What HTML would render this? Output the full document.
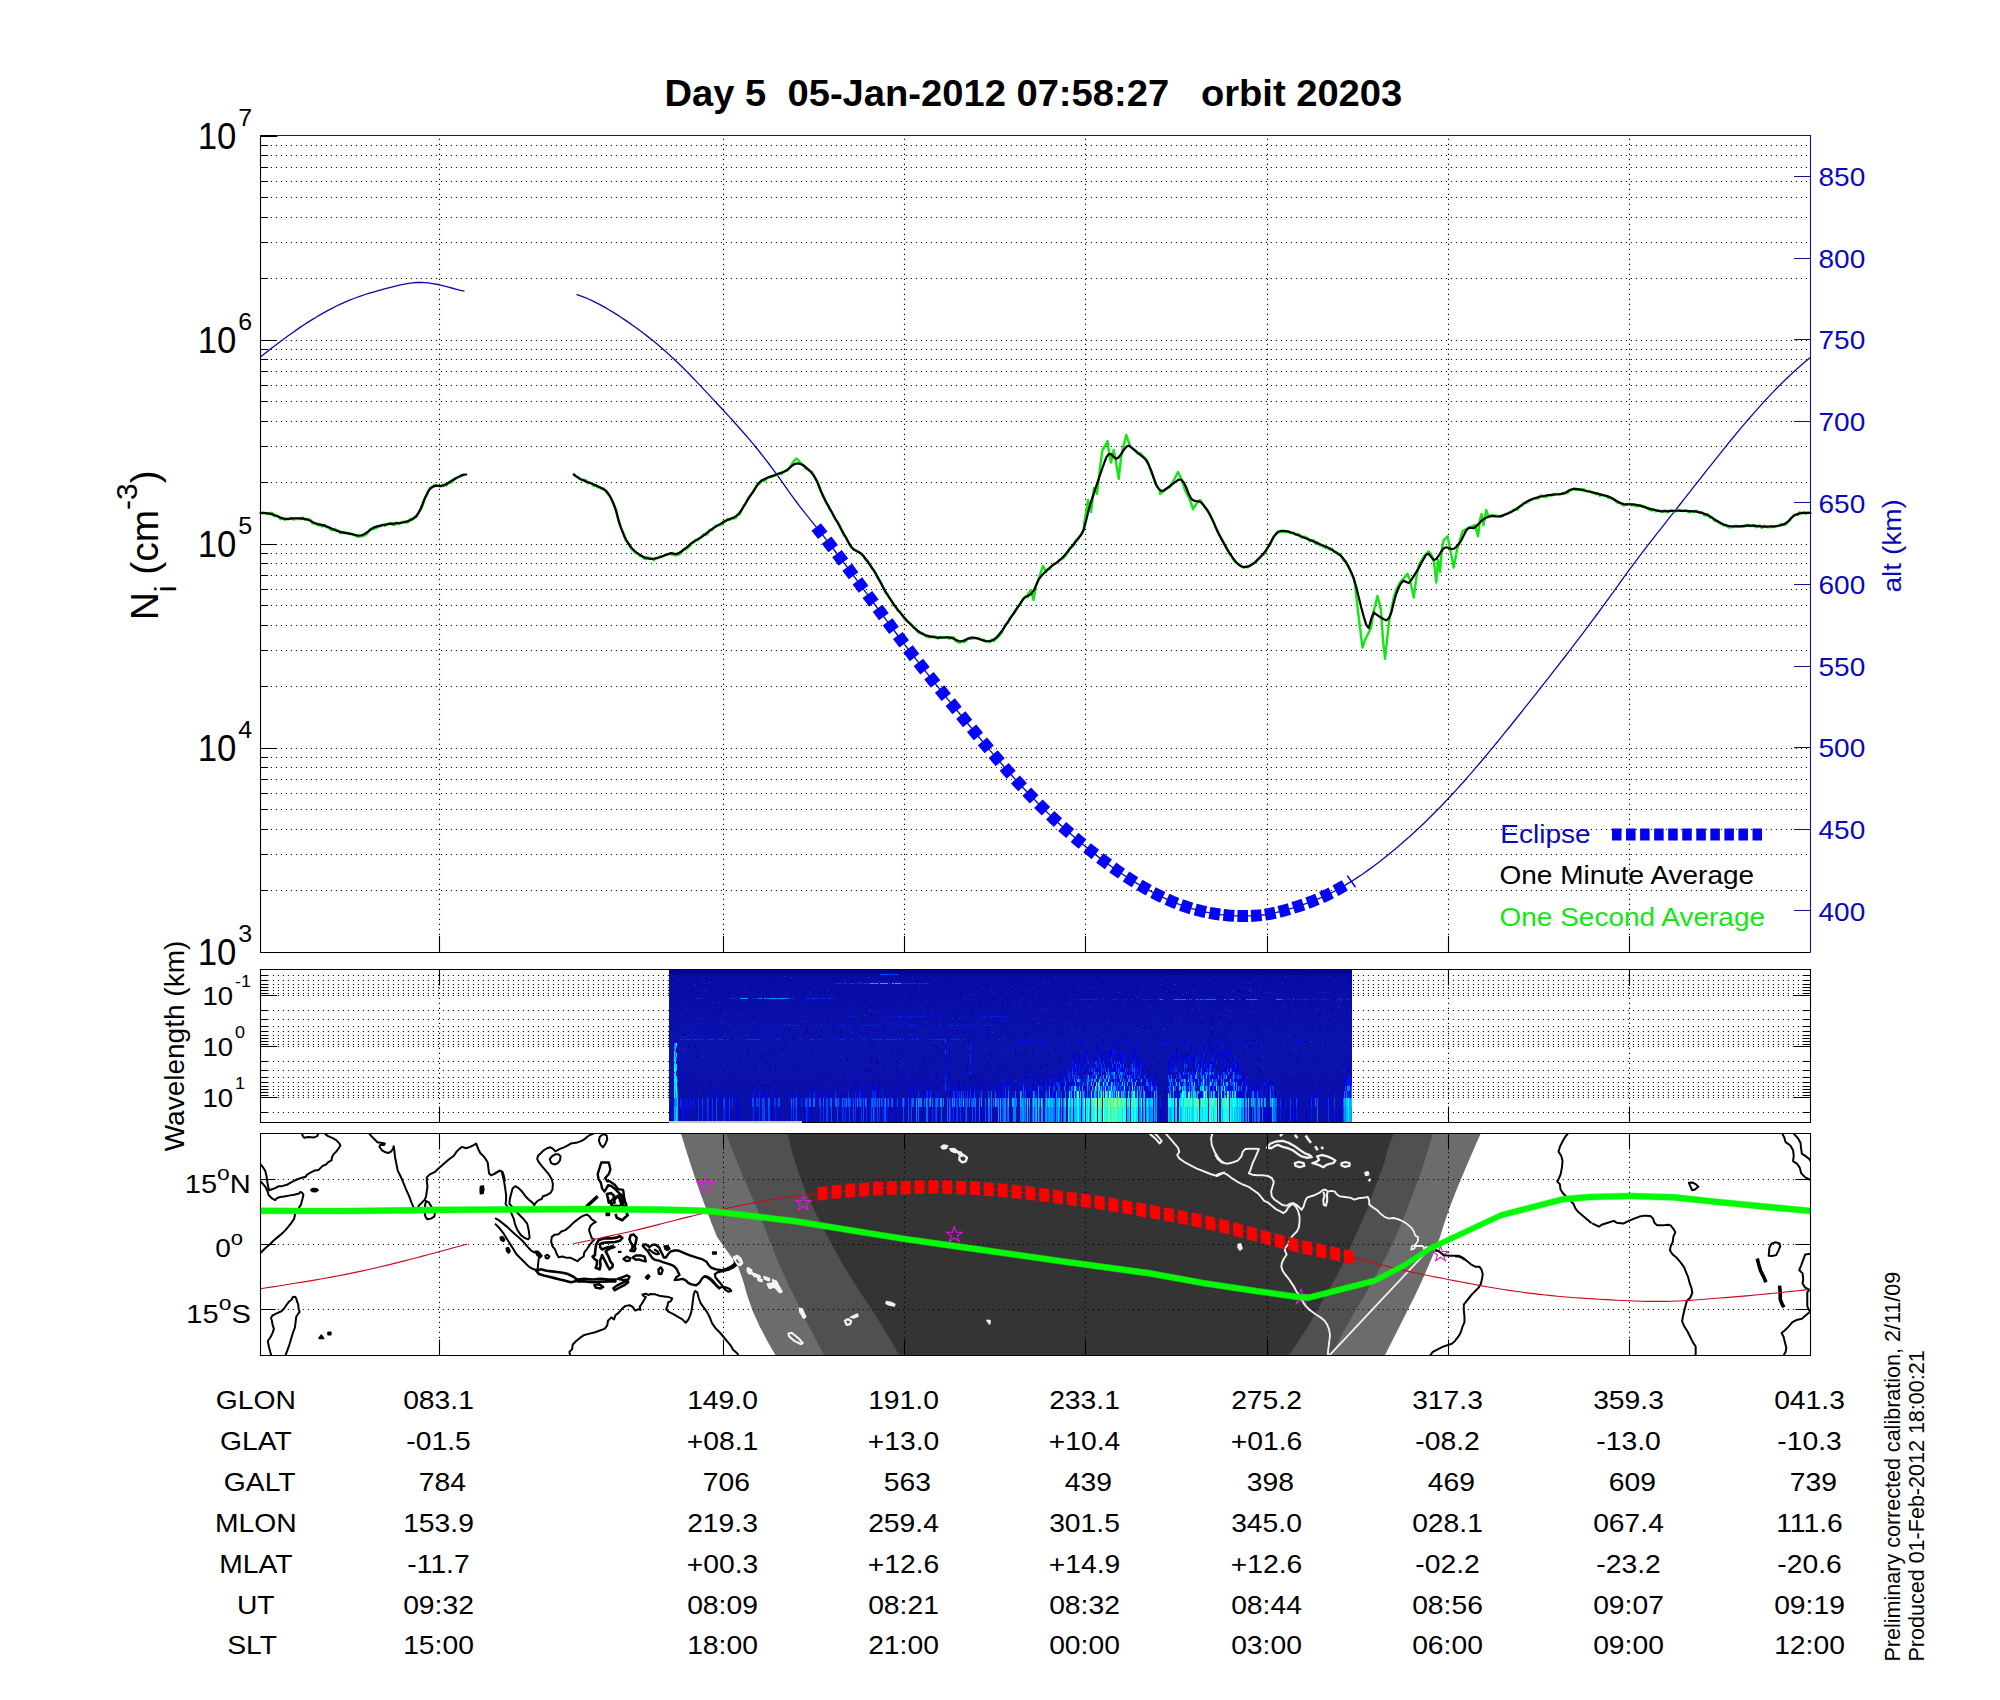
<!DOCTYPE html>
<html lang="en"><head><meta charset="utf-8"><title>Day 5 05-Jan-2012 orbit 20203</title>
<style>html,body{margin:0;padding:0;background:#fff;}svg{display:block;}text{font-family:"Liberation Sans",sans-serif;}</style>
</head><body>
<svg width="2000" height="1700" viewBox="0 0 2000 1700">
<rect width="2000" height="1700" fill="#fff"/>
<text transform="translate(1033.4,106.4) scale(1.04,1)" font-size="36.67" text-anchor="middle" fill="#000" font-weight="bold" id="title" xml:space="preserve">Day 5  05-Jan-2012 07:58:27   orbit 20203</text>
<g id="grid1" stroke="#000" stroke-width="1.1" stroke-dasharray="1.1 3.9">
<path d="M270.85 278.5H1810.5M270.85 242.5H1810.5M270.85 217.5H1810.5M270.85 197.5H1810.5M270.85 181.5H1810.5M270.85 167.5H1810.5M270.85 155.5H1810.5M270.85 145.5H1810.5M270.85 482.5H1810.5M270.85 446.5H1810.5M270.85 421.5H1810.5M270.85 401.5H1810.5M270.85 385.5H1810.5M270.85 371.5H1810.5M270.85 359.5H1810.5M270.85 349.5H1810.5M270.85 686.5H1810.5M270.85 650.5H1810.5M270.85 625.5H1810.5M270.85 605.5H1810.5M270.85 589.5H1810.5M270.85 575.5H1810.5M270.85 563.5H1810.5M270.85 553.5H1810.5M270.85 890.5H1810.5M270.85 854.5H1810.5M270.85 829.5H1810.5M270.85 809.5H1810.5M270.85 793.5H1810.5M270.85 779.5H1810.5M270.85 767.5H1810.5M270.85 757.5H1810.5M270.85 340.5H1810.5M270.85 544.5H1810.5M270.85 748.5H1810.5" fill="none"/>
<path d="M439.5 138.85V952.5M723.5 138.85V952.5M904.5 138.85V952.5M1085.5 138.85V952.5M1267.5 138.85V952.5M1448.5 138.85V952.5M1629.5 138.85V952.5" fill="none"/>
</g>
<g id="alt" fill="none" stroke="#0a0aaa" stroke-width="1.3">
<path d="M260.5 357 264.5 353.8 268.5 350.63 272.5 347.52 276.5 344.44 280.5 341.42 284.5 338.45 288.5 335.54 292.5 332.68 296.5 329.89 300.5 327.16 304.5 324.5 308.5 321.91 312.5 319.4 316.5 316.96 320.5 314.61 324.5 312.33 328.5 310.15 332.5 308.05 336.5 306.04 340.5 304.13 344.5 302.32 348.5 300.61 352.5 299.01 356.5 297.5 360.5 296.09 364.5 294.75 368.5 293.49 372.5 292.29 376.5 291.13 380.5 290.02 384.5 288.95 388.5 287.89 392.5 286.85 396.5 285.84 400.5 284.9 404.5 284.06 408.5 283.36 412.5 282.84 416.5 282.52 420.5 282.45 424.5 282.6 428.5 282.97 432.5 283.52 436.5 284.25 440.5 285.12 444.5 286.1 448.5 287.17 452.5 288.25 456.5 289.3 460.5 290.28 464.5 291.14"/>
<path d="M576.5 294.42 580.5 295.79 584.5 297.33 588.5 299.02 592.5 300.86 596.5 302.83 600.5 304.92 604.5 307.14 608.5 309.46 612.5 311.88 616.5 314.4 620.5 316.99 624.5 319.66 628.5 322.4 632.5 325.2 636.5 328.07 640.5 331.01 644.5 334.03 648.5 337.13 652.5 340.32 656.5 343.59 660.5 346.96 664.5 350.43 668.5 353.99 672.5 357.65 676.5 361.43 680.5 365.3 684.5 369.27 688.5 373.33 692.5 377.45 696.5 381.62 700.5 385.84 704.5 390.1 708.5 394.38 712.5 398.66 716.5 402.94 720.5 407.23 724.5 411.54 728.5 415.88 732.5 420.27 736.5 424.7 740.5 429.2 744.5 433.78 748.5 438.43 752.5 443.17 756.5 448.02 760.5 452.97 764.5 458.05 768.5 463.25 772.5 468.59 776.5 474.07 780.5 479.69 784.5 485.35 788.5 491.01 792.5 496.59 796.5 502.01 800.5 507.27 804.5 512.39 808.5 517.42 812.5 522.4 816.5 527.37 820.5 532.39 824.5 537.46 828.5 542.59 832.5 547.77 836.5 553 840.5 558.28 844.5 563.59 848.5 568.93 852.5 574.3 856.5 579.69 860.5 585.1 864.5 590.52 868.5 595.95 872.5 601.39 876.5 606.82 880.5 612.24 884.5 617.65 888.5 623.04 892.5 628.42 896.5 633.76 900.5 639.07 904.5 644.34 908.5 649.58 912.5 654.77 916.5 659.92 920.5 665.04 924.5 670.12 928.5 675.17 932.5 680.2 936.5 685.2 940.5 690.17 944.5 695.12 948.5 700.06 952.5 704.97 956.5 709.88 960.5 714.77 964.5 719.65 968.5 724.52 972.5 729.38 976.5 734.22 980.5 739.03 984.5 743.82 988.5 748.57 992.5 753.3 996.5 757.98 1000.5 762.61 1004.5 767.2 1008.5 771.74 1012.5 776.22 1016.5 780.64 1020.5 785 1024.5 789.29 1028.5 793.51 1032.5 797.66 1036.5 801.75 1040.5 805.77 1044.5 809.73 1048.5 813.62 1052.5 817.44 1056.5 821.2 1060.5 824.9 1064.5 828.53 1068.5 832.1 1072.5 835.61 1076.5 839.06 1080.5 842.44 1084.5 845.77 1088.5 849.03 1092.5 852.24 1096.5 855.38 1100.5 858.46 1104.5 861.48 1108.5 864.43 1112.5 867.31 1116.5 870.12 1120.5 872.87 1124.5 875.55 1128.5 878.15 1132.5 880.69 1136.5 883.15 1140.5 885.53 1144.5 887.84 1148.5 890.07 1152.5 892.21 1156.5 894.28 1160.5 896.25 1164.5 898.14 1168.5 899.94 1172.5 901.65 1176.5 903.27 1180.5 904.79 1184.5 906.21 1188.5 907.53 1192.5 908.75 1196.5 909.87 1200.5 910.89 1204.5 911.81 1208.5 912.64 1212.5 913.37 1216.5 914 1220.5 914.55 1224.5 915.01 1228.5 915.38 1232.5 915.66 1236.5 915.86 1240.5 915.97 1244.5 916.01 1248.5 915.96 1252.5 915.83 1256.5 915.59 1260.5 915.24 1264.5 914.76 1268.5 914.13 1272.5 913.35 1276.5 912.45 1280.5 911.44 1284.5 910.35 1288.5 909.21 1292.5 908.02 1296.5 906.79 1300.5 905.5 1304.5 904.14 1308.5 902.72 1312.5 901.21 1316.5 899.62 1320.5 897.94 1324.5 896.15 1328.5 894.26 1332.5 892.25 1336.5 890.13 1340.5 887.91 1344.5 885.59 1348.5 883.18 1352.5 880.68 1356.5 878.1 1360.5 875.43 1364.5 872.69 1368.5 869.86 1372.5 866.96 1376.5 863.98 1380.5 860.93 1384.5 857.8 1388.5 854.6 1392.5 851.33 1396.5 847.98 1400.5 844.57 1404.5 841.09 1408.5 837.54 1412.5 833.92 1416.5 830.24 1420.5 826.49 1424.5 822.67 1428.5 818.78 1432.5 814.82 1436.5 810.79 1440.5 806.7 1444.5 802.53 1448.5 798.3 1452.5 794 1456.5 789.63 1460.5 785.2 1464.5 780.71 1468.5 776.16 1472.5 771.56 1476.5 766.91 1480.5 762.21 1484.5 757.46 1488.5 752.68 1492.5 747.85 1496.5 742.99 1500.5 738.09 1504.5 733.17 1508.5 728.22 1512.5 723.24 1516.5 718.24 1520.5 713.23 1524.5 708.2 1528.5 703.16 1532.5 698.1 1536.5 693.05 1540.5 687.98 1544.5 682.9 1548.5 677.8 1552.5 672.7 1556.5 667.57 1560.5 662.43 1564.5 657.26 1568.5 652.08 1572.5 646.87 1576.5 641.63 1580.5 636.37 1584.5 631.08 1588.5 625.76 1592.5 620.4 1596.5 615.01 1600.5 609.59 1604.5 604.12 1608.5 598.62 1612.5 593.08 1616.5 587.53 1620.5 581.98 1624.5 576.45 1628.5 570.96 1632.5 565.54 1636.5 560.18 1640.5 554.88 1644.5 549.63 1648.5 544.44 1652.5 539.29 1656.5 534.18 1660.5 529.09 1664.5 524.03 1668.5 518.97 1672.5 513.92 1676.5 508.85 1680.5 503.77 1684.5 498.67 1688.5 493.57 1692.5 488.47 1696.5 483.37 1700.5 478.28 1704.5 473.19 1708.5 468.13 1712.5 463.08 1716.5 458.05 1720.5 453.06 1724.5 448.09 1728.5 443.17 1732.5 438.28 1736.5 433.44 1740.5 428.65 1744.5 423.91 1748.5 419.24 1752.5 414.62 1756.5 410.08 1760.5 405.6 1764.5 401.2 1768.5 396.89 1772.5 392.65 1776.5 388.51 1780.5 384.46 1784.5 380.51 1788.5 376.66 1792.5 372.91 1796.5 369.28 1800.5 365.76 1804.5 362.36 1808.5 359.09 1810.5 357.5"/>
</g>
<g id="sec" fill="none" stroke="#14e614" stroke-width="2.4" stroke-linejoin="round">
<path d="M260.5 512.47 262.5 513.29 264.5 512.88 266.5 513.72 268.5 514.05 270.5 512.83 272.5 513.24 274.5 516.28 276.5 515.49 278.5 516.27 280.5 519.19 282.5 518.37 284.5 519.83 286.5 518.98 288.5 519.41 290.5 517.89 292.5 519.06 294.5 519.54 296.5 518.5 298.5 519.17 300.5 519.09 302.5 517.56 304.5 519.78 306.5 519.7 308.5 519.49 310.5 519.77 312.5 523.3 314.5 523.19 316.5 524.5 318.5 525.42 320.5 525.39 322.5 526.42 324.5 525.49 326.5 527.33 328.5 527.16 330.5 529.43 332.5 530.19 334.5 528.9 336.5 529.83 338.5 530.75 340.5 533.37 342.5 532.32 344.5 533.24 346.5 532.7 348.5 533.66 350.5 533.74 352.5 534.1 354.5 535.24 356.5 535.71 358.5 536.97 360.5 536.23 362.5 536.4 364.5 535.25 366.5 534.27 368.5 531.81 370.5 528.82 372.5 529.38 374.5 528.67 376.5 527.9 378.5 526.43 380.5 526.36 382.5 524.52 384.5 525.87 386.5 524.81 388.5 523.71 390.5 522.86 392.5 524.89 394.5 525.1 396.5 522.41 398.5 524.21 400.5 522.88 402.5 521.82 404.5 521.76 406.5 522.51 408.5 522.09 410.5 518.91 412.5 519.5 414.5 516.74 416.5 516.81 418.5 512.53 420.5 510.28 422.5 505.85 424.5 499.34 426.5 496 428.5 490.6 430.5 487.48 432.5 487.33 434.5 484.91 436.5 485.14 438.5 485.79 440.5 486.47 442.5 485.09 444.5 484.17 446.5 485.35 448.5 482.53 450.5 483.02 452.5 481.55 454.5 478.89 456.5 478.02 458.5 477.12 460.5 476.48 462.5 475.47 464.5 474.89"/>
<path d="M573.75 473.97 575.75 476.27 577.75 477.14 579.75 479.04 581.75 480.19 583.75 479.55 585.75 480.25 587.75 483.34 589.75 482.47 591.75 483.16 593.75 486.07 595.75 485.44 597.75 487.37 599.75 487.33 601.75 488.81 603.75 488.52 605.75 491.11 607.75 494.03 609.75 496.11 611.75 500.36 613.75 504.8 615.75 508.81 617.75 518.08 619.75 524.7 621.75 529.56 623.75 533.82 625.75 540.34 627.75 542.58 629.75 546.23 631.75 549.24 633.75 550.93 635.75 553.24 637.75 553.32 639.75 555.87 641.75 556.09 643.75 558.45 645.75 559.01 647.75 557.42 649.75 557.96 651.75 558.35 653.75 560.25 655.75 558.32 657.75 558.31 659.75 556.8 661.75 556.72 663.75 555.67 665.75 554.74 667.75 554.55 669.75 553.77 671.75 554.45 673.75 554.34 675.75 555.46 677.75 554.83 679.75 554.1 681.75 551.89 683.75 548.99 685.75 549.35 687.75 547.92 689.75 546.02 691.75 543.45 693.75 542.44 695.75 539.78 697.75 540.34 699.75 538.43 701.75 536.36 703.75 534.33 705.75 535.02 707.75 533.84 709.75 529.77 711.75 530.3 713.75 527.88 715.75 525.9 717.75 525.09 719.75 525.24 721.75 524.38 723.75 520.9 725.75 521.35 727.75 518.81 729.75 519.9 731.75 518.04 733.75 518.69 735.75 517.83 737.75 515 739.75 514.19 741.75 509.43 743.75 505.52 745.75 503.55 747.75 498.58 749.75 495.96 751.75 493.63 753.75 491.08 755.75 486.71 757.75 483.53 759.75 483.42 761.75 480.12 763.75 480.88 765.75 479.82 767.75 477.56 769.75 477.03 771.75 476.46 773.75 476.07 775.75 475.18 777.75 474.33 779.75 473.76 781.75 473.92 783.75 471.95 785.75 470.91 787.75 470.31 789.75 467.17 790 467 794 461 796.75 458.5 800 462 803 465 803.75 465.38 805.75 468.8 807.75 469.23 809.75 471.12 811.75 471.71 813.75 475.46 815.75 479.31 817.75 482.05 819.75 488.57 821.75 493.56 823.75 496.52 825.75 501.91 827.75 505.06 829.75 509.25 831.75 511.94 833.75 516.53 835.75 520.22 837.75 521.81 839.75 525.52 841.75 530.84 843.75 535.25 845.75 536.85 847.75 541.03 849.75 545.01 851.75 547.3 853.75 549.32 855.75 550.34 857.75 551.37 859.75 553.02 861.75 553.8 863.75 556.41 865.75 560.06 867.75 560.62 869.75 564.9 871.75 568.27 873.75 570.16 875.75 573.18 877.75 578.34 879.75 580.48 881.75 584.13 883.75 588.56 885.75 592.87 887.75 594.48 889.75 598.16 891.75 601.14 893.75 605.39 895.75 607.02 897.75 610.83 899.75 611.46 901.75 614.39 903.75 617.64 905.75 620.57 907.75 621.53 909.75 622.98 911.75 624.67 913.75 627.7 915.75 628.51 917.75 631.85 919.75 633.38 921.75 632.79 923.75 634.07 925.75 636.33 927.75 636.48 929.75 637.44 931.75 636.55 933.75 636.25 935.75 636.95 937.75 638.54 939.75 637.16 941.75 637.35 943.75 637.47 945.75 637.4 947.75 637.35 949.75 638.86 951.75 637.12 953.75 637.54 955.75 641.18 957.75 641.93 959.75 642.78 961.75 641.2 963.75 642.09 965.75 641.17 967.75 638.26 969.75 638.91 971.75 638.69 973.75 638.22 975.75 638.19 977.75 638.13 979.75 638.99 981.75 639.41 983.75 639.61 985.75 641.53 987.75 640.86 989.75 642.21 991.75 639.59 993.75 641.02 995.75 638.82 997.75 637.48 999.75 635.08 1001.75 632.42 1003.75 628.54 1005.75 623.96 1007.75 623.01 1009.75 618.41 1011.75 615.76 1013.75 613.78 1015.75 610.39 1017.75 607.08 1019.75 605.55 1021.75 601.64 1023.75 598.17 1025.75 596.34 1027.75 597.09 1028 594 1031 590 1033.5 600 1036 586 1040 575 1043 566 1046 572 1047.75 569.64 1049.75 568.71 1051.75 565.86 1053.75 563.94 1055.75 563.44 1057.75 562.76 1059.75 559.35 1061.75 559.27 1063.75 557.55 1065.75 554.95 1067.75 552.61 1069.75 547.86 1071.75 547.09 1073.75 545.25 1075.75 540.54 1077.75 538.77 1079.75 536.22 1081.75 534.02 1083.75 529.48 1084 525 1088 500 1091 512 1094 488 1097 494 1100 468 1102.5 450 1105 446 1107.5 441 1109 452 1111 462.5 1113.75 450 1116 462 1118.75 478.75 1121 458 1122.5 450 1126.25 435 1128 440 1130 446 1135 451 1135.75 451.17 1137.75 453.68 1139.75 453.18 1141.75 455 1143.75 456.86 1145.75 458.68 1147.75 461.82 1149.75 468.51 1151.75 473.24 1153.75 477.38 1155.75 484.14 1157.75 487.29 1159.75 489.72 1160 494 1165 490 1170 487 1175 478 1178 472 1181 478 1185 490 1190 500 1193 509 1197 503 1200 500 1201.75 502.73 1203.75 505.92 1205.75 508.42 1207.75 510.81 1209.75 513.85 1211.75 518.27 1213.75 522 1215.75 527.63 1217.75 532.43 1219.75 535.62 1221.75 538.63 1223.75 542.57 1225.75 546.63 1227.75 550.62 1229.75 554.32 1231.75 556.25 1233.75 560.3 1235.75 562.29 1237.75 563.8 1239.75 565.2 1241.75 566.61 1243.75 567.72 1245.75 566.91 1247.75 567.24 1249.75 565.81 1251.75 564.11 1253.75 563.55 1255.75 562.36 1257.75 558.76 1259.75 557.72 1261.75 555.54 1263.75 554.46 1265.75 552.08 1267.75 547.56 1269.75 545.37 1271.75 541.23 1273.75 536.27 1275.75 534.24 1277.75 531.49 1279.75 532.3 1281.75 531.42 1283.75 532.1 1285.75 532 1287.75 531.98 1289.75 532.76 1291.75 533.07 1293.75 532.58 1295.75 534.73 1297.75 533.89 1299.75 535.08 1301.75 537.65 1303.75 536.42 1305.75 537.36 1307.75 538.2 1309.75 541.21 1311.75 540.07 1313.75 540.45 1315.75 543.57 1317.75 542.38 1319.75 545.23 1321.75 545.59 1323.75 546.87 1325.75 548.04 1327.75 547.92 1329.75 549.57 1331.75 548.56 1333.75 551.81 1335.75 552.37 1337.75 554.26 1339.75 553.93 1341.75 557.47 1343.75 560.53 1345.75 561.12 1347.75 565.12 1349.75 569.41 1351.75 574.47 1353.75 578.1 1355 585 1359 620 1362.5 647.5 1365 640 1367.5 635 1371 628 1374 610 1377.5 596 1381 610 1383 640 1385 658.75 1387 640 1389 622 1393.75 597.5 1397 588 1400 582.5 1404 578 1407.5 573.75 1410 580 1413.75 597.5 1416 580 1418.75 565 1424 556 1428.75 551.25 1432 556 1434 562 1436.25 582.5 1438 560 1440 572 1442 548 1443.75 540 1447.5 536.25 1450 548 1453.75 567.5 1457 550 1460 540 1462.5 531.25 1468 528 1475 525 1478 536.25 1480 520 1481.5 514 1483.5 525 1486.25 510 1488.5 517 1492 515 1495 516 1495.75 515.7 1497.75 516.03 1499.75 516.84 1501.75 516.66 1503.75 514.99 1505.75 514.18 1507.75 513.44 1509.75 512.41 1511.75 511.61 1513.75 509.59 1515.75 509.51 1517.75 509.46 1519.75 506.46 1521.75 505.94 1523.75 502.89 1525.75 503.04 1527.75 502.03 1529.75 500.8 1531.75 499.53 1533.75 498.71 1535.75 498.52 1537.75 498.67 1539.75 496.07 1541.75 495.47 1543.75 496.89 1545.75 496.98 1547.75 495.56 1549.75 495.12 1551.75 495.7 1553.75 494.04 1555.75 494.11 1557.75 493.74 1559.75 494.6 1561.75 493.56 1563.75 492.87 1565.75 493.26 1567.75 492.86 1569.75 489.86 1571.75 490.06 1573.75 488.72 1575.75 490.03 1577.75 489.57 1579.75 489.05 1581.75 489.32 1583.75 489.23 1585.75 490.98 1587.75 491.18 1589.75 491.06 1591.75 492.06 1593.75 492.43 1595.75 494.18 1597.75 492.91 1599.75 495.78 1601.75 494.86 1603.75 495.71 1605.75 495.88 1607.75 497.46 1609.75 498.18 1611.75 498.44 1613.75 499.39 1615.75 501.28 1617.75 502.84 1619.75 502.61 1621.75 504.37 1623.75 505.53 1625.75 504.42 1627.75 503.85 1629.75 503.87 1631.75 505.21 1633.75 505.15 1635.75 506.13 1637.75 506.26 1639.75 505.11 1641.75 505.57 1643.75 506.41 1645.75 506.85 1647.75 508.91 1649.75 509.89 1651.75 510.52 1653.75 509.22 1655.75 511.41 1657.75 510.3 1659.75 510.95 1661.75 512.04 1663.75 510.34 1665.75 510.33 1667.75 512.3 1669.75 510.64 1671.75 510.68 1673.75 511.2 1675.75 511.44 1677.75 509.57 1679.75 510.51 1681.75 510.83 1683.75 511.01 1685.75 510.31 1687.75 511.44 1689.75 512.57 1691.75 511.1 1693.75 511.67 1695.75 510.71 1697.75 511.47 1699.75 512.98 1701.75 511.97 1703.75 514.77 1705.75 515.59 1707.75 514.19 1709.75 517.65 1711.75 517.36 1713.75 519.85 1715.75 521.13 1717.75 521.01 1719.75 523.18 1721.75 524.18 1723.75 525.56 1725.75 524.82 1727.75 526.71 1729.75 527.61 1731.75 526.98 1733.75 526.69 1735.75 525.51 1737.75 526.52 1739.75 526.05 1741.75 526.95 1743.75 526.64 1745.75 526.12 1747.75 524.88 1749.75 526.11 1751.75 526.12 1753.75 525 1755.75 527.19 1757.75 526.75 1759.75 525.46 1761.75 527.87 1763.75 525.73 1765.75 526.29 1767.75 527.36 1769.75 526.96 1771.75 526.76 1773.75 526.93 1775.75 526.28 1777.75 525.62 1779.75 524.82 1781.75 523.95 1783.75 525.06 1785.75 524.28 1787.75 522.09 1789.75 520.55 1791.75 517.34 1793.75 515.29 1795.75 514.55 1797.75 515.19 1799.75 512.33 1801.75 513.29 1803.75 512.4 1805.75 513.76 1807.75 512.58 1809.75 512.64"/>
</g>
<g id="min" fill="none" stroke="#000" stroke-width="2.2" stroke-linejoin="round" stroke-linecap="round">
<path d="M260.5 513 263 512.97 265.5 513.12 268 513.42 270.5 513.85 273 514.57 275.5 515.54 278 516.6 280.5 517.61 283 518.39 285.5 518.8 288 518.84 290.5 518.67 293 518.43 295.5 518.25 298 518.27 300.5 518.41 303 518.64 305.5 519.03 308 519.66 310.5 520.88 313 522.35 315.5 523.41 318 524.05 320.5 524.59 323 525.17 325.5 525.92 328 526.9 330.5 528.01 333 529.16 335.5 530.25 338 531.18 340.5 531.87 343 532.4 345.5 532.87 348 533.35 350.5 533.86 353 534.44 355.5 535.05 358 535.59 360.5 535.52 363 534.81 365.5 533.41 368 531.53 370.5 529.56 373 527.88 375.5 526.85 378 526.17 380.5 525.56 383 525.03 385.5 524.57 388 524.18 390.5 523.88 393 523.65 395.5 523.45 398 523.22 400.5 522.93 403 522.49 405.5 521.87 408 521.03 410.5 519.98 413 518.7 415.5 517.11 418 513.69 420.5 509.01 423 503.02 425.5 496.65 428 491.69 430.5 488.46 433 486.57 435.5 485.85 438 485.82 440.5 485.96 443 485.76 445.5 484.71 448 483.17 450.5 481.53 453 479.93 455.5 478.47 458 477.13 460.5 475.88 463 474.82 465.5 474.48 466.25 474.5"/>
<path d="M573.75 474.5 576.25 476.3 578.75 477.94 581.25 479.38 583.75 480.57 586.25 481.61 588.75 482.57 591.25 483.51 593.75 484.48 596.25 485.54 598.75 486.7 601.25 487.96 603.75 489.3 606.25 491 608.75 494.26 611.25 498.48 613.75 504.12 616.25 511.55 618.75 520.88 621.25 528.55 623.75 534.94 626.25 540 628.75 543.98 631.25 547.38 633.75 550.13 636.25 552.26 638.75 554.14 641.25 555.76 643.75 557.03 646.25 557.91 648.75 558.59 651.25 558.93 653.75 558.75 656.25 558.17 658.75 557.46 661.25 556.67 663.75 555.79 666.25 554.75 668.75 553.71 671.25 553.08 673.75 553.63 676.25 554.07 678.75 553.11 681.25 551.55 683.75 549.73 686.25 547.72 688.75 545.55 691.25 543.44 693.75 541.64 696.25 540.09 698.75 538.62 701.25 537.09 703.75 535.35 706.25 533.44 708.75 531.49 711.25 529.61 713.75 527.93 716.25 526.37 718.75 524.88 721.25 523.42 723.75 521.98 726.25 520.57 728.75 519.48 731.25 518.51 733.75 517.42 736.25 515.95 738.75 513.79 741.25 510.52 743.75 506.5 746.25 502.21 748.75 498.09 751.25 494.44 753.75 490.57 756.25 486.73 758.75 483.33 761.25 480.8 763.75 479.4 766.25 478.3 768.75 477.32 771.25 476.39 773.75 475.47 776.25 474.53 778.75 473.6 781.25 472.67 783.75 471.73 786.25 470.6 788.75 468.62 791.25 466.34 793.75 464.5 796.25 463.54 798.75 463.46 801.25 464.25 803.75 465.73 806.25 467.67 808.75 469.86 811.25 472.32 813.75 475.5 816.25 479.88 818.75 485.58 821.25 491.77 823.75 497.55 826.25 502.25 828.75 506.75 831.25 511.25 833.75 515.75 836.25 520.25 838.75 524.75 841.25 529.25 843.75 533.75 846.25 538.25 848.75 542.75 851.25 546.96 853.75 549.5 856.25 550.89 858.75 552 861.25 553.68 863.75 556.55 866.25 559.75 868.75 563.11 871.25 566.67 873.75 570.49 876.25 574.61 878.75 579.14 881.25 583.86 883.75 588.54 886.25 592.96 888.75 596.94 891.25 600.68 893.75 604.25 896.25 607.66 898.75 610.92 901.25 614.04 903.75 617.02 906.25 619.84 908.75 622.52 911.25 625.04 913.75 627.42 916.25 629.6 918.75 631.54 921.25 633.18 923.75 634.49 926.25 635.43 928.75 636.15 931.25 636.69 933.75 637.09 936.25 637.38 938.75 637.58 941.25 637.59 943.75 637.5 946.25 637.41 948.75 637.42 951.25 637.73 953.75 638.72 956.25 639.99 958.75 641 961.25 641.25 963.75 640.63 966.25 639.54 968.75 638.4 971.25 637.62 973.75 637.57 976.25 638.06 978.75 638.87 981.25 639.79 983.75 640.62 986.25 641.16 988.75 641.23 991.25 640.83 993.75 639.69 996.25 637.61 998.75 634.97 1001.25 631.8 1003.75 628.12 1006.25 624.38 1008.75 620.62 1011.25 616.88 1013.75 613.12 1016.25 609.38 1018.75 605.62 1021.25 601.88 1023.75 598.42 1026.25 596.56 1028.75 595.44 1031.25 593.85 1033.75 590.47 1036.25 584.86 1038.75 579.38 1041.25 576.1 1043.75 573.42 1046.25 570.92 1048.75 568.59 1051.25 566.47 1053.75 564.58 1056.25 562.79 1058.75 560.9 1061.25 558.74 1063.75 556.16 1066.25 553.31 1068.75 550.28 1071.25 547.16 1073.75 544.04 1076.25 541 1078.75 537.97 1081.25 534.52 1083.75 529.5 1086.25 520 1088.75 509.39 1091.25 501.19 1093.75 493.63 1096.25 486.12 1098.75 478.69 1101.25 471.35 1103.75 464.25 1106.25 457.5 1108.75 454.04 1111.25 454.22 1113.75 457.01 1116.25 458.75 1118.75 457.24 1121.25 453.89 1123.75 449.99 1126.25 446.83 1128.75 445.67 1131.25 447.29 1133.75 449.38 1136.25 451.46 1138.75 453.54 1141.25 455.62 1143.75 457.71 1146.25 460.22 1148.75 464.87 1151.25 470.59 1153.75 478.34 1156.25 485 1158.75 488.99 1161.25 490.97 1163.75 490.5 1166.25 488.67 1168.75 486.83 1171.25 485 1173.75 483.17 1176.25 481.33 1178.75 479.5 1181.25 479.74 1183.75 482.5 1186.25 487.51 1188.75 493.99 1191.25 498.75 1193.75 500.57 1196.25 501.09 1198.75 501.37 1201.25 502.52 1203.75 505.3 1206.25 508.69 1208.75 512.69 1211.25 517.51 1213.75 522.86 1216.25 528.37 1218.75 533.73 1221.25 538.66 1223.75 543.27 1226.25 547.63 1228.75 551.75 1231.25 555.64 1233.75 559.26 1236.25 562.3 1238.75 564.63 1241.25 566.21 1243.75 566.95 1246.25 566.86 1248.75 566.15 1251.25 564.92 1253.75 563.25 1256.25 561.17 1258.75 558.76 1261.25 556.11 1263.75 553.19 1266.25 550 1268.75 545.94 1271.25 541.16 1273.75 536.74 1276.25 533.63 1278.75 531.7 1281.25 530.82 1283.75 530.81 1286.25 531.04 1288.75 531.57 1291.25 532.5 1293.75 533.49 1296.25 534.48 1298.75 535.48 1301.25 536.48 1303.75 537.49 1306.25 538.51 1308.75 539.53 1311.25 540.56 1313.75 541.59 1316.25 542.62 1318.75 543.66 1321.25 544.69 1323.75 545.73 1326.25 546.79 1328.75 548.01 1331.25 549.37 1333.75 550.87 1336.25 552.46 1338.75 554.14 1341.25 556.06 1343.75 559.11 1346.25 562.95 1348.75 567.15 1351.25 572.2 1353.75 578.62 1356.25 586.97 1358.75 597.23 1361.25 607.5 1363.75 616.84 1366.25 624.86 1368.75 628.03 1371.25 618.7 1373.75 612.5 1376.25 614.29 1378.75 616.15 1381.25 617.79 1383.75 619.3 1386.25 620.28 1388.75 618.41 1391.25 612.8 1393.75 602.85 1396.25 593.75 1398.75 587.53 1401.25 582.8 1403.75 580.71 1406.25 582.08 1408.75 583.05 1411.25 580.12 1413.75 576.19 1416.25 572.08 1418.75 567.85 1421.25 563.3 1423.75 558.72 1426.25 554.5 1428.75 553.87 1431.25 557.08 1433.75 559.97 1436.25 558.98 1438.75 555.56 1441.25 551.53 1443.75 548.33 1446.25 547.3 1448.75 548.05 1451.25 549.04 1453.75 548.75 1456.25 546.84 1458.75 544.11 1461.25 540.49 1463.75 535.31 1466.25 530.4 1468.75 527.93 1471.25 527.94 1473.75 528.12 1476.25 526.36 1478.75 523.64 1481.25 521.01 1483.75 519.16 1486.25 517.69 1488.75 516.6 1491.25 516.07 1493.75 516.16 1496.25 516.45 1498.75 516.48 1501.25 515.9 1503.75 515.09 1506.25 514.15 1508.75 513.09 1511.25 511.89 1513.75 510.55 1516.25 508.97 1518.75 507.22 1521.25 505.41 1523.75 503.64 1526.25 501.99 1528.75 500.58 1531.25 499.48 1533.75 498.56 1536.25 497.77 1538.75 497.1 1541.25 496.51 1543.75 495.99 1546.25 495.53 1548.75 495.19 1551.25 494.93 1553.75 494.72 1556.25 494.52 1558.75 494.28 1561.25 493.95 1563.75 493.42 1566.25 492.26 1568.75 490.8 1571.25 489.49 1573.75 488.76 1576.25 488.91 1578.75 489.31 1581.25 489.81 1583.75 490.36 1586.25 490.95 1588.75 491.54 1591.25 492.14 1593.75 492.73 1596.25 493.34 1598.75 493.96 1601.25 494.59 1603.75 495.24 1606.25 495.91 1608.75 496.66 1611.25 497.81 1613.75 499.24 1616.25 500.76 1618.75 502.19 1621.25 503.34 1623.75 504.04 1626.25 504.35 1628.75 504.42 1631.25 504.4 1633.75 504.45 1636.25 504.73 1638.75 505.34 1641.25 506.09 1643.75 506.88 1646.25 507.68 1648.75 508.42 1651.25 509.07 1653.75 509.71 1656.25 510.3 1658.75 510.8 1661.25 511.15 1663.75 511.29 1666.25 511.25 1668.75 511.1 1671.25 510.91 1673.75 510.77 1676.25 510.75 1678.75 510.76 1681.25 510.79 1683.75 510.85 1686.25 510.94 1688.75 511.04 1691.25 511.17 1693.75 511.35 1696.25 511.65 1698.75 512.1 1701.25 512.71 1703.75 513.49 1706.25 514.45 1708.75 515.63 1711.25 517.17 1713.75 518.88 1716.25 520.53 1718.75 521.93 1721.25 523.29 1723.75 524.51 1726.25 525.44 1728.75 525.97 1731.25 526.26 1733.75 526.38 1736.25 526.38 1738.75 526.3 1741.25 526.18 1743.75 525.94 1746.25 525.69 1748.75 525.52 1751.25 525.53 1753.75 525.7 1756.25 525.95 1758.75 526.22 1761.25 526.43 1763.75 526.54 1766.25 526.56 1768.75 526.52 1771.25 526.43 1773.75 526.31 1776.25 526.15 1778.75 525.75 1781.25 525.11 1783.75 524.25 1786.25 523.03 1788.75 520.76 1791.25 518.06 1793.75 515.75 1796.25 514.48 1798.75 513.66 1801.25 513.14 1803.75 512.91 1806.25 512.79 1808.75 512.83 1810.5 513"/>
</g>
<g id="eclipse" fill="none" stroke="#0404f8" stroke-width="12">
<path d="M816.2 527 819.6 531.25 822.8 535.3M826.6 540.15 830 544.53 833.2 548.68M837 553.66 840.2 557.88 843.4 562.12M847.2 567.19 850.4 571.48 853.6 575.78M857.4 580.91 860.6 585.24 863.6 589.3M867.4 594.46 870.6 598.81 873.8 603.15M877.6 608.31 880.8 612.65 883.8 616.71M887.6 621.83 890.8 626.14 894 630.42M897.8 635.49 901 639.73 904.2 643.95M908 648.92 911.4 653.34 914.6 657.48M918.4 662.36 921.8 666.69 925 670.75M929 675.8 932.4 680.07 935.6 684.07M939.6 689.05 943 693.27 946.2 697.22M950.2 702.15 953.6 706.32 957 710.49M960.8 715.13 964.2 719.28 967.6 723.43M971.6 728.29 975 732.41 978.4 736.51M982.4 741.31 985.8 745.37 989.2 749.4M993.2 754.12 996.8 758.33 1000.2 762.27M1004.2 766.86 1007.8 770.95 1011.2 774.77M1015.4 779.43 1019 783.37 1022.6 787.26M1026.8 791.72 1030.6 795.7 1034.2 799.41M1038.4 803.67 1042.2 807.46 1046 811.19M1050.2 815.25 1054.2 819.05 1058 822.6M1062.2 826.45 1066.2 830.06 1070.2 833.6M1074.6 837.43 1078.6 840.84 1082.6 844.2M1087 847.82 1091.2 851.2 1095.4 854.52M1099.8 857.93 1104.2 861.25 1108.4 864.35M1112.8 867.52 1117.2 870.61 1121.6 873.62M1126 876.53 1130.6 879.49 1135 882.23M1139.4 884.88 1144.2 887.67 1148.8 890.23M1153 892.48 1158 895.03 1162.8 897.35M1167 899.28 1172 901.44 1177 903.46M1181 904.97 1186.2 906.78 1191.4 908.43M1195.2 909.52 1200.6 910.91 1205.8 912.09M1209.4 912.81 1214.8 913.74 1220 914.49M1223.4 914.89 1228.8 915.4 1234.2 915.75M1237.4 915.89 1242.8 916 1248 915.97M1251 915.89 1256.4 915.6 1261.6 915.12M1265 914.69 1270.2 913.82 1275.4 912.71M1279 911.83 1284.2 910.44 1289.4 908.95M1293.2 907.81 1298.4 906.18 1303.4 904.52M1307.4 903.11 1312.4 901.25 1317.4 899.25M1321.6 897.46 1326.4 895.27 1331.2 892.91M1335.4 890.73 1340.2 888.08 1344.8 885.42"/>
</g>
<path d="M1347.3 875.6L1355.5 887.3" stroke="#0505c8" stroke-width="1.5" fill="none"/>
<g id="ax1" fill="none" stroke="#000" stroke-width="1.1">
<path d="M260.5 135.5V952.5H1810.5M260.5 135.5h16.5M260.5 340.5h16.5M260.5 544.5h16.5M260.5 748.5h16.5M260.5 952.5h16.5M260.5 278.5h7.5M260.5 242.5h7.5M260.5 217.5h7.5M260.5 197.5h7.5M260.5 181.5h7.5M260.5 167.5h7.5M260.5 155.5h7.5M260.5 145.5h7.5M260.5 482.5h7.5M260.5 446.5h7.5M260.5 421.5h7.5M260.5 401.5h7.5M260.5 385.5h7.5M260.5 371.5h7.5M260.5 359.5h7.5M260.5 349.5h7.5M260.5 686.5h7.5M260.5 650.5h7.5M260.5 625.5h7.5M260.5 605.5h7.5M260.5 589.5h7.5M260.5 575.5h7.5M260.5 563.5h7.5M260.5 553.5h7.5M260.5 890.5h7.5M260.5 854.5h7.5M260.5 829.5h7.5M260.5 809.5h7.5M260.5 793.5h7.5M260.5 779.5h7.5M260.5 767.5h7.5M260.5 757.5h7.5M439.5 952.5v-16.5M723.5 952.5v-16.5M904.5 952.5v-16.5M1085.5 952.5v-16.5M1267.5 952.5v-16.5M1448.5 952.5v-16.5M1629.5 952.5v-16.5"/>
</g>
<g id="ax1r" fill="none" stroke="#12128e" stroke-width="1.1">
<path d="M277.5 135.5H1810.5V952.5M1810.5 176.5h-16.5M1810.5 258.5h-16.5M1810.5 339.5h-16.5M1810.5 421.5h-16.5M1810.5 502.5h-16.5M1810.5 584.5h-16.5M1810.5 666.5h-16.5M1810.5 747.5h-16.5M1810.5 829.5h-16.5M1810.5 910.5h-16.5"/>
</g>
<path d="M260.5 136h17" stroke="#000" stroke-width="2" fill="none"/>
<text transform="translate(236.4,148.8) scale(0.95,1)" font-size="36.67" text-anchor="end" fill="#000" xml:space="preserve">10</text>
<text transform="translate(238.2,125.5) scale(1.04,1)" font-size="24" text-anchor="start" fill="#000" xml:space="preserve">7</text>
<text transform="translate(236.4,352.8) scale(0.95,1)" font-size="36.67" text-anchor="end" fill="#000" xml:space="preserve">10</text>
<text transform="translate(238.2,329.5) scale(1.04,1)" font-size="24" text-anchor="start" fill="#000" xml:space="preserve">6</text>
<text transform="translate(236.4,556.8) scale(0.95,1)" font-size="36.67" text-anchor="end" fill="#000" xml:space="preserve">10</text>
<text transform="translate(238.2,533.5) scale(1.04,1)" font-size="24" text-anchor="start" fill="#000" xml:space="preserve">5</text>
<text transform="translate(236.4,760.8) scale(0.95,1)" font-size="36.67" text-anchor="end" fill="#000" xml:space="preserve">10</text>
<text transform="translate(238.2,737.5) scale(1.04,1)" font-size="24" text-anchor="start" fill="#000" xml:space="preserve">4</text>
<text transform="translate(236.4,964.8) scale(0.95,1)" font-size="36.67" text-anchor="end" fill="#000" xml:space="preserve">10</text>
<text transform="translate(238.2,941.5) scale(1.04,1)" font-size="24" text-anchor="start" fill="#000" xml:space="preserve">3</text>
<text transform="translate(1818.5,186.1) scale(1.05,1)" font-size="26.67" text-anchor="start" fill="#0808c0" xml:space="preserve">850</text>
<text transform="translate(1818.5,267.7) scale(1.05,1)" font-size="26.67" text-anchor="start" fill="#0808c0" xml:space="preserve">800</text>
<text transform="translate(1818.5,349.3) scale(1.05,1)" font-size="26.67" text-anchor="start" fill="#0808c0" xml:space="preserve">750</text>
<text transform="translate(1818.5,430.9) scale(1.05,1)" font-size="26.67" text-anchor="start" fill="#0808c0" xml:space="preserve">700</text>
<text transform="translate(1818.5,512.5) scale(1.05,1)" font-size="26.67" text-anchor="start" fill="#0808c0" xml:space="preserve">650</text>
<text transform="translate(1818.5,594.1) scale(1.05,1)" font-size="26.67" text-anchor="start" fill="#0808c0" xml:space="preserve">600</text>
<text transform="translate(1818.5,675.7) scale(1.05,1)" font-size="26.67" text-anchor="start" fill="#0808c0" xml:space="preserve">550</text>
<text transform="translate(1818.5,757.3) scale(1.05,1)" font-size="26.67" text-anchor="start" fill="#0808c0" xml:space="preserve">500</text>
<text transform="translate(1818.5,838.9) scale(1.05,1)" font-size="26.67" text-anchor="start" fill="#0808c0" xml:space="preserve">450</text>
<text transform="translate(1818.5,920.5) scale(1.05,1)" font-size="26.67" text-anchor="start" fill="#0808c0" xml:space="preserve">400</text>
<g transform="translate(158,620.3) rotate(-90)">
<text font-size="38.9" fill="#000" xml:space="preserve">N<tspan font-size="30" dy="18">i</tspan><tspan dy="-18"> (cm</tspan><tspan font-size="30" dy="-21">-3</tspan><tspan dy="21">)</tspan></text>
</g>
<text transform="translate(1901.2,545.8) rotate(-90) scale(1.05,1)" font-size="26.67" text-anchor="middle" fill="#0808c0" xml:space="preserve">alt (km)</text>
<text transform="translate(1500.3,843) scale(1.05,1)" font-size="26.67" text-anchor="start" fill="#0808c0" xml:space="preserve">Eclipse</text>
<text transform="translate(1499.5,883.9) scale(1.05,1)" font-size="26.67" text-anchor="start" fill="#000" xml:space="preserve">One Minute Average</text>
<text transform="translate(1499.5,925.8) scale(1.05,1)" font-size="26.67" text-anchor="start" fill="#14e614" xml:space="preserve">One Second Average</text>
<path d="M1612 834.5h9.5M1626.05 834.5h9.5M1640.1 834.5h9.5M1654.15 834.5h9.5M1668.2 834.5h9.5M1682.25 834.5h9.5M1696.3 834.5h9.5M1710.35 834.5h9.5M1724.4 834.5h9.5M1738.45 834.5h9.5M1752.5 834.5h9.5" stroke="#0000f0" stroke-width="12" fill="none"/>
<g id="grid2" stroke="#000" stroke-width="1.1" stroke-dasharray="1.1 3.9">
<path d="M272.85 975.5H1802.5M272.85 980.5H1802.5M272.85 984.5H1802.5M272.85 987.5H1802.5M272.85 990.5H1802.5M272.85 993.5H1802.5M272.85 1010.5H1802.5M272.85 1019.5H1802.5M272.85 1026.5H1802.5M272.85 1031.5H1802.5M272.85 1035.5H1802.5M272.85 1038.5H1802.5M272.85 1041.5H1802.5M272.85 1044.5H1802.5M272.85 1061.5H1802.5M272.85 1070.5H1802.5M272.85 1077.5H1802.5M272.85 1082.5H1802.5M272.85 1086.5H1802.5M272.85 1089.5H1802.5M272.85 1092.5H1802.5M272.85 1095.5H1802.5M272.85 1112.5H1802.5M272.85 995.5H1802.5M272.85 1046.5H1802.5M272.85 1097.5H1802.5" fill="none"/>
<path d="M439.5 972.85V1122.5M723.5 972.85V1122.5M904.5 972.85V1122.5M1085.5 972.85V1122.5M1267.5 972.85V1122.5M1448.5 972.85V1122.5M1629.5 972.85V1122.5" fill="none"/>
</g>
<g id="ax2" fill="none" stroke="#000" stroke-width="1.1">
<path d="M260.5 969.5H1810.5V1122.5H260.5ZM260.5 995.5h16.5M1810.5 995.5h-16.5M260.5 1046.5h16.5M1810.5 1046.5h-16.5M260.5 1097.5h16.5M1810.5 1097.5h-16.5M260.5 975.5h8M1810.5 975.5h-8M260.5 980.5h8M1810.5 980.5h-8M260.5 984.5h8M1810.5 984.5h-8M260.5 987.5h8M1810.5 987.5h-8M260.5 990.5h8M1810.5 990.5h-8M260.5 993.5h8M1810.5 993.5h-8M260.5 1010.5h8M1810.5 1010.5h-8M260.5 1019.5h8M1810.5 1019.5h-8M260.5 1026.5h8M1810.5 1026.5h-8M260.5 1031.5h8M1810.5 1031.5h-8M260.5 1035.5h8M1810.5 1035.5h-8M260.5 1038.5h8M1810.5 1038.5h-8M260.5 1041.5h8M1810.5 1041.5h-8M260.5 1044.5h8M1810.5 1044.5h-8M260.5 1061.5h8M1810.5 1061.5h-8M260.5 1070.5h8M1810.5 1070.5h-8M260.5 1077.5h8M1810.5 1077.5h-8M260.5 1082.5h8M1810.5 1082.5h-8M260.5 1086.5h8M1810.5 1086.5h-8M260.5 1089.5h8M1810.5 1089.5h-8M260.5 1092.5h8M1810.5 1092.5h-8M260.5 1095.5h8M1810.5 1095.5h-8M260.5 1112.5h8M1810.5 1112.5h-8M439.5 969.5v16M439.5 1122.5v-16M723.5 969.5v16M723.5 1122.5v-16M904.5 969.5v16M904.5 1122.5v-16M1085.5 969.5v16M1085.5 1122.5v-16M1267.5 969.5v16M1267.5 1122.5v-16M1448.5 969.5v16M1448.5 1122.5v-16M1629.5 969.5v16M1629.5 1122.5v-16"/>
</g>
<g id="spec" shape-rendering="crispEdges">
<defs><linearGradient id="sg" x1="0" y1="0" x2="0" y2="1"><stop offset="0" stop-color="#020290"/><stop offset="0.05" stop-color="#080ca6"/><stop offset="0.5" stop-color="#0c12ae"/><stop offset="1" stop-color="#0a0eaa"/></linearGradient></defs>
<rect x="669" y="969.5" width="683" height="152.1" fill="url(#sg)"/>
<path fill="#0000e6" d="M669 1106.68h2v14.92h-2zM681 1106.68h1v14.92h-1zM727 1106.68h1v14.92h-1zM736 1106.68h1v14.92h-1zM739 1106.68h1v14.92h-1zM771 1106.68h1v14.92h-1zM780 1106.68h1v14.92h-1zM804 1106.68h1v14.92h-1zM811 1106.68h1v14.92h-1zM857 1106.68h1v14.92h-1zM867 1106.68h1v14.92h-1zM886 1106.68h1v14.92h-1zM895 1106.68h1v14.92h-1zM930 1106.68h1v14.92h-1zM948 1106.68h1v14.92h-1zM954 1106.68h1v14.92h-1zM974 1106.68h1v14.92h-1zM980 1106.68h2v14.92h-2zM990 1106.68h1v14.92h-1zM1055 1106.68h1v14.92h-1zM1060 1106.68h1v14.92h-1zM1062 1106.68h1v14.92h-1zM1073 1106.68h1v14.92h-1zM1081 1106.68h1v14.92h-1zM1264 1106.68h1v14.92h-1zM1267 1106.68h1v14.92h-1zM1269 1106.68h1v14.92h-1zM1286 1106.68h1v14.92h-1zM1292 1106.68h1v14.92h-1zM1295 1106.68h1v14.92h-1zM1306 1106.68h1v14.92h-1zM1333 1106.68h1v14.92h-1zM1339 1106.68h1v14.92h-1zM683 1097.71h1v8.96h-1zM714 1097.71h1v8.96h-1zM725 1097.71h1v8.96h-1zM728 1097.71h1v8.96h-1zM737 1097.71h2v8.96h-2zM750 1097.71h1v8.96h-1zM798 1097.71h1v8.96h-1zM821 1097.71h1v8.96h-1zM852 1097.71h1v8.96h-1zM867 1097.71h1v8.96h-1zM886 1097.71h1v8.96h-1zM895 1097.71h1v8.96h-1zM905 1097.71h1v8.96h-1zM948 1097.71h1v8.96h-1zM983 1097.71h1v8.96h-1zM1017 1097.71h2v8.96h-2zM1055 1097.71h1v8.96h-1zM1097 1097.71h1v8.96h-1zM1142 1097.71h1v8.96h-1zM1178 1097.71h1v8.96h-1zM1208 1097.71h1v8.96h-1zM1284 1097.71h1v8.96h-1zM1295 1097.71h1v8.96h-1zM1309 1097.71h1v8.96h-1zM1312 1097.71h1v8.96h-1zM1323 1097.71h1v8.96h-1zM1327 1097.71h1v8.96h-1zM1329 1097.71h1v8.96h-1zM1341 1097.71h2v8.96h-2zM716 1091.36h1v6.36h-1zM723 1091.36h1v6.36h-1zM732 1091.36h1v6.36h-1zM762 1091.36h1v6.36h-1zM764 1091.36h1v6.36h-1zM775 1091.36h1v6.36h-1zM819 1091.36h1v6.36h-1zM844 1091.36h1v6.36h-1zM861 1091.36h1v6.36h-1zM866 1091.36h1v6.36h-1zM877 1091.36h1v6.36h-1zM885 1091.36h1v6.36h-1zM892 1091.36h1v6.36h-1zM911 1091.36h1v6.36h-1zM913 1091.36h1v6.36h-1zM924 1091.36h1v6.36h-1zM950 1091.36h1v6.36h-1zM956 1091.36h1v6.36h-1zM969 1091.36h1v6.36h-1zM997 1091.36h1v6.36h-1zM1004 1091.36h1v6.36h-1zM1013 1091.36h1v6.36h-1zM1027 1091.36h1v6.36h-1zM1029 1091.36h1v6.36h-1zM1039 1091.36h1v6.36h-1zM1041 1091.36h1v6.36h-1zM1051 1091.36h1v6.36h-1zM1054 1091.36h1v6.36h-1zM1057 1091.36h1v6.36h-1zM1064 1091.36h1v6.36h-1zM1085 1091.36h1v6.36h-1zM1088 1091.36h1v6.36h-1zM1097 1091.36h1v6.36h-1zM1104 1091.36h1v6.36h-1zM1120 1091.36h1v6.36h-1zM1146 1091.36h1v6.36h-1zM1149 1091.36h1v6.36h-1zM1171 1091.36h1v6.36h-1zM1190 1091.36h1v6.36h-1zM1207 1091.36h1v6.36h-1zM1216 1091.36h1v6.36h-1zM1223 1091.36h1v6.36h-1zM1236 1091.36h1v6.36h-1zM1239 1091.36h3v6.36h-3zM1243 1091.36h1v6.36h-1zM1272 1091.36h1v6.36h-1zM1274 1091.36h2v6.36h-2zM1296 1091.36h1v6.36h-1zM1315 1091.36h1v6.36h-1zM1343 1091.36h1v6.36h-1zM1345 1091.36h1v6.36h-1zM1347 1091.36h1v6.36h-1zM1350 1091.36h1v6.36h-1zM752 1086.42h1v4.93h-1zM768 1086.42h1v4.93h-1zM810 1086.42h1v4.93h-1zM814 1086.42h1v4.93h-1zM838 1086.42h1v4.93h-1zM855 1086.42h1v4.93h-1zM857 1086.42h1v4.93h-1zM860 1086.42h1v4.93h-1zM865 1086.42h1v4.93h-1zM871 1086.42h1v4.93h-1zM873 1086.42h2v4.93h-2zM877 1086.42h1v4.93h-1zM879 1086.42h1v4.93h-1zM908 1086.42h1v4.93h-1zM912 1086.42h1v4.93h-1zM936 1086.42h1v4.93h-1zM950 1086.42h1v4.93h-1zM957 1086.42h1v4.93h-1zM959 1086.42h2v4.93h-2zM972 1086.42h1v4.93h-1zM979 1086.42h1v4.93h-1zM989 1086.42h1v4.93h-1zM1013 1086.42h1v4.93h-1zM1024 1086.42h1v4.93h-1zM1065 1086.42h1v4.93h-1zM1078 1086.42h1v4.93h-1zM1083 1086.42h1v4.93h-1zM1118 1086.42h1v4.93h-1zM1125 1086.42h1v4.93h-1zM1127 1086.42h2v4.93h-2zM1133 1086.42h1v4.93h-1zM1135 1086.42h1v4.93h-1zM1144 1086.42h1v4.93h-1zM1147 1086.42h1v4.93h-1zM1150 1086.42h1v4.93h-1zM1176 1086.42h1v4.93h-1zM1181 1086.42h1v4.93h-1zM1211 1086.42h2v4.93h-2zM1214 1086.42h2v4.93h-2zM1228 1086.42h1v4.93h-1zM1235 1086.42h1v4.93h-1zM1237 1086.42h1v4.93h-1zM1240 1086.42h1v4.93h-1zM1254 1086.42h1v4.93h-1zM1258 1086.42h1v4.93h-1zM1264 1086.42h1v4.93h-1zM1346 1086.42h1v4.93h-1zM677 1082.39h1v4.03h-1zM954 1082.39h1v4.03h-1zM963 1082.39h1v4.03h-1zM970 1082.39h1v4.03h-1zM991 1082.39h1v4.03h-1zM1051 1082.39h1v4.03h-1zM1061 1082.39h1v4.03h-1zM1063 1082.39h1v4.03h-1zM1071 1082.39h1v4.03h-1zM1074 1082.39h1v4.03h-1zM1077 1082.39h1v4.03h-1zM1095 1082.39h1v4.03h-1zM1101 1082.39h1v4.03h-1zM1105 1082.39h1v4.03h-1zM1108 1082.39h1v4.03h-1zM1110 1082.39h1v4.03h-1zM1113 1082.39h1v4.03h-1zM1125 1082.39h1v4.03h-1zM1129 1082.39h1v4.03h-1zM1143 1082.39h2v4.03h-2zM1152 1082.39h1v4.03h-1zM1154 1082.39h1v4.03h-1zM1168 1082.39h1v4.03h-1zM1187 1082.39h2v4.03h-2zM1197 1082.39h1v4.03h-1zM1218 1082.39h1v4.03h-1zM1238 1082.39h1v4.03h-1zM1245 1082.39h1v4.03h-1zM1259 1082.39h1v4.03h-1zM1272 1082.39h1v4.03h-1zM1350 1082.39h1v4.03h-1zM1022 1078.79h1v3.6h-1zM1034 1078.79h1v3.6h-1zM1038 1078.79h1v3.6h-1zM1041 1078.79h1v3.6h-1zM1045 1078.79h1v3.6h-1zM1058 1078.79h2v3.6h-2zM1072 1078.79h1v3.6h-1zM1111 1078.79h1v3.6h-1zM1113 1078.79h1v3.6h-1zM1117 1078.79h2v3.6h-2zM1127 1078.79h1v3.6h-1zM1137 1078.79h1v3.6h-1zM1139 1078.79h1v3.6h-1zM1144 1078.79h1v3.6h-1zM1176 1078.79h1v3.6h-1zM1186 1078.79h1v3.6h-1zM1189 1078.79h1v3.6h-1zM1193 1078.79h1v3.6h-1zM1195 1078.79h1v3.6h-1zM1197 1078.79h1v3.6h-1zM1211 1078.79h1v3.6h-1zM1213 1078.79h1v3.6h-1zM1232 1078.79h1v3.6h-1zM1238 1078.79h1v3.6h-1zM1242 1078.79h1v3.6h-1zM1252 1078.79h1v3.6h-1zM1261 1078.79h1v3.6h-1zM1265 1078.79h1v3.6h-1zM1271 1078.79h1v3.6h-1zM1344 1078.79h1v3.6h-1zM677 1075.19h1v3.6h-1zM970 1075.19h1v3.6h-1zM1027 1075.19h1v3.6h-1zM1033 1075.19h1v3.6h-1zM1047 1075.19h1v3.6h-1zM1051 1075.19h1v3.6h-1zM1054 1075.19h1v3.6h-1zM1059 1075.19h1v3.6h-1zM1089 1075.19h1v3.6h-1zM1093 1075.19h1v3.6h-1zM1098 1075.19h1v3.6h-1zM1125 1075.19h1v3.6h-1zM1136 1075.19h1v3.6h-1zM1148 1075.19h1v3.6h-1zM1154 1075.19h2v3.6h-2zM1170 1075.19h1v3.6h-1zM1183 1075.19h1v3.6h-1zM1185 1075.19h2v3.6h-2zM1189 1075.19h1v3.6h-1zM1216 1075.19h1v3.6h-1zM1228 1075.19h1v3.6h-1zM1241 1075.19h1v3.6h-1zM945 1071.59h1v3.6h-1zM1059 1071.59h1v3.6h-1zM1091 1071.59h2v3.6h-2zM1099 1071.59h1v3.6h-1zM1110 1071.59h1v3.6h-1zM1116 1071.59h1v3.6h-1zM1123 1071.59h1v3.6h-1zM1127 1071.59h2v3.6h-2zM1144 1071.59h1v3.6h-1zM1149 1071.59h1v3.6h-1zM1181 1071.59h2v3.6h-2zM1203 1071.59h1v3.6h-1zM1211 1071.59h1v3.6h-1zM1227 1071.59h1v3.6h-1zM1235 1071.59h1v3.6h-1zM1351 1071.59h1v3.6h-1zM677 1067.99h1v3.6h-1zM1065 1067.99h1v3.6h-1zM1070 1067.99h1v3.6h-1zM1075 1067.99h1v3.6h-1zM1087 1067.99h1v3.6h-1zM1095 1067.99h2v3.6h-2zM1100 1067.99h1v3.6h-1zM1109 1067.99h1v3.6h-1zM1117 1067.99h1v3.6h-1zM1122 1067.99h1v3.6h-1zM1124 1067.99h1v3.6h-1zM1143 1067.99h1v3.6h-1zM1168 1067.99h1v3.6h-1zM1226 1067.99h1v3.6h-1zM1235 1067.99h1v3.6h-1zM1237 1067.99h2v3.6h-2zM1346 1067.99h1v3.6h-1zM1348 1067.99h1v3.6h-1zM1074 1064.39h1v3.6h-1zM1082 1064.39h1v3.6h-1zM1093 1064.39h1v3.6h-1zM1106 1064.39h1v3.6h-1zM1136 1064.39h1v3.6h-1zM1139 1064.39h1v3.6h-1zM1144 1064.39h1v3.6h-1zM1200 1064.39h1v3.6h-1zM1212 1064.39h1v3.6h-1zM1234 1064.39h1v3.6h-1zM677 1060.79h1v3.6h-1zM1068 1060.79h1v3.6h-1zM1099 1060.79h1v3.6h-1zM1113 1060.79h1v3.6h-1zM1118 1060.79h1v3.6h-1zM1136 1060.79h1v3.6h-1zM1139 1060.79h1v3.6h-1zM1143 1060.79h1v3.6h-1zM1168 1060.79h1v3.6h-1zM1198 1060.79h1v3.6h-1zM1200 1060.79h1v3.6h-1zM1204 1060.79h1v3.6h-1zM1211 1060.79h1v3.6h-1zM1224 1060.79h1v3.6h-1zM1227 1060.79h1v3.6h-1zM1074 1057.19h1v3.6h-1zM1079 1057.19h1v3.6h-1zM1082 1057.19h1v3.6h-1zM1095 1057.19h1v3.6h-1zM1101 1057.19h1v3.6h-1zM1106 1057.19h1v3.6h-1zM1108 1057.19h1v3.6h-1zM1119 1057.19h2v3.6h-2zM1128 1057.19h1v3.6h-1zM1134 1057.19h1v3.6h-1zM1137 1057.19h1v3.6h-1zM1171 1057.19h2v3.6h-2zM1176 1057.19h1v3.6h-1zM1192 1057.19h1v3.6h-1zM1232 1057.19h1v3.6h-1zM1234 1057.19h1v3.6h-1zM1071 1053.59h2v3.6h-2zM1074 1053.59h1v3.6h-1zM1079 1053.59h1v3.6h-1zM1084 1053.59h1v3.6h-1zM1089 1053.59h1v3.6h-1zM1100 1053.59h2v3.6h-2zM1103 1053.59h1v3.6h-1zM1107 1053.59h1v3.6h-1zM1110 1053.59h2v3.6h-2zM1115 1053.59h1v3.6h-1zM1120 1053.59h1v3.6h-1zM1125 1053.59h1v3.6h-1zM1134 1053.59h1v3.6h-1zM1181 1053.59h1v3.6h-1zM1184 1053.59h1v3.6h-1zM1187 1053.59h1v3.6h-1zM1197 1053.59h1v3.6h-1zM1205 1053.59h2v3.6h-2zM1211 1053.59h1v3.6h-1zM1215 1053.59h2v3.6h-2zM1218 1053.59h1v3.6h-1zM1221 1053.59h1v3.6h-1zM1223 1053.59h1v3.6h-1zM1231 1053.59h1v3.6h-1zM1084 1049.99h1v3.6h-1zM1086 1049.99h2v3.6h-2zM1092 1049.99h1v3.6h-1zM1098 1049.99h1v3.6h-1zM1105 1049.99h1v3.6h-1zM1110 1049.99h2v3.6h-2zM1124 1049.99h1v3.6h-1zM1131 1049.99h1v3.6h-1zM1135 1049.99h1v3.6h-1zM1176 1049.99h1v3.6h-1zM1197 1049.99h1v3.6h-1zM1200 1049.99h1v3.6h-1zM1207 1049.99h1v3.6h-1zM1211 1049.99h2v3.6h-2zM1215 1049.99h1v3.6h-1zM1224 1049.99h1v3.6h-1zM1227 1049.99h2v3.6h-2zM1231 1049.99h1v3.6h-1zM1108 1046.39h1v3.6h-1zM1116 1046.39h1v3.6h-1zM1119 1046.39h1v3.6h-1zM1132 1046.39h1v3.6h-1zM1134 1046.39h1v3.6h-1zM1136 1046.39h1v3.6h-1zM1176 1046.39h1v3.6h-1zM1190 1046.39h2v3.6h-2zM1204 1046.39h1v3.6h-1zM1210 1046.39h1v3.6h-1zM1212 1046.39h1v3.6h-1zM1216 1046.39h1v3.6h-1zM1230 1046.39h1v3.6h-1zM945 1042.79h1v3.6h-1zM1096 1042.79h1v3.6h-1zM1186 1042.79h1v3.6h-1zM1210 1042.79h1v3.6h-1zM1216 1042.79h1v3.6h-1zM1103 1039.19h1v3.6h-1zM1112 1039.19h1v3.6h-1z"/>
<path fill="#0000ff" d="M686 1106.68h1v14.92h-1zM756 1106.68h1v14.92h-1zM1160 1106.68h1v14.92h-1zM712 1091.36h1v6.36h-1zM763 1091.36h1v6.36h-1zM793 1091.36h1v6.36h-1zM823 1091.36h1v6.36h-1zM826 1091.36h1v6.36h-1zM830 1091.36h1v6.36h-1zM929 1091.36h1v6.36h-1zM971 1091.36h1v6.36h-1zM1000 1091.36h1v6.36h-1zM1032 1091.36h1v6.36h-1zM1050 1091.36h1v6.36h-1zM1053 1091.36h1v6.36h-1zM1068 1091.36h1v6.36h-1zM1079 1091.36h1v6.36h-1zM1086 1091.36h1v6.36h-1zM1093 1091.36h1v6.36h-1zM1115 1091.36h1v6.36h-1zM1150 1091.36h1v6.36h-1zM1172 1091.36h1v6.36h-1zM1179 1091.36h1v6.36h-1zM1187 1091.36h1v6.36h-1zM1200 1091.36h3v6.36h-3zM1212 1091.36h1v6.36h-1zM1215 1091.36h1v6.36h-1zM1222 1091.36h1v6.36h-1zM1226 1091.36h1v6.36h-1zM1237 1091.36h1v6.36h-1zM1254 1091.36h1v6.36h-1zM1285 1091.36h1v6.36h-1zM1317 1091.36h1v6.36h-1zM1349 1091.36h1v6.36h-1zM911 1086.42h1v4.93h-1zM916 1086.42h1v4.93h-1zM927 1086.42h1v4.93h-1zM929 1086.42h1v4.93h-1zM952 1086.42h1v4.93h-1zM973 1086.42h1v4.93h-1zM981 1086.42h1v4.93h-1zM995 1086.42h1v4.93h-1zM997 1086.42h2v4.93h-2zM1021 1086.42h1v4.93h-1zM1027 1086.42h1v4.93h-1zM1034 1086.42h2v4.93h-2zM1050 1086.42h1v4.93h-1zM1080 1086.42h1v4.93h-1zM1088 1086.42h1v4.93h-1zM1104 1086.42h1v4.93h-1zM1131 1086.42h1v4.93h-1zM1172 1086.42h1v4.93h-1zM1186 1086.42h1v4.93h-1zM1190 1086.42h1v4.93h-1zM1195 1086.42h1v4.93h-1zM1204 1086.42h1v4.93h-1zM1210 1086.42h1v4.93h-1zM1231 1086.42h2v4.93h-2zM1243 1086.42h1v4.93h-1zM1248 1086.42h1v4.93h-1zM1252 1086.42h2v4.93h-2zM1257 1086.42h1v4.93h-1zM1271 1086.42h1v4.93h-1zM1344 1086.42h1v4.93h-1zM1000 1082.39h1v4.03h-1zM1005 1082.39h1v4.03h-1zM1008 1082.39h1v4.03h-1zM1013 1082.39h1v4.03h-1zM1034 1082.39h1v4.03h-1zM1042 1082.39h1v4.03h-1zM1052 1082.39h1v4.03h-1zM1068 1082.39h1v4.03h-1zM1072 1082.39h1v4.03h-1zM1086 1082.39h1v4.03h-1zM1109 1082.39h1v4.03h-1zM1115 1082.39h1v4.03h-1zM1128 1082.39h1v4.03h-1zM1133 1082.39h2v4.03h-2zM1137 1082.39h1v4.03h-1zM1150 1082.39h1v4.03h-1zM1180 1082.39h1v4.03h-1zM1182 1082.39h1v4.03h-1zM1186 1082.39h1v4.03h-1zM1205 1082.39h1v4.03h-1zM1212 1082.39h1v4.03h-1zM1222 1082.39h1v4.03h-1zM1248 1082.39h1v4.03h-1zM1261 1082.39h1v4.03h-1zM1273 1082.39h1v4.03h-1zM1346 1082.39h1v4.03h-1zM1023 1078.79h1v3.6h-1zM1054 1078.79h1v3.6h-1zM1093 1078.79h1v3.6h-1zM1109 1078.79h1v3.6h-1zM1119 1078.79h1v3.6h-1zM1124 1078.79h1v3.6h-1zM1134 1078.79h1v3.6h-1zM1149 1078.79h1v3.6h-1zM1196 1078.79h1v3.6h-1zM1214 1078.79h1v3.6h-1zM1218 1078.79h1v3.6h-1zM1226 1078.79h1v3.6h-1zM1228 1078.79h1v3.6h-1zM1231 1078.79h1v3.6h-1zM1235 1078.79h1v3.6h-1zM1241 1078.79h1v3.6h-1zM1245 1078.79h1v3.6h-1zM1251 1078.79h1v3.6h-1zM1345 1078.79h1v3.6h-1zM1351 1078.79h1v3.6h-1zM1063 1075.19h1v3.6h-1zM1099 1075.19h1v3.6h-1zM1133 1075.19h1v3.6h-1zM1141 1075.19h1v3.6h-1zM1181 1075.19h1v3.6h-1zM1192 1075.19h1v3.6h-1zM1194 1075.19h1v3.6h-1zM1204 1075.19h1v3.6h-1zM1207 1075.19h1v3.6h-1zM1212 1075.19h1v3.6h-1zM1345 1075.19h1v3.6h-1zM1065 1071.59h1v3.6h-1zM1079 1071.59h1v3.6h-1zM1082 1071.59h1v3.6h-1zM1117 1071.59h1v3.6h-1zM1129 1071.59h1v3.6h-1zM1131 1071.59h1v3.6h-1zM1139 1071.59h1v3.6h-1zM1169 1071.59h1v3.6h-1zM1180 1071.59h1v3.6h-1zM1231 1071.59h1v3.6h-1zM1242 1071.59h1v3.6h-1zM1346 1071.59h1v3.6h-1zM1074 1067.99h1v3.6h-1zM1086 1067.99h1v3.6h-1zM1099 1067.99h1v3.6h-1zM1110 1067.99h1v3.6h-1zM1112 1067.99h1v3.6h-1zM1115 1067.99h1v3.6h-1zM1121 1067.99h1v3.6h-1zM1128 1067.99h1v3.6h-1zM1136 1067.99h1v3.6h-1zM1187 1067.99h1v3.6h-1zM1198 1067.99h1v3.6h-1zM1204 1067.99h1v3.6h-1zM1224 1067.99h1v3.6h-1zM1236 1067.99h1v3.6h-1zM677 1064.39h1v3.6h-1zM945 1064.39h1v3.6h-1zM970 1064.39h1v3.6h-1zM1076 1064.39h1v3.6h-1zM1078 1064.39h1v3.6h-1zM1080 1064.39h1v3.6h-1zM1105 1064.39h1v3.6h-1zM1110 1064.39h1v3.6h-1zM1115 1064.39h1v3.6h-1zM1117 1064.39h1v3.6h-1zM1119 1064.39h1v3.6h-1zM1125 1064.39h1v3.6h-1zM1135 1064.39h1v3.6h-1zM1168 1064.39h1v3.6h-1zM1172 1064.39h1v3.6h-1zM1188 1064.39h1v3.6h-1zM1194 1064.39h1v3.6h-1zM1207 1064.39h1v3.6h-1zM1213 1064.39h1v3.6h-1zM1222 1064.39h1v3.6h-1zM1226 1064.39h1v3.6h-1zM1232 1064.39h2v3.6h-2zM1237 1064.39h2v3.6h-2zM945 1060.79h1v3.6h-1zM1075 1060.79h2v3.6h-2zM1080 1060.79h1v3.6h-1zM1084 1060.79h1v3.6h-1zM1104 1060.79h1v3.6h-1zM1106 1060.79h1v3.6h-1zM1120 1060.79h1v3.6h-1zM1127 1060.79h1v3.6h-1zM1141 1060.79h1v3.6h-1zM1169 1060.79h1v3.6h-1zM1173 1060.79h1v3.6h-1zM1188 1060.79h1v3.6h-1zM1207 1060.79h1v3.6h-1zM1212 1060.79h1v3.6h-1zM1218 1060.79h1v3.6h-1zM1235 1060.79h1v3.6h-1zM1084 1057.19h1v3.6h-1zM1121 1057.19h1v3.6h-1zM1175 1057.19h1v3.6h-1zM1181 1057.19h1v3.6h-1zM1183 1057.19h1v3.6h-1zM1185 1057.19h2v3.6h-2zM1189 1057.19h1v3.6h-1zM1191 1057.19h1v3.6h-1zM1193 1057.19h1v3.6h-1zM1205 1057.19h1v3.6h-1zM1215 1057.19h1v3.6h-1zM1225 1057.19h1v3.6h-1zM1228 1057.19h1v3.6h-1zM945 1053.59h1v3.6h-1zM1116 1053.59h1v3.6h-1zM1118 1053.59h1v3.6h-1zM1121 1053.59h1v3.6h-1zM1172 1053.59h1v3.6h-1zM1179 1053.59h1v3.6h-1zM1201 1053.59h1v3.6h-1zM1226 1053.59h2v3.6h-2zM1106 1049.99h1v3.6h-1zM1136 1049.99h1v3.6h-1zM1218 1049.99h1v3.6h-1zM1225 1049.99h1v3.6h-1zM1096 1046.39h1v3.6h-1zM1114 1046.39h1v3.6h-1zM970 1042.79h1v3.6h-1z"/>
<path fill="#001aff" d="M682 1106.68h1v14.92h-1zM708 1106.68h1v14.92h-1zM723 1106.68h1v14.92h-1zM775 1106.68h1v14.92h-1zM795 1106.68h1v14.92h-1zM807 1106.68h1v14.92h-1zM843 1106.68h1v14.92h-1zM882 1106.68h1v14.92h-1zM887 1106.68h1v14.92h-1zM1280 1106.68h1v14.92h-1zM1296 1106.68h1v14.92h-1zM1311 1106.68h1v14.92h-1zM1334 1106.68h1v14.92h-1zM682 1097.71h1v8.96h-1zM686 1097.71h1v8.96h-1zM690 1097.71h1v8.96h-1zM693 1097.71h1v8.96h-1zM708 1097.71h1v8.96h-1zM1160 1097.71h1v8.96h-1zM1285 1097.71h1v8.96h-1zM724 1091.36h1v6.36h-1zM753 1091.36h1v6.36h-1zM759 1091.36h1v6.36h-1zM796 1091.36h1v6.36h-1zM809 1091.36h1v6.36h-1zM855 1091.36h1v6.36h-1zM859 1091.36h2v6.36h-2zM872 1091.36h1v6.36h-1zM882 1091.36h1v6.36h-1zM926 1091.36h1v6.36h-1zM935 1091.36h1v6.36h-1zM937 1091.36h1v6.36h-1zM965 1091.36h1v6.36h-1zM979 1091.36h1v6.36h-1zM1003 1091.36h1v6.36h-1zM1012 1091.36h1v6.36h-1zM1035 1091.36h2v6.36h-2zM1072 1091.36h1v6.36h-1zM1089 1091.36h1v6.36h-1zM1092 1091.36h1v6.36h-1zM1135 1091.36h1v6.36h-1zM1176 1091.36h1v6.36h-1zM1233 1091.36h1v6.36h-1zM1251 1091.36h1v6.36h-1zM1258 1091.36h1v6.36h-1zM1261 1091.36h2v6.36h-2zM1265 1091.36h1v6.36h-1zM1334 1091.36h1v6.36h-1zM949 1086.42h1v4.93h-1zM970 1086.42h1v4.93h-1zM1002 1086.42h1v4.93h-1zM1025 1086.42h1v4.93h-1zM1029 1086.42h1v4.93h-1zM1041 1086.42h2v4.93h-2zM1046 1086.42h1v4.93h-1zM1070 1086.42h1v4.93h-1zM1077 1086.42h1v4.93h-1zM1093 1086.42h1v4.93h-1zM1100 1086.42h1v4.93h-1zM1106 1086.42h2v4.93h-2zM1116 1086.42h1v4.93h-1zM1121 1086.42h2v4.93h-2zM1136 1086.42h1v4.93h-1zM1149 1086.42h1v4.93h-1zM1155 1086.42h1v4.93h-1zM1171 1086.42h1v4.93h-1zM1223 1086.42h1v4.93h-1zM1227 1086.42h1v4.93h-1zM1245 1086.42h1v4.93h-1zM1262 1086.42h1v4.93h-1zM1273 1086.42h1v4.93h-1zM1004 1082.39h1v4.03h-1zM1020 1082.39h1v4.03h-1zM1023 1082.39h1v4.03h-1zM1035 1082.39h1v4.03h-1zM1045 1082.39h1v4.03h-1zM1050 1082.39h1v4.03h-1zM1054 1082.39h1v4.03h-1zM1059 1082.39h1v4.03h-1zM1080 1082.39h1v4.03h-1zM1084 1082.39h1v4.03h-1zM1094 1082.39h1v4.03h-1zM1117 1082.39h1v4.03h-1zM1155 1082.39h1v4.03h-1zM1224 1082.39h2v4.03h-2zM1246 1082.39h1v4.03h-1zM1264 1082.39h2v4.03h-2zM1347 1082.39h3v4.03h-3zM1351 1082.39h1v4.03h-1zM945 1078.79h1v3.6h-1zM1027 1078.79h1v3.6h-1zM1050 1078.79h2v3.6h-2zM1061 1078.79h1v3.6h-1zM1071 1078.79h1v3.6h-1zM1075 1078.79h1v3.6h-1zM1082 1078.79h1v3.6h-1zM1107 1078.79h1v3.6h-1zM1121 1078.79h2v3.6h-2zM1132 1078.79h2v3.6h-2zM1150 1078.79h1v3.6h-1zM1173 1078.79h1v3.6h-1zM1194 1078.79h1v3.6h-1zM1224 1078.79h1v3.6h-1zM1246 1078.79h1v3.6h-1zM1347 1078.79h4v3.6h-4zM1064 1075.19h1v3.6h-1zM1070 1075.19h1v3.6h-1zM1075 1075.19h1v3.6h-1zM1091 1075.19h1v3.6h-1zM1111 1075.19h2v3.6h-2zM1135 1075.19h1v3.6h-1zM1169 1075.19h1v3.6h-1zM1214 1075.19h1v3.6h-1zM1232 1075.19h1v3.6h-1zM1236 1075.19h1v3.6h-1zM1239 1075.19h1v3.6h-1zM1348 1075.19h1v3.6h-1zM677 1071.59h1v3.6h-1zM1070 1071.59h1v3.6h-1zM1077 1071.59h1v3.6h-1zM1084 1071.59h1v3.6h-1zM1087 1071.59h1v3.6h-1zM1107 1071.59h1v3.6h-1zM1109 1071.59h1v3.6h-1zM1119 1071.59h1v3.6h-1zM1137 1071.59h1v3.6h-1zM1192 1071.59h2v3.6h-2zM1204 1071.59h1v3.6h-1zM1214 1071.59h1v3.6h-1zM1218 1071.59h1v3.6h-1zM1221 1071.59h1v3.6h-1zM1226 1071.59h1v3.6h-1zM1238 1071.59h1v3.6h-1zM1068 1067.99h1v3.6h-1zM1076 1067.99h1v3.6h-1zM1079 1067.99h1v3.6h-1zM1091 1067.99h1v3.6h-1zM1119 1067.99h2v3.6h-2zM1135 1067.99h1v3.6h-1zM1140 1067.99h1v3.6h-1zM1171 1067.99h1v3.6h-1zM1173 1067.99h1v3.6h-1zM1192 1067.99h2v3.6h-2zM1196 1067.99h1v3.6h-1zM1213 1067.99h2v3.6h-2zM1225 1067.99h1v3.6h-1zM1079 1064.39h1v3.6h-1zM1091 1064.39h1v3.6h-1zM1098 1064.39h1v3.6h-1zM1121 1064.39h1v3.6h-1zM1140 1064.39h1v3.6h-1zM1171 1064.39h1v3.6h-1zM1175 1064.39h1v3.6h-1zM1179 1064.39h1v3.6h-1zM1187 1064.39h1v3.6h-1zM1202 1064.39h1v3.6h-1zM1204 1064.39h1v3.6h-1zM1206 1064.39h1v3.6h-1zM1225 1064.39h1v3.6h-1zM1072 1060.79h1v3.6h-1zM1087 1060.79h1v3.6h-1zM1092 1060.79h1v3.6h-1zM1098 1060.79h1v3.6h-1zM1111 1060.79h1v3.6h-1zM1124 1060.79h1v3.6h-1zM1133 1060.79h2v3.6h-2zM1172 1060.79h1v3.6h-1zM1180 1060.79h1v3.6h-1zM1184 1060.79h1v3.6h-1zM1189 1060.79h1v3.6h-1zM1195 1060.79h1v3.6h-1zM1201 1060.79h1v3.6h-1zM1209 1060.79h1v3.6h-1zM1225 1060.79h1v3.6h-1zM970 1057.19h1v3.6h-1zM1087 1057.19h1v3.6h-1zM1123 1057.19h1v3.6h-1zM1129 1057.19h1v3.6h-1zM1135 1057.19h1v3.6h-1zM1188 1057.19h1v3.6h-1zM1198 1057.19h1v3.6h-1zM1224 1057.19h1v3.6h-1zM1226 1057.19h1v3.6h-1zM1235 1057.19h1v3.6h-1zM1099 1053.59h1v3.6h-1zM1114 1053.59h1v3.6h-1zM1123 1053.59h1v3.6h-1zM1203 1053.59h2v3.6h-2zM1112 1049.99h1v3.6h-1zM1114 1049.99h2v3.6h-2z"/>
<path fill="#0033ff" d="M698 1106.68h1v14.92h-1zM702 1106.68h1v14.92h-1zM707 1106.68h1v14.92h-1zM712 1106.68h1v14.92h-1zM724 1106.68h1v14.92h-1zM729 1106.68h1v14.92h-1zM753 1106.68h1v14.92h-1zM759 1106.68h1v14.92h-1zM763 1106.68h1v14.92h-1zM791 1106.68h1v14.92h-1zM793 1106.68h1v14.92h-1zM806 1106.68h1v14.92h-1zM820 1106.68h1v14.92h-1zM823 1106.68h1v14.92h-1zM826 1106.68h1v14.92h-1zM842 1106.68h1v14.92h-1zM845 1106.68h1v14.92h-1zM855 1106.68h1v14.92h-1zM861 1106.68h1v14.92h-1zM866 1106.68h1v14.92h-1zM874 1106.68h1v14.92h-1zM879 1106.68h1v14.92h-1zM932 1106.68h1v14.92h-1zM935 1106.68h1v14.92h-1zM950 1106.68h1v14.92h-1zM953 1106.68h1v14.92h-1zM956 1106.68h2v14.92h-2zM960 1106.68h1v14.92h-1zM965 1106.68h1v14.92h-1zM1002 1106.68h1v14.92h-1zM1276 1106.68h1v14.92h-1zM1290 1106.68h1v14.92h-1zM1328 1106.68h1v14.92h-1zM680 1097.71h1v8.96h-1zM698 1097.71h1v8.96h-1zM712 1097.71h1v8.96h-1zM723 1097.71h1v8.96h-1zM732 1097.71h1v8.96h-1zM756 1097.71h1v8.96h-1zM764 1097.71h1v8.96h-1zM774 1097.71h2v8.96h-2zM795 1097.71h1v8.96h-1zM801 1097.71h1v8.96h-1zM807 1097.71h1v8.96h-1zM837 1097.71h1v8.96h-1zM843 1097.71h1v8.96h-1zM845 1097.71h1v8.96h-1zM861 1097.71h1v8.96h-1zM882 1097.71h1v8.96h-1zM887 1097.71h1v8.96h-1zM904 1097.71h1v8.96h-1zM938 1097.71h1v8.96h-1zM950 1097.71h1v8.96h-1zM957 1097.71h1v8.96h-1zM1280 1097.71h1v8.96h-1zM1311 1097.71h1v8.96h-1zM1328 1097.71h1v8.96h-1zM814 1091.36h1v6.36h-1zM835 1091.36h1v6.36h-1zM848 1091.36h1v6.36h-1zM873 1091.36h1v6.36h-1zM875 1091.36h1v6.36h-1zM918 1091.36h1v6.36h-1zM927 1091.36h1v6.36h-1zM930 1091.36h1v6.36h-1zM953 1091.36h2v6.36h-2zM957 1091.36h1v6.36h-1zM959 1091.36h1v6.36h-1zM963 1091.36h1v6.36h-1zM967 1091.36h1v6.36h-1zM970 1091.36h1v6.36h-1zM1005 1091.36h1v6.36h-1zM1045 1091.36h1v6.36h-1zM1052 1091.36h1v6.36h-1zM1058 1091.36h2v6.36h-2zM1129 1091.36h1v6.36h-1zM1136 1091.36h1v6.36h-1zM1141 1091.36h1v6.36h-1zM1151 1091.36h1v6.36h-1zM1186 1091.36h1v6.36h-1zM1273 1091.36h1v6.36h-1zM1348 1091.36h1v6.36h-1zM1005 1086.42h1v4.93h-1zM1008 1086.42h1v4.93h-1zM1054 1086.42h1v4.93h-1zM1069 1086.42h1v4.93h-1zM1094 1086.42h1v4.93h-1zM1112 1086.42h1v4.93h-1zM1119 1086.42h1v4.93h-1zM1123 1086.42h1v4.93h-1zM1148 1086.42h1v4.93h-1zM1187 1086.42h2v4.93h-2zM1225 1086.42h2v4.93h-2zM1239 1086.42h1v4.93h-1zM1259 1086.42h1v4.93h-1zM945 1082.39h1v4.03h-1zM1056 1082.39h3v4.03h-3zM1079 1082.39h1v4.03h-1zM1082 1082.39h1v4.03h-1zM1131 1082.39h1v4.03h-1zM1141 1082.39h1v4.03h-1zM1148 1082.39h1v4.03h-1zM1169 1082.39h1v4.03h-1zM1175 1082.39h1v4.03h-1zM1213 1082.39h1v4.03h-1zM1231 1082.39h1v4.03h-1zM1064 1078.79h2v3.6h-2zM1080 1078.79h1v3.6h-1zM1103 1078.79h1v3.6h-1zM1110 1078.79h1v3.6h-1zM1116 1078.79h1v3.6h-1zM1147 1078.79h1v3.6h-1zM1168 1078.79h1v3.6h-1zM1172 1078.79h1v3.6h-1zM1201 1078.79h2v3.6h-2zM1209 1078.79h1v3.6h-1zM945 1075.19h1v3.6h-1zM1068 1075.19h2v3.6h-2zM1076 1075.19h1v3.6h-1zM1084 1075.19h1v3.6h-1zM1094 1075.19h1v3.6h-1zM1101 1075.19h1v3.6h-1zM1123 1075.19h1v3.6h-1zM1131 1075.19h1v3.6h-1zM1137 1075.19h1v3.6h-1zM1176 1075.19h1v3.6h-1zM1197 1075.19h1v3.6h-1zM1202 1075.19h1v3.6h-1zM1205 1075.19h1v3.6h-1zM1223 1075.19h1v3.6h-1zM1225 1075.19h1v3.6h-1zM1234 1075.19h1v3.6h-1zM1237 1075.19h1v3.6h-1zM1240 1075.19h1v3.6h-1zM970 1071.59h1v3.6h-1zM1068 1071.59h1v3.6h-1zM1075 1071.59h1v3.6h-1zM1093 1071.59h1v3.6h-1zM1095 1071.59h1v3.6h-1zM1100 1071.59h1v3.6h-1zM1132 1071.59h1v3.6h-1zM1140 1071.59h1v3.6h-1zM1184 1071.59h1v3.6h-1zM1186 1071.59h1v3.6h-1zM1190 1071.59h1v3.6h-1zM1072 1067.99h1v3.6h-1zM1082 1067.99h1v3.6h-1zM1089 1067.99h1v3.6h-1zM1103 1067.99h1v3.6h-1zM1116 1067.99h1v3.6h-1zM1127 1067.99h1v3.6h-1zM1129 1067.99h1v3.6h-1zM1133 1067.99h1v3.6h-1zM1137 1067.99h1v3.6h-1zM1175 1067.99h2v3.6h-2zM1184 1067.99h1v3.6h-1zM1207 1067.99h1v3.6h-1zM1209 1067.99h1v3.6h-1zM1227 1067.99h1v3.6h-1zM1231 1067.99h1v3.6h-1zM1075 1064.39h1v3.6h-1zM1096 1064.39h1v3.6h-1zM1101 1064.39h1v3.6h-1zM1104 1064.39h1v3.6h-1zM1116 1064.39h1v3.6h-1zM1131 1064.39h1v3.6h-1zM1134 1064.39h1v3.6h-1zM1195 1064.39h1v3.6h-1zM1211 1064.39h1v3.6h-1zM1235 1064.39h1v3.6h-1zM970 1060.79h1v3.6h-1zM1088 1060.79h1v3.6h-1zM1096 1060.79h1v3.6h-1zM1100 1060.79h1v3.6h-1zM1103 1060.79h1v3.6h-1zM1117 1060.79h1v3.6h-1zM1196 1060.79h1v3.6h-1zM1216 1060.79h1v3.6h-1zM1099 1057.19h1v3.6h-1zM1111 1057.19h1v3.6h-1zM1196 1057.19h1v3.6h-1zM1212 1057.19h1v3.6h-1zM970 1053.59h1v3.6h-1zM970 1046.39h1v3.6h-1z"/>
<path fill="#004dff" d="M716 1106.68h1v14.92h-1zM762 1106.68h1v14.92h-1zM764 1106.68h1v14.92h-1zM768 1106.68h2v14.92h-2zM796 1106.68h1v14.92h-1zM827 1106.68h1v14.92h-1zM831 1106.68h1v14.92h-1zM837 1106.68h1v14.92h-1zM849 1106.68h1v14.92h-1zM853 1106.68h1v14.92h-1zM863 1106.68h1v14.92h-1zM871 1106.68h1v14.92h-1zM877 1106.68h1v14.92h-1zM884 1106.68h1v14.92h-1zM903 1106.68h1v14.92h-1zM908 1106.68h1v14.92h-1zM911 1106.68h1v14.92h-1zM936 1106.68h1v14.92h-1zM972 1106.68h1v14.92h-1zM975 1106.68h1v14.92h-1zM985 1106.68h1v14.92h-1zM1034 1106.68h1v14.92h-1zM1039 1106.68h1v14.92h-1zM1252 1106.68h1v14.92h-1zM1343 1106.68h1v14.92h-1zM702 1097.71h1v8.96h-1zM707 1097.71h1v8.96h-1zM716 1097.71h1v8.96h-1zM724 1097.71h1v8.96h-1zM729 1097.71h1v8.96h-1zM752 1097.71h2v8.96h-2zM757 1097.71h1v8.96h-1zM759 1097.71h1v8.96h-1zM762 1097.71h2v8.96h-2zM769 1097.71h1v8.96h-1zM778 1097.71h2v8.96h-2zM805 1097.71h2v8.96h-2zM810 1097.71h1v8.96h-1zM819 1097.71h2v8.96h-2zM826 1097.71h2v8.96h-2zM844 1097.71h1v8.96h-1zM849 1097.71h2v8.96h-2zM853 1097.71h1v8.96h-1zM855 1097.71h1v8.96h-1zM859 1097.71h1v8.96h-1zM863 1097.71h1v8.96h-1zM866 1097.71h1v8.96h-1zM871 1097.71h1v8.96h-1zM873 1097.71h2v8.96h-2zM884 1097.71h1v8.96h-1zM891 1097.71h1v8.96h-1zM897 1097.71h1v8.96h-1zM902 1097.71h1v8.96h-1zM908 1097.71h1v8.96h-1zM911 1097.71h1v8.96h-1zM935 1097.71h1v8.96h-1zM953 1097.71h1v8.96h-1zM956 1097.71h1v8.96h-1zM960 1097.71h1v8.96h-1zM965 1097.71h2v8.96h-2zM971 1097.71h1v8.96h-1zM997 1097.71h1v8.96h-1zM1290 1097.71h1v8.96h-1zM1296 1097.71h1v8.96h-1zM1334 1097.71h1v8.96h-1zM961 1091.36h1v6.36h-1zM974 1091.36h1v6.36h-1zM981 1091.36h1v6.36h-1zM988 1091.36h1v6.36h-1zM995 1091.36h1v6.36h-1zM1023 1091.36h1v6.36h-1zM1025 1091.36h1v6.36h-1zM1061 1091.36h1v6.36h-1zM1070 1091.36h1v6.36h-1zM1084 1091.36h1v6.36h-1zM1099 1091.36h1v6.36h-1zM1108 1091.36h1v6.36h-1zM1117 1091.36h1v6.36h-1zM1125 1091.36h1v6.36h-1zM1139 1091.36h1v6.36h-1zM1196 1091.36h1v6.36h-1zM1210 1091.36h1v6.36h-1zM677 1086.42h1v4.93h-1zM945 1086.42h1v4.93h-1zM1053 1086.42h1v4.93h-1zM1058 1086.42h2v4.93h-2zM1076 1086.42h1v4.93h-1zM1110 1086.42h1v4.93h-1zM1120 1086.42h1v4.93h-1zM1156 1086.42h1v4.93h-1zM1168 1086.42h1v4.93h-1zM1170 1086.42h1v4.93h-1zM1196 1086.42h1v4.93h-1zM1270 1086.42h1v4.93h-1zM1272 1086.42h1v4.93h-1zM1345 1086.42h1v4.93h-1zM1083 1082.39h1v4.03h-1zM1088 1082.39h1v4.03h-1zM1104 1082.39h1v4.03h-1zM1116 1082.39h1v4.03h-1zM1151 1082.39h1v4.03h-1zM1172 1082.39h1v4.03h-1zM1189 1082.39h1v4.03h-1zM1198 1082.39h1v4.03h-1zM1204 1082.39h1v4.03h-1zM1209 1082.39h1v4.03h-1zM1215 1082.39h1v4.03h-1zM1221 1082.39h1v4.03h-1zM1230 1082.39h1v4.03h-1zM1232 1082.39h1v4.03h-1zM1242 1082.39h1v4.03h-1zM1069 1078.79h1v3.6h-1zM1086 1078.79h2v3.6h-2zM1114 1078.79h1v3.6h-1zM1125 1078.79h1v3.6h-1zM1146 1078.79h1v3.6h-1zM1170 1078.79h1v3.6h-1zM1183 1078.79h1v3.6h-1zM1187 1078.79h1v3.6h-1zM1190 1078.79h1v3.6h-1zM1192 1078.79h1v3.6h-1zM1206 1078.79h1v3.6h-1zM1210 1078.79h1v3.6h-1zM1215 1078.79h1v3.6h-1zM1072 1075.19h1v3.6h-1zM1074 1075.19h1v3.6h-1zM1078 1075.19h1v3.6h-1zM1087 1075.19h1v3.6h-1zM1092 1075.19h1v3.6h-1zM1095 1075.19h1v3.6h-1zM1107 1075.19h2v3.6h-2zM1113 1075.19h1v3.6h-1zM1116 1075.19h1v3.6h-1zM1134 1075.19h1v3.6h-1zM1139 1075.19h1v3.6h-1zM1144 1075.19h1v3.6h-1zM1179 1075.19h2v3.6h-2zM1188 1075.19h1v3.6h-1zM1190 1075.19h1v3.6h-1zM1209 1075.19h1v3.6h-1zM1221 1075.19h1v3.6h-1zM1238 1075.19h1v3.6h-1zM1072 1071.59h1v3.6h-1zM1096 1071.59h1v3.6h-1zM1101 1071.59h1v3.6h-1zM1111 1071.59h1v3.6h-1zM1124 1071.59h1v3.6h-1zM1134 1071.59h1v3.6h-1zM1179 1071.59h1v3.6h-1zM1198 1071.59h1v3.6h-1zM1200 1071.59h2v3.6h-2zM1212 1071.59h1v3.6h-1zM1223 1071.59h2v3.6h-2zM1234 1071.59h1v3.6h-1zM1092 1067.99h1v3.6h-1zM1094 1067.99h1v3.6h-1zM1101 1067.99h1v3.6h-1zM1105 1067.99h1v3.6h-1zM1125 1067.99h1v3.6h-1zM1197 1067.99h1v3.6h-1zM1210 1067.99h1v3.6h-1zM1212 1067.99h1v3.6h-1zM1222 1067.99h1v3.6h-1zM1230 1067.99h1v3.6h-1zM1112 1064.39h1v3.6h-1zM1120 1064.39h1v3.6h-1zM1123 1064.39h1v3.6h-1zM1132 1064.39h1v3.6h-1zM1184 1064.39h1v3.6h-1zM1186 1064.39h1v3.6h-1zM1198 1064.39h1v3.6h-1zM1210 1064.39h1v3.6h-1zM1095 1060.79h1v3.6h-1zM1114 1060.79h1v3.6h-1zM1119 1060.79h1v3.6h-1zM676 1057.19h1v3.6h-1zM945 1049.99h1v3.6h-1zM945 1039.19h1v3.6h-1z"/>
<path fill="#0066ff" d="M873 1106.68h1v14.92h-1zM885 1106.68h1v14.92h-1zM918 1106.68h1v14.92h-1zM926 1106.68h2v14.92h-2zM941 1106.68h1v14.92h-1zM947 1106.68h1v14.92h-1zM966 1106.68h1v14.92h-1zM979 1106.68h1v14.92h-1zM988 1106.68h2v14.92h-2zM991 1106.68h1v14.92h-1zM1003 1106.68h1v14.92h-1zM1007 1106.68h1v14.92h-1zM1021 1106.68h1v14.92h-1zM1024 1106.68h1v14.92h-1zM1032 1106.68h1v14.92h-1zM1047 1106.68h1v14.92h-1zM1054 1106.68h1v14.92h-1zM1063 1106.68h1v14.92h-1zM1149 1106.68h1v14.92h-1zM1155 1106.68h1v14.92h-1zM1245 1106.68h1v14.92h-1zM1255 1106.68h1v14.92h-1zM1257 1106.68h2v14.92h-2zM1262 1106.68h1v14.92h-1zM1273 1106.68h1v14.92h-1zM1275 1106.68h1v14.92h-1zM1317 1106.68h1v14.92h-1zM674 1097.71h1v8.96h-1zM768 1097.71h1v8.96h-1zM791 1097.71h1v8.96h-1zM793 1097.71h1v8.96h-1zM796 1097.71h1v8.96h-1zM809 1097.71h1v8.96h-1zM813 1097.71h2v8.96h-2zM823 1097.71h1v8.96h-1zM830 1097.71h2v8.96h-2zM835 1097.71h2v8.96h-2zM838 1097.71h1v8.96h-1zM842 1097.71h1v8.96h-1zM848 1097.71h1v8.96h-1zM860 1097.71h1v8.96h-1zM872 1097.71h1v8.96h-1zM875 1097.71h1v8.96h-1zM877 1097.71h1v8.96h-1zM881 1097.71h1v8.96h-1zM888 1097.71h1v8.96h-1zM892 1097.71h1v8.96h-1zM912 1097.71h2v8.96h-2zM919 1097.71h1v8.96h-1zM924 1097.71h1v8.96h-1zM927 1097.71h1v8.96h-1zM929 1097.71h1v8.96h-1zM932 1097.71h1v8.96h-1zM936 1097.71h2v8.96h-2zM947 1097.71h1v8.96h-1zM949 1097.71h1v8.96h-1zM961 1097.71h1v8.96h-1zM967 1097.71h1v8.96h-1zM972 1097.71h3v8.96h-3zM985 1097.71h1v8.96h-1zM993 1097.71h1v8.96h-1zM1002 1097.71h2v8.96h-2zM1007 1097.71h1v8.96h-1zM1024 1097.71h1v8.96h-1zM1155 1097.71h1v8.96h-1zM1255 1097.71h1v8.96h-1zM1257 1097.71h1v8.96h-1zM1262 1097.71h1v8.96h-1zM1275 1097.71h2v8.96h-2zM1315 1097.71h1v8.96h-1zM1317 1097.71h1v8.96h-1zM1343 1097.71h1v8.96h-1zM991 1091.36h1v6.36h-1zM1015 1091.36h1v6.36h-1zM1021 1091.36h1v6.36h-1zM1034 1091.36h1v6.36h-1zM1046 1091.36h1v6.36h-1zM1082 1091.36h1v6.36h-1zM1087 1091.36h1v6.36h-1zM1096 1091.36h1v6.36h-1zM1113 1091.36h1v6.36h-1zM1119 1091.36h1v6.36h-1zM1169 1091.36h1v6.36h-1zM1192 1091.36h1v6.36h-1zM1245 1091.36h1v6.36h-1zM1252 1091.36h1v6.36h-1zM1257 1091.36h1v6.36h-1zM1023 1086.42h1v4.93h-1zM1072 1086.42h1v4.93h-1zM1089 1086.42h1v4.93h-1zM1109 1086.42h1v4.93h-1zM1117 1086.42h1v4.93h-1zM1143 1086.42h1v4.93h-1zM1152 1086.42h1v4.93h-1zM1169 1086.42h1v4.93h-1zM1175 1086.42h1v4.93h-1zM1183 1086.42h1v4.93h-1zM1191 1086.42h1v4.93h-1zM1207 1086.42h1v4.93h-1zM1213 1086.42h1v4.93h-1zM1233 1086.42h1v4.93h-1zM1238 1086.42h1v4.93h-1zM1241 1086.42h1v4.93h-1zM1351 1086.42h1v4.93h-1zM1065 1082.39h1v4.03h-1zM1075 1082.39h1v4.03h-1zM1093 1082.39h1v4.03h-1zM1118 1082.39h1v4.03h-1zM1121 1082.39h1v4.03h-1zM1146 1082.39h1v4.03h-1zM1183 1082.39h1v4.03h-1zM1185 1082.39h1v4.03h-1zM1206 1082.39h1v4.03h-1zM1233 1082.39h1v4.03h-1zM677 1078.79h1v3.6h-1zM1079 1078.79h1v3.6h-1zM1089 1078.79h1v3.6h-1zM1100 1078.79h2v3.6h-2zM1129 1078.79h1v3.6h-1zM1185 1078.79h1v3.6h-1zM1216 1078.79h1v3.6h-1zM1223 1078.79h1v3.6h-1zM1168 1075.19h1v3.6h-1zM1224 1075.19h1v3.6h-1zM1098 1071.59h1v3.6h-1zM1112 1071.59h1v3.6h-1zM1118 1071.59h1v3.6h-1zM1122 1071.59h1v3.6h-1zM1183 1071.59h1v3.6h-1zM1188 1071.59h1v3.6h-1zM1205 1071.59h3v3.6h-3zM1213 1071.59h1v3.6h-1zM1233 1071.59h1v3.6h-1zM1108 1067.99h1v3.6h-1zM1118 1067.99h1v3.6h-1zM1132 1067.99h1v3.6h-1zM1134 1067.99h1v3.6h-1zM1201 1067.99h1v3.6h-1zM675 1053.59h1v3.6h-1zM676 1046.39h1v3.6h-1zM674 1042.79h1v3.6h-1z"/>
<path fill="#0080ff" d="M675 1106.68h1v14.92h-1zM916 1106.68h1v14.92h-1zM949 1106.68h1v14.92h-1zM1005 1106.68h1v14.92h-1zM1008 1106.68h1v14.92h-1zM1013 1106.68h3v14.92h-3zM1020 1106.68h1v14.92h-1zM1025 1106.68h1v14.92h-1zM1029 1106.68h1v14.92h-1zM1048 1106.68h1v14.92h-1zM1050 1106.68h1v14.92h-1zM1053 1106.68h1v14.92h-1zM1057 1106.68h1v14.92h-1zM1061 1106.68h1v14.92h-1zM1070 1106.68h1v14.92h-1zM1139 1106.68h1v14.92h-1zM1241 1106.68h2v14.92h-2zM1254 1106.68h1v14.92h-1zM1259 1106.68h1v14.92h-1zM1274 1106.68h1v14.92h-1zM1345 1106.68h1v14.92h-1zM676 1097.71h1v8.96h-1zM846 1097.71h1v8.96h-1zM857 1097.71h1v8.96h-1zM865 1097.71h1v8.96h-1zM879 1097.71h1v8.96h-1zM903 1097.71h1v8.96h-1zM920 1097.71h2v8.96h-2zM943 1097.71h1v8.96h-1zM954 1097.71h1v8.96h-1zM959 1097.71h1v8.96h-1zM969 1097.71h1v8.96h-1zM975 1097.71h1v8.96h-1zM979 1097.71h1v8.96h-1zM989 1097.71h1v8.96h-1zM991 1097.71h1v8.96h-1zM996 1097.71h1v8.96h-1zM1005 1097.71h1v8.96h-1zM1014 1097.71h3v8.96h-3zM1021 1097.71h1v8.96h-1zM1023 1097.71h1v8.96h-1zM1032 1097.71h1v8.96h-1zM1045 1097.71h1v8.96h-1zM1047 1097.71h1v8.96h-1zM1054 1097.71h1v8.96h-1zM1063 1097.71h1v8.96h-1zM1149 1097.71h1v8.96h-1zM1252 1097.71h1v8.96h-1zM1271 1097.71h1v8.96h-1zM1273 1097.71h2v8.96h-2zM675 1091.36h1v6.36h-1zM1008 1091.36h1v6.36h-1zM1038 1091.36h1v6.36h-1zM1065 1091.36h1v6.36h-1zM1124 1091.36h1v6.36h-1zM1143 1091.36h1v6.36h-1zM1180 1091.36h1v6.36h-1zM1209 1091.36h1v6.36h-1zM1253 1091.36h1v6.36h-1zM1270 1091.36h1v6.36h-1zM1344 1091.36h1v6.36h-1zM1351 1091.36h1v6.36h-1zM1038 1086.42h1v4.93h-1zM1049 1086.42h1v4.93h-1zM1064 1086.42h1v4.93h-1zM1071 1086.42h1v4.93h-1zM1087 1086.42h1v4.93h-1zM1103 1086.42h1v4.93h-1zM1115 1086.42h1v4.93h-1zM1137 1086.42h1v4.93h-1zM1141 1086.42h1v4.93h-1zM1192 1086.42h1v4.93h-1zM1205 1086.42h1v4.93h-1zM1209 1086.42h1v4.93h-1zM1218 1086.42h1v4.93h-1zM1234 1086.42h1v4.93h-1zM1246 1086.42h1v4.93h-1zM1348 1086.42h2v4.93h-2zM1114 1082.39h1v4.03h-1zM1147 1082.39h1v4.03h-1zM1170 1082.39h1v4.03h-1zM1201 1082.39h2v4.03h-2zM1211 1082.39h1v4.03h-1zM1236 1082.39h1v4.03h-1zM1074 1078.79h1v3.6h-1zM1088 1078.79h1v3.6h-1zM1091 1078.79h1v3.6h-1zM1104 1078.79h1v3.6h-1zM1123 1078.79h1v3.6h-1zM1169 1078.79h1v3.6h-1zM1171 1078.79h1v3.6h-1zM1181 1078.79h2v3.6h-2zM1191 1078.79h1v3.6h-1zM1198 1078.79h1v3.6h-1zM1204 1078.79h1v3.6h-1zM1221 1078.79h1v3.6h-1zM1233 1078.79h1v3.6h-1zM1100 1075.19h1v3.6h-1zM1119 1075.19h1v3.6h-1zM1127 1075.19h1v3.6h-1zM1129 1075.19h1v3.6h-1zM1171 1075.19h1v3.6h-1zM1201 1075.19h1v3.6h-1zM1218 1075.19h1v3.6h-1zM1094 1071.59h1v3.6h-1zM1106 1071.59h1v3.6h-1zM1113 1071.59h1v3.6h-1zM1120 1071.59h2v3.6h-2zM1209 1071.59h1v3.6h-1zM1228 1071.59h1v3.6h-1zM675 1049.99h1v3.6h-1zM674 1046.39h1v3.6h-1z"/>
<path fill="#0099ff" d="M998 1106.68h1v14.92h-1zM1000 1106.68h1v14.92h-1zM1004 1106.68h1v14.92h-1zM1022 1106.68h2v14.92h-2zM1035 1106.68h1v14.92h-1zM1041 1106.68h2v14.92h-2zM1045 1106.68h2v14.92h-2zM1051 1106.68h2v14.92h-2zM1056 1106.68h1v14.92h-1zM1059 1106.68h1v14.92h-1zM1065 1106.68h1v14.92h-1zM1140 1106.68h1v14.92h-1zM1143 1106.68h1v14.92h-1zM1146 1106.68h1v14.92h-1zM1150 1106.68h3v14.92h-3zM1156 1106.68h1v14.92h-1zM1243 1106.68h1v14.92h-1zM1246 1106.68h1v14.92h-1zM1344 1106.68h1v14.92h-1zM1351 1106.68h1v14.92h-1zM675 1097.71h1v8.96h-1zM885 1097.71h1v8.96h-1zM916 1097.71h1v8.96h-1zM918 1097.71h1v8.96h-1zM926 1097.71h1v8.96h-1zM930 1097.71h1v8.96h-1zM940 1097.71h2v8.96h-2zM952 1097.71h1v8.96h-1zM981 1097.71h1v8.96h-1zM988 1097.71h1v8.96h-1zM998 1097.71h1v8.96h-1zM1004 1097.71h1v8.96h-1zM1025 1097.71h1v8.96h-1zM1034 1097.71h1v8.96h-1zM1039 1097.71h1v8.96h-1zM1042 1097.71h1v8.96h-1zM1053 1097.71h1v8.96h-1zM1056 1097.71h2v8.96h-2zM1070 1097.71h1v8.96h-1zM1154 1097.71h1v8.96h-1zM1156 1097.71h1v8.96h-1zM1237 1097.71h1v8.96h-1zM1245 1097.71h1v8.96h-1zM1254 1097.71h1v8.96h-1zM1259 1097.71h1v8.96h-1zM1265 1097.71h1v8.96h-1zM1345 1097.71h1v8.96h-1zM1350 1097.71h1v8.96h-1zM677 1091.36h1v6.36h-1zM1033 1091.36h1v6.36h-1zM1049 1091.36h1v6.36h-1zM1056 1091.36h1v6.36h-1zM1076 1091.36h1v6.36h-1zM1111 1091.36h1v6.36h-1zM1122 1091.36h1v6.36h-1zM1131 1091.36h1v6.36h-1zM1140 1091.36h1v6.36h-1zM1156 1091.36h1v6.36h-1zM1173 1091.36h1v6.36h-1zM1230 1091.36h1v6.36h-1zM1346 1091.36h1v6.36h-1zM1079 1086.42h1v4.93h-1zM1108 1086.42h1v4.93h-1zM1113 1086.42h1v4.93h-1zM1129 1086.42h1v4.93h-1zM1134 1086.42h1v4.93h-1zM1151 1086.42h1v4.93h-1zM1189 1086.42h1v4.93h-1zM1201 1086.42h1v4.93h-1zM1222 1086.42h1v4.93h-1zM1236 1086.42h1v4.93h-1zM1347 1086.42h1v4.93h-1zM1112 1082.39h1v4.03h-1zM1124 1082.39h1v4.03h-1zM1184 1082.39h1v4.03h-1zM1191 1082.39h2v4.03h-2zM1214 1082.39h1v4.03h-1zM1077 1078.79h1v3.6h-1zM1094 1078.79h2v3.6h-2zM1128 1078.79h1v3.6h-1zM1175 1078.79h1v3.6h-1zM1103 1075.19h1v3.6h-1zM1114 1075.19h1v3.6h-1zM1121 1075.19h1v3.6h-1zM1191 1075.19h1v3.6h-1zM1195 1075.19h1v3.6h-1zM1233 1075.19h1v3.6h-1zM1108 1071.59h1v3.6h-1zM1210 1071.59h1v3.6h-1z"/>
<path fill="#00b2ff" d="M674 1106.68h1v14.92h-1zM677 1106.68h1v14.92h-1zM1033 1106.68h1v14.92h-1zM1049 1106.68h1v14.92h-1zM1064 1106.68h1v14.92h-1zM1069 1106.68h1v14.92h-1zM1074 1106.68h1v14.92h-1zM1076 1106.68h1v14.92h-1zM1079 1106.68h2v14.92h-2zM1127 1106.68h2v14.92h-2zM1148 1106.68h1v14.92h-1zM1154 1106.68h1v14.92h-1zM1169 1106.68h3v14.92h-3zM1180 1106.68h1v14.92h-1zM1187 1106.68h1v14.92h-1zM1234 1106.68h1v14.92h-1zM1237 1106.68h1v14.92h-1zM1239 1106.68h1v14.92h-1zM1248 1106.68h1v14.92h-1zM1272 1106.68h1v14.92h-1zM1346 1106.68h1v14.92h-1zM1349 1106.68h2v14.92h-2zM963 1097.71h1v8.96h-1zM995 1097.71h1v8.96h-1zM1000 1097.71h1v8.96h-1zM1012 1097.71h2v8.96h-2zM1022 1097.71h1v8.96h-1zM1035 1097.71h2v8.96h-2zM1049 1097.71h3v8.96h-3zM1058 1097.71h1v8.96h-1zM1061 1097.71h1v8.96h-1zM1076 1097.71h1v8.96h-1zM1079 1097.71h1v8.96h-1zM1082 1097.71h1v8.96h-1zM1139 1097.71h2v8.96h-2zM1146 1097.71h1v8.96h-1zM1148 1097.71h1v8.96h-1zM1242 1097.71h2v8.96h-2zM1246 1097.71h1v8.96h-1zM1251 1097.71h1v8.96h-1zM1253 1097.71h1v8.96h-1zM1258 1097.71h1v8.96h-1zM1261 1097.71h1v8.96h-1zM1264 1097.71h1v8.96h-1zM1270 1097.71h1v8.96h-1zM1344 1097.71h1v8.96h-1zM1349 1097.71h1v8.96h-1zM1020 1091.36h1v6.36h-1zM1071 1091.36h1v6.36h-1zM1083 1091.36h1v6.36h-1zM1095 1091.36h1v6.36h-1zM1100 1091.36h1v6.36h-1zM1114 1091.36h1v6.36h-1zM1121 1091.36h1v6.36h-1zM1123 1091.36h1v6.36h-1zM1170 1091.36h1v6.36h-1zM1197 1091.36h2v6.36h-2zM1205 1091.36h1v6.36h-1zM1214 1091.36h1v6.36h-1zM1218 1091.36h1v6.36h-1zM1224 1091.36h2v6.36h-2zM1234 1091.36h1v6.36h-1zM1082 1086.42h1v4.93h-1zM1096 1086.42h1v4.93h-1zM1114 1086.42h1v4.93h-1zM1139 1086.42h1v4.93h-1zM1179 1086.42h1v4.93h-1zM1184 1086.42h2v4.93h-2zM1193 1086.42h2v4.93h-2zM1087 1082.39h1v4.03h-1zM1099 1082.39h1v4.03h-1zM1106 1082.39h1v4.03h-1zM1127 1082.39h1v4.03h-1zM1132 1082.39h1v4.03h-1zM1216 1082.39h1v4.03h-1zM1234 1082.39h1v4.03h-1zM1092 1078.79h1v3.6h-1zM1105 1078.79h1v3.6h-1zM1120 1078.79h1v3.6h-1zM1136 1078.79h1v3.6h-1zM1141 1078.79h1v3.6h-1zM1088 1075.19h1v3.6h-1zM1109 1075.19h1v3.6h-1zM1196 1075.19h1v3.6h-1zM1203 1075.19h1v3.6h-1zM1206 1075.19h1v3.6h-1zM1226 1075.19h1v3.6h-1zM1114 1071.59h1v3.6h-1zM1196 1071.59h1v3.6h-1zM675 1046.39h1v3.6h-1zM675 1042.79h1v3.6h-1z"/>
<path fill="#00ccff" d="M1027 1106.68h1v14.92h-1zM1036 1106.68h1v14.92h-1zM1038 1106.68h1v14.92h-1zM1058 1106.68h1v14.92h-1zM1071 1106.68h2v14.92h-2zM1075 1106.68h1v14.92h-1zM1082 1106.68h2v14.92h-2zM1089 1106.68h1v14.92h-1zM1144 1106.68h1v14.92h-1zM1175 1106.68h1v14.92h-1zM1181 1106.68h1v14.92h-1zM1185 1106.68h1v14.92h-1zM1189 1106.68h1v14.92h-1zM1192 1106.68h1v14.92h-1zM1202 1106.68h1v14.92h-1zM1213 1106.68h1v14.92h-1zM1222 1106.68h1v14.92h-1zM1232 1106.68h1v14.92h-1zM1236 1106.68h1v14.92h-1zM1240 1106.68h1v14.92h-1zM1347 1106.68h1v14.92h-1zM677 1097.71h1v8.96h-1zM1008 1097.71h1v8.96h-1zM1020 1097.71h1v8.96h-1zM1029 1097.71h1v8.96h-1zM1033 1097.71h1v8.96h-1zM1046 1097.71h1v8.96h-1zM1052 1097.71h1v8.96h-1zM1064 1097.71h1v8.96h-1zM1074 1097.71h1v8.96h-1zM1143 1097.71h2v8.96h-2zM1150 1097.71h3v8.96h-3zM1200 1097.71h1v8.96h-1zM1221 1097.71h1v8.96h-1zM1239 1097.71h1v8.96h-1zM1241 1097.71h1v8.96h-1zM1346 1097.71h2v8.96h-2zM1351 1097.71h1v8.96h-1zM1094 1091.36h1v6.36h-1zM1107 1091.36h1v6.36h-1zM1112 1091.36h1v6.36h-1zM1132 1091.36h1v6.36h-1zM1144 1091.36h1v6.36h-1zM1154 1091.36h1v6.36h-1zM1181 1091.36h1v6.36h-1zM1194 1091.36h2v6.36h-2zM1203 1091.36h1v6.36h-1zM1211 1091.36h1v6.36h-1zM674 1086.42h1v4.93h-1zM1074 1086.42h1v4.93h-1zM1092 1086.42h1v4.93h-1zM1098 1086.42h1v4.93h-1zM1101 1086.42h1v4.93h-1zM1180 1086.42h1v4.93h-1zM1182 1086.42h1v4.93h-1zM1200 1086.42h1v4.93h-1zM1206 1086.42h1v4.93h-1zM1221 1086.42h1v4.93h-1zM674 1082.39h1v4.03h-1zM1091 1082.39h1v4.03h-1zM1122 1082.39h1v4.03h-1zM1135 1082.39h1v4.03h-1zM1176 1082.39h1v4.03h-1zM1179 1082.39h1v4.03h-1zM1194 1082.39h1v4.03h-1zM1226 1082.39h2v4.03h-2zM1078 1078.79h1v3.6h-1zM1131 1078.79h1v3.6h-1zM1188 1078.79h1v3.6h-1zM1212 1078.79h1v3.6h-1zM1230 1078.79h1v3.6h-1zM1096 1075.19h1v3.6h-1zM1106 1075.19h1v3.6h-1zM676 1060.79h1v3.6h-1zM675 1057.19h1v3.6h-1zM676 1053.59h1v3.6h-1z"/>
<path fill="#00e5ff" d="M676 1106.68h1v14.92h-1zM1087 1106.68h1v14.92h-1zM1091 1106.68h1v14.92h-1zM1101 1106.68h1v14.92h-1zM1122 1106.68h1v14.92h-1zM1129 1106.68h1v14.92h-1zM1133 1106.68h1v14.92h-1zM1136 1106.68h2v14.92h-2zM1141 1106.68h1v14.92h-1zM1147 1106.68h1v14.92h-1zM1168 1106.68h1v14.92h-1zM1172 1106.68h2v14.92h-2zM1176 1106.68h1v14.92h-1zM1182 1106.68h1v14.92h-1zM1191 1106.68h1v14.92h-1zM1193 1106.68h1v14.92h-1zM1197 1106.68h1v14.92h-1zM1200 1106.68h1v14.92h-1zM1205 1106.68h1v14.92h-1zM1207 1106.68h1v14.92h-1zM1211 1106.68h1v14.92h-1zM1221 1106.68h1v14.92h-1zM1231 1106.68h1v14.92h-1zM1235 1106.68h1v14.92h-1zM1238 1106.68h1v14.92h-1zM1348 1106.68h1v14.92h-1zM1027 1097.71h1v8.96h-1zM1038 1097.71h1v8.96h-1zM1041 1097.71h1v8.96h-1zM1048 1097.71h1v8.96h-1zM1059 1097.71h1v8.96h-1zM1065 1097.71h1v8.96h-1zM1071 1097.71h1v8.96h-1zM1075 1097.71h1v8.96h-1zM1080 1097.71h1v8.96h-1zM1083 1097.71h1v8.96h-1zM1087 1097.71h1v8.96h-1zM1128 1097.71h1v8.96h-1zM1171 1097.71h2v8.96h-2zM1175 1097.71h1v8.96h-1zM1179 1097.71h2v8.96h-2zM1183 1097.71h1v8.96h-1zM1192 1097.71h2v8.96h-2zM1231 1097.71h1v8.96h-1zM1236 1097.71h1v8.96h-1zM1240 1097.71h1v8.96h-1zM1248 1097.71h1v8.96h-1zM1272 1097.71h1v8.96h-1zM1074 1091.36h1v6.36h-1zM1080 1091.36h1v6.36h-1zM1137 1091.36h1v6.36h-1zM1184 1091.36h1v6.36h-1zM1191 1091.36h1v6.36h-1zM1193 1091.36h1v6.36h-1zM1213 1091.36h1v6.36h-1zM675 1086.42h1v4.93h-1zM1202 1086.42h1v4.93h-1zM675 1082.39h1v4.03h-1zM1107 1082.39h1v4.03h-1zM1111 1082.39h1v4.03h-1zM1203 1082.39h1v4.03h-1zM1223 1082.39h1v4.03h-1zM674 1078.79h1v3.6h-1zM676 1078.79h1v3.6h-1zM1099 1078.79h1v3.6h-1zM1184 1078.79h1v3.6h-1zM1203 1078.79h1v3.6h-1zM674 1075.19h3v3.6h-3zM674 1071.59h2v3.6h-2zM676 1067.99h1v3.6h-1zM674 1064.39h3v3.6h-3zM674 1060.79h2v3.6h-2zM674 1057.19h1v3.6h-1zM674 1053.59h1v3.6h-1zM674 1049.99h1v3.6h-1z"/>
<path fill="#00ffff" d="M1068 1106.68h1v14.92h-1zM1077 1106.68h2v14.92h-2zM1086 1106.68h1v14.92h-1zM1093 1106.68h1v14.92h-1zM1100 1106.68h1v14.92h-1zM1107 1106.68h1v14.92h-1zM1110 1106.68h1v14.92h-1zM1117 1106.68h1v14.92h-1zM1125 1106.68h1v14.92h-1zM1131 1106.68h1v14.92h-1zM1179 1106.68h1v14.92h-1zM1183 1106.68h1v14.92h-1zM1201 1106.68h1v14.92h-1zM1204 1106.68h1v14.92h-1zM1214 1106.68h1v14.92h-1zM1223 1106.68h1v14.92h-1zM1227 1106.68h1v14.92h-1zM1068 1097.71h2v8.96h-2zM1072 1097.71h1v8.96h-1zM1089 1097.71h1v8.96h-1zM1091 1097.71h1v8.96h-1zM1117 1097.71h1v8.96h-1zM1127 1097.71h1v8.96h-1zM1133 1097.71h1v8.96h-1zM1136 1097.71h2v8.96h-2zM1147 1097.71h1v8.96h-1zM1168 1097.71h1v8.96h-1zM1173 1097.71h1v8.96h-1zM1185 1097.71h1v8.96h-1zM1187 1097.71h1v8.96h-1zM1189 1097.71h1v8.96h-1zM1207 1097.71h1v8.96h-1zM1215 1097.71h1v8.96h-1zM1222 1097.71h1v8.96h-1zM1230 1097.71h1v8.96h-1zM1232 1097.71h1v8.96h-1zM1235 1097.71h1v8.96h-1zM1238 1097.71h1v8.96h-1zM1348 1097.71h1v8.96h-1zM674 1091.36h1v6.36h-1zM676 1091.36h1v6.36h-1zM1069 1091.36h1v6.36h-1zM1098 1091.36h1v6.36h-1zM1116 1091.36h1v6.36h-1zM1128 1091.36h1v6.36h-1zM1168 1091.36h1v6.36h-1zM1183 1091.36h1v6.36h-1zM1185 1091.36h1v6.36h-1zM1221 1091.36h1v6.36h-1zM1228 1091.36h1v6.36h-1zM1232 1091.36h1v6.36h-1zM1235 1091.36h1v6.36h-1zM1075 1086.42h1v4.93h-1zM1099 1086.42h1v4.93h-1zM1111 1086.42h1v4.93h-1zM1203 1086.42h1v4.93h-1zM1224 1086.42h1v4.93h-1zM676 1082.39h1v4.03h-1zM675 1078.79h1v3.6h-1zM675 1067.99h1v3.6h-1zM676 1049.99h1v3.6h-1zM676 1042.79h1v3.6h-1z"/>
<path fill="#1affe5" d="M1092 1106.68h1v14.92h-1zM1094 1106.68h1v14.92h-1zM1104 1106.68h3v14.92h-3zM1113 1106.68h1v14.92h-1zM1118 1106.68h1v14.92h-1zM1121 1106.68h1v14.92h-1zM1132 1106.68h1v14.92h-1zM1134 1106.68h2v14.92h-2zM1188 1106.68h1v14.92h-1zM1196 1106.68h1v14.92h-1zM1203 1106.68h1v14.92h-1zM1206 1106.68h1v14.92h-1zM1209 1106.68h1v14.92h-1zM1215 1106.68h1v14.92h-1zM1218 1106.68h1v14.92h-1zM1224 1106.68h2v14.92h-2zM1228 1106.68h1v14.92h-1zM1230 1106.68h1v14.92h-1zM1233 1106.68h1v14.92h-1zM1077 1097.71h2v8.96h-2zM1088 1097.71h1v8.96h-1zM1105 1097.71h1v8.96h-1zM1107 1097.71h1v8.96h-1zM1110 1097.71h1v8.96h-1zM1122 1097.71h1v8.96h-1zM1125 1097.71h1v8.96h-1zM1131 1097.71h1v8.96h-1zM1169 1097.71h2v8.96h-2zM1181 1097.71h2v8.96h-2zM1202 1097.71h1v8.96h-1zM1204 1097.71h2v8.96h-2zM1209 1097.71h1v8.96h-1zM1213 1097.71h2v8.96h-2zM1223 1097.71h1v8.96h-1zM1228 1097.71h1v8.96h-1zM1234 1097.71h1v8.96h-1zM1091 1091.36h1v6.36h-1zM1103 1091.36h1v6.36h-1zM1106 1091.36h1v6.36h-1zM1133 1091.36h1v6.36h-1zM676 1086.42h1v4.93h-1zM1095 1086.42h1v4.93h-1zM1105 1086.42h1v4.93h-1zM1124 1086.42h1v4.93h-1zM1173 1086.42h1v4.93h-1zM1216 1086.42h1v4.93h-1zM1103 1082.39h1v4.03h-1zM1210 1082.39h1v4.03h-1zM676 1071.59h1v3.6h-1zM674 1067.99h1v3.6h-1z"/>
<path fill="#33ffcc" d="M1084 1106.68h1v14.92h-1zM1088 1106.68h1v14.92h-1zM1096 1106.68h1v14.92h-1zM1098 1106.68h1v14.92h-1zM1111 1106.68h1v14.92h-1zM1119 1106.68h2v14.92h-2zM1184 1106.68h1v14.92h-1zM1186 1106.68h1v14.92h-1zM1190 1106.68h1v14.92h-1zM1194 1106.68h2v14.92h-2zM1216 1106.68h1v14.92h-1zM1086 1097.71h1v8.96h-1zM1092 1097.71h1v8.96h-1zM1094 1097.71h1v8.96h-1zM1101 1097.71h1v8.96h-1zM1104 1097.71h1v8.96h-1zM1113 1097.71h1v8.96h-1zM1120 1097.71h1v8.96h-1zM1135 1097.71h1v8.96h-1zM1141 1097.71h1v8.96h-1zM1176 1097.71h1v8.96h-1zM1188 1097.71h1v8.96h-1zM1190 1097.71h1v8.96h-1zM1197 1097.71h1v8.96h-1zM1206 1097.71h1v8.96h-1zM1210 1097.71h2v8.96h-2zM1224 1097.71h1v8.96h-1zM1226 1097.71h1v8.96h-1zM1233 1097.71h1v8.96h-1zM1077 1091.36h1v6.36h-1zM1101 1091.36h1v6.36h-1zM1105 1091.36h1v6.36h-1zM1110 1091.36h1v6.36h-1zM1134 1091.36h1v6.36h-1zM1189 1091.36h1v6.36h-1zM1096 1082.39h1v4.03h-1zM1108 1078.79h1v3.6h-1z"/>
<path fill="#4dffb2" d="M1114 1106.68h2v14.92h-2zM1123 1106.68h2v14.92h-2zM1198 1106.68h1v14.92h-1zM1226 1106.68h1v14.92h-1zM1093 1097.71h1v8.96h-1zM1100 1097.71h1v8.96h-1zM1121 1097.71h1v8.96h-1zM1124 1097.71h1v8.96h-1zM1129 1097.71h1v8.96h-1zM1134 1097.71h1v8.96h-1zM1194 1097.71h2v8.96h-2zM1198 1097.71h1v8.96h-1zM1216 1097.71h1v8.96h-1zM1078 1091.36h1v6.36h-1zM1182 1091.36h1v6.36h-1zM1206 1091.36h1v6.36h-1zM1227 1091.36h1v6.36h-1zM1132 1086.42h1v4.93h-1zM1098 1082.39h1v4.03h-1z"/>
<path fill="#66ff99" d="M1095 1106.68h1v14.92h-1zM1099 1106.68h1v14.92h-1zM1108 1106.68h1v14.92h-1zM1210 1106.68h1v14.92h-1zM1212 1106.68h1v14.92h-1zM1099 1097.71h1v8.96h-1zM1111 1097.71h1v8.96h-1zM1118 1097.71h1v8.96h-1zM1132 1097.71h1v8.96h-1zM1186 1097.71h1v8.96h-1zM1191 1097.71h1v8.96h-1zM1201 1097.71h1v8.96h-1zM1203 1097.71h1v8.96h-1zM1225 1097.71h1v8.96h-1zM1227 1097.71h1v8.96h-1zM1188 1091.36h1v6.36h-1z"/>
<path fill="#80ff80" d="M1112 1106.68h1v14.92h-1zM1116 1106.68h1v14.92h-1zM1084 1097.71h1v8.96h-1zM1096 1097.71h1v8.96h-1zM1106 1097.71h1v8.96h-1zM1109 1097.71h1v8.96h-1zM1112 1097.71h1v8.96h-1zM1114 1097.71h1v8.96h-1zM1116 1097.71h1v8.96h-1zM1123 1097.71h1v8.96h-1zM1184 1097.71h1v8.96h-1zM1218 1097.71h1v8.96h-1zM1109 1091.36h1v6.36h-1zM1204 1091.36h1v6.36h-1z"/>
<path fill="#99ff66" d="M1103 1106.68h1v14.92h-1zM1095 1097.71h1v8.96h-1zM1098 1097.71h1v8.96h-1zM1196 1097.71h1v8.96h-1zM1212 1097.71h1v8.96h-1zM1118 1091.36h1v6.36h-1z"/>
<path fill="#b3ff4c" d="M1109 1106.68h1v14.92h-1zM1103 1097.71h1v8.96h-1zM1108 1097.71h1v8.96h-1zM1119 1097.71h1v8.96h-1z"/>
<path fill="#ccff33" d="M1115 1097.71h1v8.96h-1z"/>
<path stroke="#002eff" stroke-width="1.2" fill="none" d="M691 998.7h1M696 998.7h3M730 998.7h6M737 998.7h1M742 998.7h3M752 998.7h1M754 998.7h6M782 998.7h6M790 998.7h4M805 998.7h4M811 998.7h2M813 998.7h4M818 998.7h2M822 998.7h4M827 998.7h4"/>
<path stroke="#009eff" stroke-width="1.2" fill="none" d="M740 998.7h6M746 998.7h2M759 998.7h3M764 998.7h2M767 998.7h2M770 998.7h1M771 998.7h6M778 998.7h6M784 998.7h3M788 998.7h1"/>
<path stroke="#0024ff" stroke-width="1.2" fill="none" d="M1075 999.2h2M1079 999.2h1M1080 999.2h4M1084 999.2h6M1091 999.2h4M1095 999.2h2M1102 999.2h3M1112 999.2h6M1124 999.2h3M1131 999.2h2M1142 999.2h3M1146 999.2h1M1147 999.2h4M1151 999.2h2M1157 999.2h1M1158 999.2h3M1174 999.2h1M1182 999.2h6M1197 999.2h6M1204 999.2h2M1208 999.2h6M1216 999.2h1M1238 999.2h3M1247 999.2h4M1252 999.2h3M1255 999.2h1M1283 999.2h2M1287 999.2h6M1293 999.2h2M1297 999.2h4M1303 999.2h6M1313 999.2h3M1321 999.2h6M1329 999.2h2M1338 999.2h6M1346 999.2h4"/>
<path stroke="#0075ff" stroke-width="1.2" fill="none" d="M1160 999.2h3M1174 999.2h6M1181 999.2h6M1189 999.2h3M1196 999.2h2M1200 999.2h4M1206 999.2h6M1212 999.2h4M1224 999.2h3M1229 999.2h1M1231 999.2h3M1246 999.2h2M1249 999.2h6M1255 999.2h2M1276 999.2h6"/>
<path stroke="#002eff" stroke-width="1.2" fill="none" d="M835 983.4h6M843 983.4h4M849 983.4h6M857 983.4h4M863 983.4h6M871 983.4h2M873 983.4h3M880 983.4h6M899 983.4h3M903 983.4h6M910 983.4h6M918 983.4h3M923 983.4h6"/>
<path stroke="#00b2ff" stroke-width="1.2" fill="none" d="M870 983.4h4M875 983.4h3M880 983.4h6M886 983.4h2M892 983.4h2M895 983.4h1M896 983.4h3M899 983.4h2"/>
<path stroke="#0024ff" stroke-width="1.2" fill="none" d="M780 1025.7h1M782 1025.7h4M788 1025.7h6M795 1025.7h6M820 1025.7h2M839 1025.7h2M842 1025.7h4M848 1025.7h1M862 1025.7h3M865 1025.7h1M868 1025.7h6M875 1025.7h1M877 1025.7h1M899 1025.7h4M909 1025.7h2M911 1025.7h6M937 1025.7h2M948 1025.7h6M955 1025.7h3M964 1025.7h6M978 1025.7h1M984 1025.7h1M986 1025.7h1M988 1025.7h3"/>
<path stroke="#001aff" stroke-width="1.2" fill="none" d="M847 1016.2h6M884 1016.2h3M893 1016.2h3M898 1016.2h3M901 1016.2h4M907 1016.2h6M915 1016.2h3M919 1016.2h6M930 1016.2h4M940 1016.2h2M944 1016.2h1M961 1016.2h6M980 1016.2h6M990 1016.2h4M994 1016.2h6M1003 1016.2h6"/>
<path stroke="#002eff" stroke-width="1.2" fill="none" d="M680 1039.6h3M685 1039.6h6M693 1039.6h6M701 1039.6h2M708 1039.6h6M719 1039.6h4M723 1039.6h2M727 1039.6h2M740 1039.6h1M746 1039.6h4M750 1039.6h6M756 1039.6h1M757 1039.6h4M777 1039.6h2M799 1039.6h3M810 1039.6h2M812 1039.6h2M818 1039.6h3M822 1039.6h1M831 1039.6h2M840 1039.6h4M851 1039.6h2M863 1039.6h2M873 1039.6h2M875 1039.6h3M879 1039.6h3M885 1039.6h6M891 1039.6h6M899 1039.6h2M903 1039.6h1M911 1039.6h3M916 1039.6h3M929 1039.6h6M936 1039.6h3M939 1039.6h6M951 1039.6h3M955 1039.6h6M963 1039.6h1M982 1039.6h1M991 1039.6h1M998 1039.6h2M1004 1039.6h3"/>
<path stroke="#0000fa" stroke-width="1.2" fill="none" d="M1011 1040.5h1M1020 1040.5h4M1024 1040.5h2M1026 1040.5h4M1036 1040.5h2M1040 1040.5h4M1065 1040.5h3M1077 1040.5h3M1081 1040.5h1M1115 1040.5h3M1125 1040.5h3M1128 1040.5h1M1163 1040.5h6M1172 1040.5h2M1180 1040.5h6M1207 1040.5h3M1211 1040.5h1M1219 1040.5h4M1240 1040.5h3M1245 1040.5h4M1251 1040.5h2M1253 1040.5h1M1275 1040.5h1M1297 1040.5h6"/>
<path stroke="#004dff" stroke-width="1.2" fill="none" d="M880 974.5h1M881 974.5h2M883 974.5h1M884 974.5h4M888 974.5h1M890 974.5h3M894 974.5h4"/>
<path stroke="#1a22c8" stroke-width="1" fill="none" d="M758 1070.56h1M1112 1010.92h1M1311 1041.87h1M918 985.55h1M986 1070.45h1M807 1050.26h1M1220 1014.85h2M709 982.97h1M774 1004.98h1M971 999.31h1M704 989.88h1M753 1030.93h1M1076 1012.11h1M968 1072.8h1M1039 1067.73h2M702 1018.42h1M1257 1012.1h1M1152 1015.2h1M910 1034.45h2M1229 1011.24h2M684 1053.72h1M849 1007.37h1M861 982.81h2M925 1034.57h1M1102 1066.69h1M942 1013.93h2M875 1011.74h2M1065 1036.08h2M1346 1019.17h2M1261 1066.46h2M1092 1081.06h1M722 1033.75h2M1019 1048.76h2M1287 1051.32h1M1333 1005.69h1M1350 1017.6h2M1163 1016.19h1M970 987.3h2M1248 1028.47h1M1066 1003.17h2M850 1033.31h2M864 1044.68h2M826 1082.18h2M924 1048.92h1M1116 991.53h1M1202 983.44h1M1059 1010.49h1M1040 1080.61h2M1107 1059.41h1M1282 982.63h2M703 998.37h2M765 999.48h1M723 1074.11h2M858 987.79h1M702 1056.21h2M930 976.9h1M1193 1069.19h1M1291 1001.31h1M1242 987.64h2M1062 1016.47h1M1279 1075.19h2M1109 1000.62h2M838 1051.03h1M722 1023.93h2M737 1015.82h1M1298 975.43h2M1338 998.86h2M1252 1012.61h2M745 986.69h2M754 1045.43h1M797 1052.9h1M923 1030.42h1M791 987.77h2M1295 1049.14h2M759 1067.3h2M969 999.67h1M697 1018.37h2M853 1051.25h1M766 998.38h1M690 1038.78h1M833 985.53h2M722 1078.4h1M869 1010.17h2M1033 1058.41h1M1079 1039.62h1M1203 1004.34h2M878 981.79h2M781 1054.66h2M993 1000.3h2M946 1072.11h1M1150 1007.24h2M1087 1044.51h2M724 1013.7h1M1234 1057.28h1M864 1015.3h2M1175 1017.31h1M1010 1002.72h1M888 1051.16h1M765 1051.57h1M864 1022.32h1M907 1079.76h2M1341 1001.37h1M674 975.72h2M1191 1008.28h2M703 983.37h2M1220 1022.94h2M1344 1069.53h2M933 1042.67h2M1303 1053.52h2M1339 1068.37h1M1121 1013.66h1M679 1025.07h1M745 976.05h1M937 1007.33h1M765 1030.16h1M915 1066.08h2M1113 992.18h1M1106 986.32h1M862 1030.44h1M1034 1019.69h1M1199 1084.08h1M819 1052.99h1M1131 1012.19h1M809 994.81h1M1137 997.14h2M1249 991.78h2M693 1076.63h2M1162 1029.8h2M1023 1048.11h1M1072 1077.74h1M750 1059.66h1M788 1020h2M786 995.88h1M1204 1040.62h2M1348 1013.8h2M1275 1020.93h2M1325 1008.34h1M845 981.15h1M1020 1003.46h2M1275 1079.21h1M1108 1065.71h1M1308 1075.81h1M983 1034.65h1M868 1065.44h1M1125 1006.98h2M1186 998.04h1M814 1054.95h1M1086 1006.41h1M694 984.81h2M798 1022.38h1M719 1076.84h2M1305 1005.77h1M691 1032.12h1M990 1069.78h1M1315 984.21h1M1248 990.02h1M1273 1060.5h1M1244 1027.52h2M1225 1079.44h1M1112 976.85h1M1027 1008.45h1M1164 1043.72h2M1000 1007.78h1M720 1022.79h1M787 994.41h1M966 1047.15h1M1233 1018.01h1M1029 1001.21h2M1208 980.44h1M818 988.59h1M834 1038.85h2M1238 985.26h1M1343 1077.39h2M909 1040.68h1M801 1037.65h1M850 977.55h1M834 1073.68h1M796 1062.17h1M1176 1067.9h1M827 1070.43h2M938 1032.7h1M685 1036.73h1M1004 1053.88h1M907 1034.17h1M1072 1063.63h1M1288 1036.6h2M1156 1060.21h2M911 1049.59h1M1333 1053.39h2M1246 1077h2M682 1036.4h1M958 1025.29h1M1206 1058.43h2M795 979.19h1M873 985.05h1M1024 1043.59h1M946 1079.92h1M1208 1032.43h1M993 992.05h2M1262 1068.76h2M951 1054.75h2M1121 1083.59h1M860 1036h1M1010 998.14h1M1006 1036.33h1M905 1084.27h1M696 1064.91h1M1182 1068.49h1M946 1011.63h1M1252 1032.37h1M887 1067.49h1M1041 1008.37h1M766 1081.93h1M711 1018.44h1M1073 1075.33h1M924 1010.35h1M729 1041.85h1M1030 1074.56h2M949 1007.71h1M823 998.63h2M1151 1030.91h1M1250 1043.51h2M1207 1032.63h2M1171 1051.23h1M1066 1071.99h2M1198 1009.36h2M1327 1076.9h1M1125 980.06h1M1046 1008.88h1M985 1048.46h1M1350 1026.3h1M1213 1012.37h1M1340 1001.5h1M1118 1063.69h1M1130 984.93h1M941 978.48h2M1213 997.31h2M760 1050.81h1M964 1011.55h1M686 1008.69h1M1148 1064.44h1M1244 982.98h2M961 1041.29h1M709 976.41h1M949 1070.57h1M1307 1008.57h1M1221 1015.07h1M1266 1036.63h1M956 1065.92h1M1247 1031.17h1M1165 1030.42h1M1285 977.01h2M905 1052.91h1M1206 1050.08h1M903 1044.41h1M884 1067.83h2M1175 984.03h1M1080 1069.43h2M1295 1012.7h2M914 1079.14h1M1140 988.04h2M1211 1028.86h1M1073 1029.26h1M752 1023.63h2M1053 1019.76h1M1214 983.3h1M984 1062.04h1M790 977.81h2M1252 1052.59h1M1000 1081.38h1M958 1055.81h1M725 1057.18h1M1263 975.24h1M1070 995.05h1M818 1014.06h2M1122 1012.38h1M674 1050.38h1M771 1031.43h1M1339 1004.6h1M1181 1071.54h1M1267 992.13h2M1319 1051.7h2M1176 1074.46h1M833 998.92h2M1128 994.78h1M870 1003.95h1M1014 1081.01h2M1070 1003.17h2M1174 990.62h1M1089 987.83h2M694 985.81h1M1293 998.62h2M1192 1054.87h1M1040 1043.57h1M1136 1031.94h2M762 1082.07h2M1286 976.79h1M895 1037.41h2M1166 991.74h2M712 1002.23h1M1108 983.57h1M681 989.17h1M813 999.78h1M1232 991.96h2M1092 987.04h1M1248 1041.54h1M1194 982.23h1M859 1035.01h1M891 1016.46h1M962 1025.98h1M1171 1000.22h1M959 1083.69h2M852 983.2h1M1158 1019.2h2M1259 1065.48h1M936 1024.71h1M1027 1058.31h1M1342 1071.73h2M1005 1049.48h2M870 1052.3h1M1141 1035.9h1M1212 1031.42h1M1211 1028.24h1M1233 1062.05h2M1193 1072.76h1M1298 1072.79h2M718 1073.44h1M1142 981.07h1M723 1064.15h2M1022 998.46h2M789 1075.94h1M732 1071.11h1M1321 992.11h1M839 1022.35h1M942 1032.57h1M680 989.17h2M1004 990.06h1M741 979.56h1M924 1022.16h1M891 1022.48h1M845 1035.78h1M906 996.21h1M846 1037.8h1M1269 1009.76h2M880 1028.73h1M1000 1058.85h1M856 1017.52h2M807 1010.15h1M1346 1073.8h1M779 1038.18h1M1127 1078.85h1M1269 1018.82h1M898 1017.81h2M919 1027.88h1M863 1083.1h1M1336 1000.17h2M1324 1001.25h1M911 978.36h2M1206 1070.06h2M1067 1033.13h1M1180 999.64h1M1201 1038.4h1M1140 1039.04h1M1230 1016.16h2M680 1075.99h1M995 1079.74h1M1184 1026.27h1M742 1059.52h1M899 1065.12h2M804 1016.83h1M993 1059.5h2M848 1001.06h1M806 1059.47h1M1054 977.45h2M802 1084.67h2M1262 1044.48h1M1044 983.81h2M718 1002.92h2M819 1070.15h1M1263 1005.99h2M1228 1037.2h2M707 1039.07h2M980 1031.31h1M828 1046.67h2M1091 1037.92h1M1198 1003.91h1M928 1047.92h1M745 1035.95h2M863 1038h2M886 981.32h1M992 1032.88h1M966 989.28h2M933 1030.35h1M728 1024.54h2M1042 1009.9h1M1284 1007.79h1M800 1065.46h1M931 1013.25h1M1065 1021.89h2M1146 1056.01h1M1268 1030.12h1M726 1070.88h2M947 1051.91h2M948 1045.76h1M1087 1050.07h1M1326 992.97h1M1240 987.48h1M1063 1041h1M964 998h2M672 1035.47h2M974 1053.07h1M1323 977.38h1M1339 1076.22h1M856 1012.67h1M744 1049.45h2M997 1004.56h1M1153 987.44h1M986 1058.87h2M1050 1073.84h2M1204 988.09h1M1277 1031.65h1M1265 992.88h1M1301 1067.04h1M1064 1030.29h1M1135 1081.73h1M931 1010.5h2M954 984.7h1M1282 1005.84h2M926 1002.95h1M1222 1047.69h1M1331 984.53h1M859 982.49h1M1014 1001.92h2M778 1001.46h1M1079 982.11h2M1179 997.26h1M1323 1011.28h1M1030 1037.37h1M1001 999.3h1M1122 1042.02h2M1101 1036.03h1M1179 1022.85h2M944 1000.22h1M908 1026.6h2M1172 975.33h1M1321 1017.32h2M709 982.04h2M1262 1016.12h1M1089 1051.14h2M1292 1073.89h1M1002 1080.99h1M1226 1015.33h2M1276 1075.74h1M751 1051.38h1M809 984.57h1M1101 1026.89h2M1208 1080.71h1M1237 1051.34h1M945 988.14h2M1274 977.96h1M1149 996.56h1M814 1056.31h1M1161 984.4h1M1097 1005.39h2M1117 1026.22h2M1044 1011.56h1M1328 976.32h2M833 1051.83h1M784 976.52h2M812 1068.39h1M925 996.94h1M823 1049.25h1M723 1036.36h2M924 985.61h1M969 994.53h1M984 1017.53h2M751 1068.1h2M1026 1071.31h1M1011 1075.44h1M682 1049.49h2M841 1057.75h2M1227 994.93h1M996 1010.41h1M899 1076.24h1M960 1033.19h1M1174 984.44h1M990 990.5h2M673 1072.27h2M958 1031.31h2M713 1050.03h1M1175 1000.03h2M1267 1007.32h1M1132 1042.8h2M939 1024.8h1M1032 987.89h1M1183 1082.75h1M1136 1077.68h1M842 1043.83h1M704 989.21h1M1138 1046.91h1M841 1076.77h2M867 990.19h1M1136 1049.36h1M1038 1023.58h2M736 1073.4h1M762 1049.82h2M1224 1033.72h1M1250 990.14h2M878 1011.92h1M1290 1036.22h1M1132 1022.05h2M1249 988.69h2M919 990.56h1M1221 1034.24h1M836 1038.58h2M1121 1082.84h1M1280 1025.57h1M893 986.69h1M865 1031.97h1M1150 1020.51h1M870 1017.69h1M919 988.85h1M780 1015.61h1M804 1075.37h2M717 1082.55h1M679 1057.41h1M943 1004.45h2M1159 988.75h2M1183 1062.35h1M688 1025.53h2M678 980.07h2M1267 1007.01h1M926 1049.01h1M1289 1030.2h2M716 1023.06h1M673 1062.01h2M807 991.52h2M686 1009.79h1M1186 992.57h1M1070 1026.61h2M1093 1073.15h1M973 1024.86h2M1162 1001.63h2M1001 1052.04h2M1028 1003.04h2M1147 1031.23h2M801 1073.17h1M1293 1013.89h2M921 1006.01h2M1275 1054.3h1M684 1070.43h1M1180 975.6h2M963 1039.87h2M1159 1056.9h1M1350 984.74h1M1166 1017.84h2M1258 987.25h2M957 1002.2h1M1038 1028.13h1M923 1072.03h1M1133 1001.73h2M1089 1006.39h2M958 1018.6h2M801 1033.74h1M817 1073.14h1M788 1024.29h2M725 1028.34h2M827 990.43h2M843 1013.94h1M1123 1003.65h1M860 1015.02h1M916 1016.68h1M1011 986.16h1M1187 1066.97h1M1049 1005.05h1M994 1070.52h2M1048 1019.06h2M1092 1072.61h1M850 1083.91h1M746 986.05h2M780 1039.97h1M1290 975.57h1M876 1055.85h2M686 1037.56h2M912 1080.46h1M1213 1080.27h2M957 1061.37h1M801 1006.03h1M849 1062.53h1M1094 1071.66h2M868 977.14h2M958 985.18h1M839 1037.37h2M1118 992.87h2M899 989.24h1M671 1072.71h2M1076 1009.3h1M1168 1042.48h1M1114 1041.82h1M1215 1054.76h1M758 1065.94h2M1120 977.25h1M873 984.61h1M1248 983.42h2M1160 1024.56h1M908 1063.83h2M1105 1048.57h2M992 1002.38h1M1272 1018.24h1M1171 982.99h1M957 1025.35h1M711 1057.82h1M999 1046h1M917 1051.32h1M931 1073.1h1M1146 1041.48h1M1164 1028.57h2M1113 1011.81h2M886 1023.56h1M1338 1006.27h2M987 983.2h1M1016 1081.13h1M1178 1052.19h1M848 1079.73h1M682 1050.63h2M1283 1043.32h2M1251 1004.33h2M982 988.68h2M1335 1014.92h1M1350 1040.98h2M1220 1084.02h2M792 1028.84h2M791 1040.29h1M1139 993.99h1M902 1063.44h2M902 1007.09h1M931 1076.7h2M1327 1030.94h2M1317 1024h1M1316 1009.81h2M790 998.87h2M692 1034.07h2M708 1013.92h1M1182 994.82h2M1082 1002.87h1M917 1000.38h1M1323 992.39h1M1106 1022.76h2M1342 1012.45h1M721 1038.62h1M747 995.48h1M1160 980.65h2M1122 1029.06h1M785 1001.67h1M729 1045.86h2M1033 987.31h1M1146 1050.58h1M1192 990.8h2M869 1049.59h1M1067 1040h1M1030 1054.82h1M732 1075.2h1M1034 1008.67h1M1200 1016.24h2M1233 1002.86h1M805 1021.31h2M1262 1056.62h2M1078 988.27h2M916 1038.24h2M774 1058.93h2M973 985.49h1M998 1062.74h1M879 1056.04h1M1064 1050.1h1M1093 1023.88h1M684 1005.31h1M821 977.94h1M1303 1052.28h1M1324 1021.02h1M894 1044.05h1M831 995.51h1M822 1051.47h1M882 987.84h1M692 983.38h1M1001 978.48h1M1339 1057.34h1M879 986.84h2M1188 1044.48h1M773 1034.5h1M755 1053.55h1M1315 1027.25h1M1303 1058.28h2M932 992.35h1M700 998.43h1M1204 1076.9h2M697 1030.82h1M969 1042.78h2M952 1018.85h2M705 991.58h2M1330 993.52h1"/>
<path stroke="#06068e" stroke-width="1" fill="none" d="M900 1049.32v2M1000 1068.18v3M761 1055.21v3M851 977.35v5M1188 1002.18v2M1321 1010.29v3M843 1070.7v5M782 1049.86v3M676 1071.4v5M918 1044.17v2M911 1020.01v3M732 1036.32v5M729 1020.3v2M986 1034.22v3M930 1037.95v3M1080 1045.83v3M893 993.65v2M781 1044.18v5M916 984.67v2M873 1043.07v5M1339 1045.09v3M1025 1048.59v5M670 1027v3M1243 1050.7v5M1193 1066.81v5M699 984.39v5M721 1008.2v5M1243 1076.29v2M936 1044.63v5M1313 1028.42v3M698 992.05v3M836 1037.85v3M717 1029.83v5M1350 995.51v5M1064 1041.11v2M1254 1018.18v5M977 1052.21v5M722 1030.17v5M1099 980.81v5M1154 1032.61v3M1133 1022.34v3M870 1044.52v2M822 1055.58v3M1230 1042.73v3M676 1061.01v3M729 1009.98v3M1094 1074.64v3M1040 1042.76v2M1320 1060.05v3M1114 994.1v5M1193 1064.35v5M865 1069.36v2M853 996.07v2M798 1042.85v2M736 1010.76v2M871 1058.89v5M1171 1015.37v2M859 1064.42v2M1190 994.86v5M766 1000.63v2M679 990.78v2M942 1012.33v2M670 1084.05v2M840 1034.56v3M1248 1003.83v5M981 1077.1v5M1304 1040.63v3M1044 987.03v5M974 1074.53v5M1302 1084.28v5M1032 984.29v2M1324 1083.55v2M1041 1048.3v2M1220 1014.92v3M775 1065.65v5M712 981.82v5M1212 1023.99v2M968 1038.5v5M1147 1049.7v2M1332 1090.83v3M1333 997.72v3M696 1085.82v5M1158 1062.13v3M959 1079.78v5M669 1031.72v5M1124 1063.57v3M1032 991.81v5M803 994.07v5M847 1091.11v2M1032 1048.87v5M1123 996.31v2M1028 993.39v3M958 1008.82v2M1008 976.52v3M1224 1055.28v3M1188 1088.63v3M730 1045.56v3M974 1017.42v2M1252 1061.62v3M921 1065.73v3M1035 1091.93v3M806 1027.85v5M1149 1013.98v3M1226 999.33v3M972 1090.02v3M1302 975.74v5M1257 1026.4v5M1056 1031.26v3M1001 1030.55v2M1015 1050.11v5M1037 1026.29v5M738 1007.46v3M1307 1042.34v5M857 1018.71v2M1076 1024.35v3M997 1022.71v2M1055 1050.29v2M1338 1019.02v5M1002 1021.56v5M1150 1025.67v5M1161 984.75v5M1193 1060.21v2M1133 1050.68v3M1285 1091.57v2M939 1050.55v3M1189 979.44v2M1072 990.94v3M1045 1064.48v2M884 1065.95v3M1170 1018.44v5M1196 1087.65v5M894 1032.87v5M897 1053.93v2M1025 995.29v2M782 1038.91v2M1136 1078.32v2M1089 992.11v2M1198 1094.08v5M1024 1069.91v3M868 984.65v3M740 988.71v5M1007 996.55v2M773 976.97v5M1022 990.67v2M1117 1074.71v3M1278 986.3v5M980 1000.22v3M967 1067.11v3M669 1016.89v5M936 1021.89v5M1085 997.77v2M1182 996.19v3M1126 1005.65v3M743 1078.3v5M1303 1031.73v2M1296 1062.44v2M1138 1089.42v5M1158 1089.53v5M800 1025.16v2M671 1002.52v2M737 1089.26v3M1148 1066.01v5M1230 1030.17v2M821 1028.38v5M1136 979.55v2M1138 1055.76v5M1181 1090.64v2M957 987.56v3M1142 1093.13v3M1210 1011.02v3M769 1012.63v2M1114 1064.08v5M924 1060.24v5M673 1054.34v3M695 1044.17v3M1026 996.42v2M987 1060.19v3M958 1010.41v5M955 985.17v3M1090 1080.92v3M1111 1017.35v2M1130 978.17v3M1280 999.68v5M1265 1032.17v5M989 990.81v3M808 1031.84v3M1327 1027.53v5M684 1030.81v5M1320 1027.92v2M1130 1006.67v2M1334 1084.25v5M1272 1044.87v3M832 1026.69v3M871 1012.6v3M711 987.4v5M766 990.58v3M1088 994.46v2M1123 986.58v2M1034 985.18v5M1226 1055.64v5M1237 978.2v3M703 1089.45v5M1161 1051.89v3M1100 1071.49v5M1244 1075.36v5M970 1035.74v2M982 1084.31v3M1318 1061.85v3M1133 994.69v3M1325 987.12v3M1059 1056.92v5M1137 1081.13v3M1117 1020.84v3M1229 1065.45v5M1097 1034.38v3M792 975.37v3M1112 1007.35v5M738 1044.86v5M989 1069.33v3M1008 981.91v2M813 1053.48v3M1244 975.32v2M811 1049.48v5M828 1049.01v2M724 1038.43v2M1040 1066.02v3M1306 1022.66v3M1273 1018.88v5M1255 1039.88v2M831 989.5v2M884 1025.87v5M1006 995.89v2M1300 976.18v2M739 1059.26v5M878 1080.94v5M1281 1012.93v3M718 1010.73v5M840 1028.34v5M1237 1005.45v3M1217 1033.88v3M930 1055.42v5M1260 1068.01v5M1239 990.14v2M1081 1067.3v5M963 1080.38v3M1291 998.46v3M963 1043.18v5M1046 1064.59v3M922 1064.08v2M750 1036.17v3M1228 1060.94v2M1295 995.71v5M1098 975.42v5M865 986.51v2M1062 1015.87v2M979 1004.03v3M1199 1072.49v3M867 1069.68v2M808 1002.19v2M1187 1012.28v2M990 1053v3M988 1025.52v5M1179 1040.09v2M1040 977.14v2M783 1064.58v2M1320 1043.16v2M1100 1013.35v5M824 991.73v2M1084 1070.26v5M1006 1012.24v2M1220 1079.76v3M927 1008.68v3M1177 1047.55v2M1014 992.25v2M1186 997.35v3M748 1048.53v5M1091 1030.62v2M1258 1044.41v5M847 1056.93v5M1185 1054.43v3M1187 1078.24v3M1054 986.21v2M825 1077.68v3M871 1003.75v3M816 1086.05v2M1238 989.34v5M722 1047.16v2M1018 982.61v5M971 987.02v2M949 1072.31v5M1331 1007.8v3M996 1012.02v2M1225 1092.6v2M923 1090.47v2M970 1083.26v3M1346 1010.72v5M872 1077.76v5M688 1043.39v5M1297 1056.98v5M1168 987.73v5M1001 1005.03v2M878 1090.08v5M1349 1062.09v2M897 1059.82v3M1299 1006.31v3M961 992.82v5M712 983.74v5M799 1046.75v2M870 1068.2v5M1175 990.88v2M1253 1082.56v2M765 1083.39v3M896 1066.84v2M709 1080.72v3M887 1016.4v2M1328 1018.69v3M1024 976.49v2M1230 1002.01v2M688 1019.12v2M1128 1066.46v5M676 1048.11v5M722 1083.06v2M1266 977.63v5M1173 1048v2M942 993.83v2M825 1086.71v2M1281 1035.64v5M955 1011.91v5M1263 1037.16v5M1044 1088.11v3M1094 1084.88v5M773 1016.69v5M799 1087.88v2M1096 975.9v3M1164 1088.73v5M1001 988.86v5M901 1049.97v2M697 1054.49v5M840 1059.05v3M1151 1021.03v2M670 1011.01v2M1197 1045.21v2M979 1006.71v2M896 1067.77v3M1110 1027.78v5M1318 1012.55v3M966 1064.35v2M838 993.49v3M1067 1029.05v5M1033 1021.06v2M1002 1012.96v3M1252 991.19v3M1043 996.05v2M728 991.5v3M1182 1007.37v3M949 1051.08v2M793 1034.29v5M1072 980.55v2M692 998.06v3M1010 1052.28v2M687 1076.29v2M1007 1008.96v3M1027 983.03v5M963 1029.24v5M1130 978.46v2M1049 983.75v2M1053 979.92v5M1121 986.68v3M838 1086.99v2M1268 1014.36v2M1247 1040.1v2M819 1036.29v3M1225 1000.02v2M1067 1016.98v2M707 1029.79v2M747 981.54v5M1023 1003.11v2M812 1031.64v3M842 1019.16v3M1256 1014.75v2M888 975.35v3M1144 978.14v2M1188 1065.49v3M1208 1045v2M957 1070.96v2M1272 1090.15v5M873 1029.24v3M978 1081.13v5M834 1078.61v2M891 1048.66v5M1225 1066.61v5M873 983.81v3M820 989.68v5M911 993.26v3M1289 1053.21v3M1187 1017.55v2M1103 980.55v5M1232 1058.17v3M1309 999.62v5M697 978.25v5M1258 1058.05v3M957 1063.04v5M1211 1029.95v5M1252 995.47v2M1095 1081.82v2M814 1018.08v3M805 1085.83v2M880 993.91v3M877 1027.14v5M799 1069.99v2M1185 1033.84v3M716 1003.85v2M1341 1020.69v3M1202 997.77v5M1277 979.72v5M1256 1083.96v3M1212 1066.65v5M935 1093.73v3M877 1059.26v5M819 1012.53v2M1206 1051.78v3M870 1005.97v2M1002 1002.63v5M1250 1008.21v2M826 1011.8v2M1119 982.32v2M760 1056.85v2M1350 977.98v5M1288 1000.74v5M1011 1038.08v5M869 1067.91v3M1149 990.68v2M1043 1081.71v5M844 1067.54v2M972 1007.52v5M1208 1072.85v2M1211 1019v5M1212 1031.35v2M1200 1064.78v2M1314 1015.63v2M1215 1091.87v3M693 1043.2v3M943 1041.25v5M1225 1033.46v5M1212 1018.81v3M1213 1047.49v5M1133 1001.81v5M1061 1048.32v3M762 1041.83v5M977 995.6v2M1044 1026.5v2M1324 980.73v5M1029 1016v2M1333 1069.31v2M1325 1041.26v5M1180 1089.66v2M827 1015.05v5M1312 1084.38v5M1025 1032.24v3M1285 1029.31v2M1219 1081.18v2M963 1014.63v2M788 975.97v5M1060 1031.87v5M841 1093.54v3M1137 1042.99v2M936 1074.43v5M958 1029.4v5M1209 1022.59v5M1249 1043.81v5M1251 1044.08v3M926 1048.1v2M1262 985.94v2M1041 1064.92v5M969 1020.22v2M996 1020.92v3M677 1028.34v3M1006 1037.37v3M1049 1050.9v5M1168 1087.82v5M1188 1051.31v5M1122 1031.03v3M770 1066.56v2M949 1049.99v5M1083 1022.99v5M1169 1092.22v3M986 982.94v5M753 1068.35v2M1259 1087.37v3M1171 1063.47v3M773 1046.56v5M1052 1007.31v3M1122 1054.73v3M994 997.69v3M944 979.64v2M732 1004.61v2M684 997.87v3M732 992.16v2M1222 1068.68v5M924 1033.61v2"/>
</g>
<path d="M669 1122h133" stroke="#fff" stroke-width="1.4" fill="none"/>
<path d="M668 969.5H1353" stroke="#000030" stroke-width="1.1" fill="none"/>
<text transform="translate(233.2,1004.8) scale(1.06,1)" font-size="26" text-anchor="end" fill="#000" xml:space="preserve">10</text>
<text transform="translate(235,986.7) scale(1.04,1)" font-size="17.3" text-anchor="start" fill="#000" xml:space="preserve">-1</text>
<text transform="translate(233.2,1055.8) scale(1.06,1)" font-size="26" text-anchor="end" fill="#000" xml:space="preserve">10</text>
<text transform="translate(235,1037.7) scale(1.04,1)" font-size="17.3" text-anchor="start" fill="#000" xml:space="preserve">0</text>
<text transform="translate(233.2,1106.8) scale(1.06,1)" font-size="26" text-anchor="end" fill="#000" xml:space="preserve">10</text>
<text transform="translate(235,1088.7) scale(1.04,1)" font-size="17.3" text-anchor="start" fill="#000" xml:space="preserve">1</text>
<text transform="translate(184,1046) rotate(-90)" font-size="28" text-anchor="middle" fill="#000" xml:space="preserve">Wavelength (km)</text>
<defs><clipPath id="c3"><rect x="260.5" y="1133.5" width="1550" height="222"/></clipPath></defs>
<g id="map" clip-path="url(#c3)">
<defs><clipPath id="night"><path d="M681 1133.5 685.45 1148.3 690.15 1163.1 695.07 1177.9 700.21 1192.7 705.66 1207.5 711.11 1222.3 717.08 1237.1 727.88 1251.9 738.2 1266.7 743.31 1281.5 747.44 1296.3 752.68 1311.1 759.44 1325.9 767.14 1340.7 775.6 1355.5 1384.8 1355.5 1392.27 1340.7 1399.73 1325.9 1407.22 1311.1 1414.68 1296.3 1421.6 1281.5 1428.1 1266.7 1434.32 1251.9 1439.99 1237.1 1444.64 1222.3 1449.68 1207.5 1455.36 1192.7 1461.48 1177.9 1467.81 1163.1 1474.2 1148.3 1480.7 1133.5Z"/></clipPath></defs>
<path d="M681 1133.5 685.45 1148.3 690.15 1163.1 695.07 1177.9 700.21 1192.7 705.66 1207.5 711.11 1222.3 717.08 1237.1 727.88 1251.9 738.2 1266.7 743.31 1281.5 747.44 1296.3 752.68 1311.1 759.44 1325.9 767.14 1340.7 775.6 1355.5 1384.8 1355.5 1392.27 1340.7 1399.73 1325.9 1407.22 1311.1 1414.68 1296.3 1421.6 1281.5 1428.1 1266.7 1434.32 1251.9 1439.99 1237.1 1444.64 1222.3 1449.68 1207.5 1455.36 1192.7 1461.48 1177.9 1467.81 1163.1 1474.2 1148.3 1480.7 1133.5Z" fill="#6c6c6c"/>
<path d="M726 1133.5 731.58 1148.3 737.48 1163.1 743.77 1177.9 750.21 1192.7 756.54 1207.5 762.54 1222.3 768.3 1237.1 774.13 1251.9 780.34 1266.7 787.04 1281.5 794.09 1296.3 801.37 1311.1 808.77 1325.9 816.42 1340.7 824.3 1355.5 1331.4 1355.5 1338.8 1340.7 1346.7 1325.9 1355.15 1311.1 1364.16 1296.3 1372.61 1281.5 1380.66 1266.7 1388.36 1251.9 1395.5 1237.1 1401.85 1222.3 1407.78 1207.5 1413.41 1192.7 1418.81 1177.9 1424.01 1163.1 1428.66 1148.3 1432.8 1133.5Z" fill="#505050"/>
<path d="M787.8 1133.5 791.16 1148.3 795.45 1163.1 800.41 1177.9 806.13 1192.7 813.12 1207.5 820.29 1222.3 827.83 1237.1 835.77 1251.9 844.2 1266.7 853.31 1281.5 862.78 1296.3 872.61 1311.1 881.98 1325.9 890.89 1340.7 899.4 1355.5 1288.7 1355.5 1298.75 1340.7 1308.17 1325.9 1316.87 1311.1 1325.08 1296.3 1333.44 1281.5 1341.5 1266.7 1348.34 1251.9 1354.79 1237.1 1361.64 1222.3 1367.83 1207.5 1372.92 1192.7 1378.47 1177.9 1384.28 1163.1 1388.08 1148.3 1393.6 1133.5Z" fill="#343434"/>
<path d="M277.85 1179.5H1795.5M277.85 1244.5H1795.5M277.85 1309.5H1795.5M439.5 1151.85V1340.5M723.5 1151.85V1340.5M904.5 1151.85V1340.5M1085.5 1151.85V1340.5M1267.5 1151.85V1340.5M1448.5 1151.85V1340.5M1629.5 1151.85V1340.5" fill="none" stroke="#000" stroke-width="1.1" stroke-dasharray="1.1 3.9"/>
<path d="M705.4 1176.8 707.28 1182.41 713.2 1182.47 708.44 1185.99 710.22 1191.63 705.4 1188.2 700.58 1191.63 702.36 1185.99 697.6 1182.47 703.52 1182.41ZM803.3 1194.8 805.18 1200.41 811.1 1200.47 806.34 1203.99 808.12 1209.63 803.3 1206.2 798.48 1209.63 800.26 1203.99 795.5 1200.47 801.42 1200.41ZM954.3 1226.6 956.18 1232.21 962.1 1232.27 957.34 1235.79 959.12 1241.43 954.3 1238 949.48 1241.43 951.26 1235.79 946.5 1232.27 952.42 1232.21ZM1301 1288.8 1302.88 1294.41 1308.8 1294.47 1304.04 1297.99 1305.82 1303.63 1301 1300.2 1296.18 1303.63 1297.96 1297.99 1293.2 1294.47 1299.12 1294.41ZM1440.5 1245.8 1442.38 1251.41 1448.3 1251.47 1443.54 1254.99 1445.32 1260.63 1440.5 1257.2 1435.68 1260.63 1437.46 1254.99 1432.7 1251.47 1438.62 1251.41Z" fill="none" stroke="#e614e6" stroke-width="1.05"/>
<g id="coast">
<path d="M302.08 1133.65 302.62 1135.68 304.38 1137.85 308.44 1137.03 313.44 1137.58 317.23 1136.09 318.31 1133.65M324.67 1133.65 328.05 1136.09 332.79 1138.12 336.17 1140.15 338.87 1142.85 340.5 1145.56 338.2 1148.94 336.17 1151.65 333.46 1154.35 332.11 1157.06 331.43 1160.44 328.73 1161.79 326.02 1164.5 322.64 1165.85 320.61 1167.88 318.58 1169.91 314.52 1170.58 310.47 1172.61 307.08 1174.64 305.73 1176.67 301 1178.02 295.58 1180.05 291.53 1182.08 286.79 1184.79 282.06 1186.14 278.67 1186.14 275.29 1188.17 271.23 1189.52 269.2 1190.2 268.53 1188.17 267.45 1182.76 266.5 1176 265.15 1170.58 262.44 1166.53 260.41 1164.09M260.41 1181.14 263.12 1184.11 265.82 1187.49 267.85 1192.23 268.53 1194.94 271.91 1198.32 275.29 1200.08 276.65 1198.32 280.03 1196.96 284.09 1196.56 288.82 1195.61 294.23 1194.66 298.97 1193.58 300.32 1191.96 302.35 1192.91 303.43 1194.94 302.62 1198.32 301.67 1201.7 301 1204.4 298.97 1207.79 296.26 1211.17 294.91 1214.55 294.23 1218.61 291.53 1222.67 288.82 1226.05 285.44 1230.11 282.06 1233.49 278 1236.87 273.94 1240.25 269.88 1244.31 265.82 1247.69 262.44 1251.08 260.41 1253.11M369.31 1133.65 371.34 1136.09 374.72 1139.47 377.43 1142.18 380.81 1142.85 384.87 1143.53 384.19 1144.88 380.14 1144.88 379.46 1146.91 382.16 1150.29 385.55 1152.32 388.25 1153 390.96 1151.65 392.99 1148.94 393.66 1146.23 394.34 1150.29 395.02 1157.06 396.37 1163.82 397.72 1170.58 400.43 1176 403.13 1182.08 405.84 1188.85 409.22 1196.29 411.93 1203.73 413.96 1208.46 417.34 1208.46 419.37 1205.08 422.07 1202.38 424.78 1199.67 426.13 1196.29 426.81 1190.88 427.48 1186.82 426.81 1181.41 426.81 1177.35 429.51 1174.64 434.92 1171.94 437.63 1169.23 443.04 1164.5 448.45 1159.76 453.86 1155.7 456.57 1151.65 459.27 1148.94 461.98 1146.91 466.04 1148.26 470.1 1146.91 474.16 1144.88 476.19 1143.53 478.21 1148.94 480.24 1153 483.63 1156.38 485.65 1159.09 487.68 1162.47 488.36 1167.88 489.04 1173.29 491.07 1175.32 495.8 1173.29 499.86 1170.58 502.56 1171.94 503.92 1176 505 1181.41M426.13 1201.02 428.84 1202.38 430.87 1205.76 432.9 1209.82 434.92 1213.87 434.25 1216.58 430.87 1218.61 427.48 1219.29 425.73 1217.26 424.78 1213.87 424.78 1209.14 425.18 1204.4ZM271.23 1355.51 269.88 1350.51 268.53 1345.1 267.85 1341.04 270.56 1336.98 272.59 1332.92 273.94 1328.86 272.59 1324.81 271.91 1320.75 270.96 1318.04 272.59 1315.34 276.65 1313.31 281.38 1311.28 284.09 1308.57 286.79 1304.51 288.82 1301.81 291.53 1299.78 292.88 1297.07 294.91 1296.67 296.26 1298.43 296.94 1301.13 298.29 1304.51 298.56 1308.57 299.64 1311.95 298.02 1313.98 296.26 1316.69 295.58 1322.1 294.91 1327.51 292.88 1332.92 290.85 1339.69 288.82 1346.45 286.79 1351.86 285.44 1355.51M495 1173.02 499.06 1170.85 501.49 1171.26 502.85 1176 504.2 1182.08 505.15 1188.17 506.09 1194.94 506.09 1200.35 505.55 1203.73 506.9 1206.03 508.53 1208.46 511.23 1212.79 513.67 1218.61 515.02 1224.02 517.32 1229.84 520.7 1234.84 524.76 1237.95 528.14 1239.31 529.63 1237.55 528.82 1230.78 527.2 1223.61 522.73 1218.2 517.32 1212.79 512.32 1206.84 509.34 1203.73 509.88 1198.99 511.23 1193.58 512.59 1188.44 515.29 1186.14 518.67 1188.17 522.06 1191.55 525.44 1196.29 528.82 1199.67 532.2 1202.38 534.23 1205.08 535.58 1203.05 538.29 1200.35 541.67 1198.99 543.02 1196.29 547.08 1194.94 550.47 1192.91 552.49 1189.52 552.9 1184.11 551.82 1179.38 549.11 1174.64 545.05 1169.91 541.67 1165.85 538.97 1162.47 537.21 1159.09 538.02 1155.7 541 1153 543.7 1150.29 547.08 1148.26 550.47 1147.32 553.17 1148.94 555.2 1151.37 557.23 1150.29 559.94 1148.94 563.99 1147.32 567.38 1145.56 570.76 1143.53 576.17 1142.85 581.58 1140.82 584.96 1138.79 587.67 1136.49 590.37 1134.73 593.76 1133.65M549.79 1159.09 551.82 1156.38 555.2 1154.35 558.58 1154.35 560.61 1156.38 559.94 1160.44 557.91 1163.14 554.52 1164.5 551.14 1163.14ZM603.23 1134.06 606.61 1135.41 607.28 1139.47 605.25 1144.2 602.95 1147.32 600.52 1144.88 598.9 1140.82 599.84 1136.76ZM495 1218.2 499.06 1220.37 503.12 1223.61 507.18 1226.86 511.23 1230.78 515.29 1234.44 520.03 1238.5 524.09 1242.55 527.47 1246.61 530.85 1250.4 534.23 1252.43 537.61 1251.35 539.37 1255.14 538.56 1259.87 538.02 1265.28 537.61 1270.02 533.56 1269.34 528.82 1266.63 524.76 1262.58 520.7 1258.52 516.65 1254.46 513.26 1249.05 509.88 1243.64 506.5 1238.23 503.12 1232.81 499.06 1227.67 495 1223.61M545.32 1255.81 547.49 1254.73 549.38 1256.49 548.03 1258.52 545.73 1257.98ZM551.82 1236.87 554.52 1234.84 558.58 1234.17 561.29 1231.46 565.35 1230.11 569.4 1226.73 572.79 1223.34 576.17 1220.64 579.55 1217.93 582.93 1215.9 586.99 1214.55 589.7 1216.58 591.73 1219.29 595.78 1221.99 593.08 1223.34 590.37 1226.05 589.02 1230.11 590.37 1234.17 591.73 1238.23 594.43 1239.58 592.4 1241.61 589.7 1244.99 586.99 1249.05 584.29 1252.43 583.61 1256.49 580.23 1258.52 577.52 1261.22 574.82 1259.87 570.76 1257.84 566.7 1257.84 562.64 1256.49 558.58 1257.16 556.55 1253.78 555.2 1249.72 552.49 1246.34 551.14 1241.61ZM570.08 1355.51 569.4 1351.86 572.11 1349.16 572.79 1344.42 576.17 1341.04 580.23 1337.66 584.29 1334.95 589.7 1333.6 595.11 1332.25 600.52 1330.22 604.58 1328.86 607.28 1325.48 607.96 1320.75 611.34 1317.36 614.05 1319.39 615.4 1315.34 618.78 1312.63 622.16 1308.57 625.55 1305.87 629.6 1305.19 632.99 1307.22 635.02 1310.6 638.4 1309.25 640.43 1309.92 639.75 1306.54 641.78 1303.84 643.81 1300.45 645.84 1297.07 643.13 1295.72 642.46 1294.37 645.84 1293.69 648.54 1295.04 650.57 1293.96 655.31 1294.37 659.37 1295.72 664.1 1296.4 668.84 1297.07 672.22 1298.43 670.87 1301.13 668.16 1302.48 667.48 1305.87 666.13 1309.25 668.84 1311.95 672.9 1313.98 677.63 1316.69 682.36 1319.39 685.75 1322.78 688.45 1319.39 690.48 1314.66 691.83 1309.25 692.51 1303.84 693.19 1298.43 693.86 1293.69 695.22 1290.98 697.25 1292.34 698.6 1297.75 700.63 1303.16 704.01 1307.9 707.39 1312.63 710.1 1318.04 712.13 1323.45 715.51 1328.19 719.57 1332.25 723.63 1336.98 727.01 1341.04 730.39 1345.1 733.1 1349.83 737.15 1353.21 738.51 1355.51M1149.51 1133.65 1154.92 1138.12 1159.66 1143.53 1161.69 1140.82 1157.63 1136.09 1154.92 1133.65M1165.75 1133.65 1169.81 1138.12 1173.86 1142.85 1177.92 1147.59 1179.27 1151.65 1177.25 1155.03 1179.27 1158.41 1184.01 1161.79 1190.1 1165.17 1196.86 1168.56 1203.63 1171.26 1210.39 1173.97 1217.15 1176 1221.21 1173.97 1225 1172.21M1212.42 1133.65 1211.07 1138.12 1211.74 1144.88 1214.45 1151.65 1217.83 1157.06 1221.21 1161.11 1225 1163.41M1215 1176 1219.06 1173.97 1223.12 1172.61 1227.18 1174.64 1232.59 1178.7 1238 1182.08 1243.41 1184.79 1248.82 1186.82 1253.56 1190.2 1258.29 1193.58 1261.67 1197.64 1264.38 1201.02 1267.76 1202.38 1271.82 1205.76 1275.88 1209.14 1279.94 1211.17 1283.32 1213.2 1286.02 1211.17 1288.05 1207.79 1290.08 1205.76 1292.79 1203.73 1296.17 1207.11 1298.2 1211.17 1299.55 1216.58 1299.55 1221.99 1298.87 1227.4 1296.85 1231.46 1293.46 1234.84 1290.76 1238.23 1288.73 1242.28 1286.7 1246.34 1284.67 1248.37 1285.35 1251.75 1286.7 1254.46 1283.99 1258.52 1281.96 1262.58 1281.29 1266.63 1282.64 1270.69 1285.35 1274.75 1288.73 1278.81 1291.43 1282.87 1294.14 1286.93 1296.17 1290.98 1298.87 1295.04 1301.58 1299.1 1303.61 1303.16 1305.64 1305.87 1309.7 1309.92 1315.11 1313.98 1320.52 1317.36 1324.58 1320.75 1327.28 1324.81 1329.31 1330.22 1329.99 1335.63 1329.31 1341.04 1328.64 1346.45 1327.96 1351.86 1327.96 1355.51M1215 1154.35 1217.71 1159.09 1221.76 1162.47 1227.18 1163.82 1232.59 1162.47 1238 1160.44 1241.38 1156.38 1242.73 1151.65 1245.44 1148.94 1250.17 1148.67 1254.91 1148.67 1258.97 1148.94 1256.94 1153.67 1254.91 1158.41 1252.88 1162.47 1251.53 1166.53 1250.17 1170.58 1248.82 1173.29 1252.2 1174.64 1256.94 1175.32 1262.35 1175.32 1267.76 1176 1271.82 1178.02 1273.85 1182.08 1272.49 1186.82 1271.14 1191.55 1271.82 1196.29 1274.52 1199.67 1278.58 1202.38 1282.64 1205.08 1286.7 1205.76 1290.08 1203.73 1293.46 1203.05 1296.85 1205.08 1299.55 1207.79 1301.58 1209.82 1303.61 1206.43 1304.96 1201.7 1306.99 1197.64 1311.05 1196.29 1315.11 1194.94 1319.17 1192.91 1322.55 1190.2 1325.25 1189.52 1327.96 1191.55 1331.34 1190.88 1334.72 1191.55 1336.75 1194.26 1339.46 1196.29 1344.87 1196.96 1350.28 1197.64 1354.34 1199.67 1358.4 1198.32 1363.13 1197.64 1367.87 1196.96 1369.22 1200.35 1369.22 1204.4 1372.6 1207.11 1376.66 1209.82 1380.04 1213.2 1384.1 1216.58 1388.84 1218.61 1393.57 1217.93 1398.31 1219.29 1403.04 1221.31 1407.1 1224.02 1411.16 1227.4 1413.86 1231.46 1415.22 1235.52 1417.92 1236.87 1417.92 1240.93 1415.22 1244.99 1411.83 1246.34 1411.16 1249.72 1414.54 1248.37 1415.22 1246.34 1419.27 1245.67 1423.33 1246.34 1424.01 1249.05 1426.04 1247.02 1430.1 1247.69 1434.16 1249.05 1439.57 1251.75 1443.63 1255.14 1450.39 1255.81 1457.15 1255.81 1461.89 1257.84 1465 1259.87M1430.1 1355.51 1432.8 1351.86 1438.21 1349.16 1443.63 1346.45 1447.68 1345.1 1451.74 1343.74 1455.12 1341.04M1329.31 1355.51 1430.1 1247.97M1455 1256.49 1459.06 1255.81 1463.12 1257.84 1467.18 1261.22 1471.23 1264.6 1475.29 1266.63 1479.35 1266.63 1481.38 1269.34 1482.73 1274.07 1482.06 1278.81 1480.7 1284.22 1478.67 1287.6 1475.29 1290.98 1471.91 1294.37 1469.2 1297.75 1466.5 1301.13 1463.79 1304.51 1463.79 1309.92 1464.47 1316.69 1464.47 1322.1 1462.44 1326.83 1461.09 1331.57 1459.06 1335.63 1456.35 1339.01 1455 1341.04M1567.96 1133.65 1565.25 1136.76 1562.55 1141.5 1559.84 1146.91 1558.49 1151.65 1561.2 1155.7 1562.55 1161.11 1561.87 1167.88 1560.52 1174.64 1558.49 1179.38 1557.14 1181.41 1559.84 1184.11 1560.52 1189.52 1563.23 1193.58 1566.61 1196.96 1569.99 1200.35 1573.37 1203.73 1575.4 1208.46 1578.11 1211.85 1582.16 1215.23 1586.9 1219.29 1591.63 1223.34M1592.18 1223.34 1598.94 1226.73 1601.65 1224.7 1607.06 1223.07 1613.82 1220.91 1616.53 1222.67 1623.29 1223.61 1628.7 1220.91 1634.11 1218.61 1639.52 1216.58 1644.94 1215.63 1650.35 1215.9 1653.05 1218.61 1654.4 1222.67 1657.11 1225.37 1662.52 1225.37 1667.93 1224.7 1670.64 1225.37 1673.34 1228.76 1675.37 1232.14 1673.34 1236.87 1672.67 1242.28 1670.64 1246.34 1669.96 1250.4 1672.67 1254.46 1676.73 1257.84 1680.78 1262.58 1684.17 1267.31 1686.2 1272.72 1688.23 1277.46 1689.58 1282.87 1691.61 1288.28 1692.28 1293.01 1690.25 1297.75 1686.87 1300.73 1685.52 1305.87 1684.17 1311.28 1682.81 1316.69 1682.14 1321.42 1684.17 1326.16 1687.55 1331.57 1690.25 1336.98 1692.96 1342.39 1695.67 1346.45 1695.67 1351.86 1695.67 1355.51M1782.25 1133.65 1784.27 1137.44 1785.63 1142.18 1790.36 1145.56 1793.07 1150.29 1793.74 1155.7 1793.07 1161.11 1797.13 1163.82 1799.83 1167.88 1801.19 1173.29 1805.24 1177.35 1809.3 1179.38 1810.65 1180.05M1793.74 1133.65 1797.8 1138.12 1800.51 1142.85 1801.19 1148.94 1801.86 1153.67 1805.92 1156.38 1809.3 1159.09 1810.65 1161.11M1810.65 1253.78 1805.24 1254.46 1803.21 1259.87 1801.19 1265.28 1799.16 1270.02 1802.54 1273.4 1803.21 1278.81 1802.54 1283.54 1805.24 1287.6 1809.3 1289.63 1807.27 1292.34 1807.27 1305.87 1808.63 1309.92 1810.65 1311.28 1805.92 1315.34 1801.86 1318.72 1796.45 1320.07 1792.39 1322.1 1789.01 1326.16 1784.95 1330.22 1781.57 1332.92 1783.6 1336.98 1784.95 1342.39 1786.3 1347.8 1785.63 1351.86 1783.6 1355.51M1768.72 1255.81 1769.39 1247.69 1771.42 1243.64 1775.48 1242.28 1779.54 1243.37 1780.22 1246.34 1778.19 1251.08 1776.16 1255.14 1772.1 1256.08ZM1688.9 1182.76 1692.28 1182.49 1695.67 1184.11 1698.37 1186.82 1694.99 1189.52 1692.28 1190.2 1690.25 1186.14Z" fill="none" stroke="#000" stroke-width="2" stroke-linejoin="round"/>
<path d="M311.14 1189.93 313.17 1188.71 316.55 1188.98 317.91 1190.2 315.88 1191.42 312.49 1191.28ZM480.65 1186.82 483.08 1186.14 483.63 1189.52 482.81 1193.31 480.65 1193.58 480.38 1190.2ZM319.26 1338.33 321.29 1335.36 323.32 1338.33ZM328.19 1332.38 330.62 1332.38 330.62 1334.55 328.19 1334.55ZM500.41 1237.55 502.44 1236.87 504.47 1239.58 503.39 1241.2 501.09 1239.85ZM506.5 1248.37 508.26 1247.69 509.88 1251.08 508.53 1252.84 506.9 1251.08ZM535.58 1251.48 538.97 1252.43 541.67 1255.81 540.32 1257.44 537.21 1255.14ZM606.44 1213.37 609.22 1213.37 609.22 1215.35 606.44 1215.35ZM664.41 1246.32 667.59 1245.92 669.57 1248.7 667.59 1250.29 665.2 1249.1ZM645.75 1277.29 648.13 1274.91 649.48 1276.5 647.34 1279.04ZM712.85 1252.28 716.03 1252.28 716.03 1253.86 712.85 1253.86ZM758 1278.81 762.06 1279.89 761.79 1281.52 758.27 1280.43ZM764.09 1276.78 769.5 1278.81 769.09 1280.84 764.49 1278.81ZM850.67 1317.36 854.05 1315.61 857.43 1314.25 857.84 1316.01 854.05 1317.77ZM886.52 1301.81 890.57 1302.48 894.63 1304.51 893.96 1305.87 889.22 1304.78 886.24 1303.43ZM941.3 1146.91 944.01 1145.15 947.39 1145.96 946.04 1148.26 942.66 1148.67ZM950.1 1148.94 954.16 1148.67 957.54 1151.37 955.51 1152.46 951.45 1150.97ZM956.86 1151.65 960.92 1152.32 962.95 1155.03 960.24 1155.43ZM987.18 1320.48 989.88 1320.75 989.61 1323.72ZM1365.16 1172.61 1367.87 1171.94 1368.54 1174.64 1365.84 1175.32ZM1238.27 1244.72 1240.43 1244.04 1241.79 1248.37 1240.03 1249.72 1238.27 1247.69Z" fill="#000" stroke="#000" stroke-width="2" stroke-linejoin="round"/>
<path d="M536.26 1270.69 541 1269.34 546.41 1270.69 551.82 1271.37 557.23 1272.05 562.64 1272.72 568.05 1274.07 573.46 1276.78 576.17 1278.81 574.82 1281.52 570.76 1282.19 565.35 1280.84 559.94 1279.49 554.52 1278.13 549.11 1276.78 543.7 1275.43 538.97 1274.07ZM577.52 1279.49 584.29 1278.81 592.4 1279.49 600.52 1278.81 608.64 1279.49 615.4 1279.49 615.4 1281.52 608.64 1281.52 600.52 1281.79 592.4 1282.19 584.29 1281.52 577.52 1281.52ZM606.84 1193.91 611.21 1193.12 614.38 1196.29 612.79 1199.47 608.82 1202.65 608.03 1198.68ZM615.57 1213.76 616.76 1217.73 622.32 1220.27 624.7 1217.73 627.72 1215.35 626.45 1212.97M598.5 1240.36 604.06 1238.38 611.21 1238.38 616.76 1237.59 619.94 1236 622.32 1237.98 619.94 1240.76 615.18 1241.95 608.82 1242.35 603.26 1242.75 600.09 1243.94 600.09 1247.11 602.07 1249.5 604.85 1248.31 608.82 1247.11 612.79 1246.32 614.38 1247.11 611.21 1247.91 608.03 1249.5 605.65 1251.48 607.23 1254.26 608.82 1257.44 610.41 1261.41 612.79 1264.58 612.4 1266.97 609.62 1269.35 607.63 1266.17 605.65 1262.2 603.66 1258.23 602.07 1255.06 601.68 1256.64 600.09 1260.61 600.48 1265.38 599.69 1269.35 595.72 1267.76 596.91 1264.58 596.91 1260.61 594.53 1259.03 592.54 1256.64 594.93 1255.06 595.32 1250.29 596.12 1244.73ZM630.66 1235.2 633.44 1234.41 636.62 1237.59 635.82 1242.35 634.63 1246.32 635.42 1248.7 634.23 1251.09 630.26 1250.69 632.25 1248.7 632.65 1245.53 630.66 1242.35 629.47 1239.17ZM1294.82 1134.73 1297.52 1138.12M1305.64 1135.41 1308.34 1139.47 1311.05 1142.85M1315.11 1146.23 1317.81 1150.29M1321.2 1146.91 1323.23 1148.94" fill="none" stroke="#000" stroke-width="2.6" stroke-linejoin="round"/>
<path d="M594.43 1284.9 599.17 1284.22 603.23 1286.93 600.52 1288.55 595.78 1287.6ZM613.37 1288.28 616.75 1285.57 622.16 1282.87 626.9 1280.84 628.25 1282.19 624.87 1284.9 619.46 1287.6 614.72 1290.31ZM617.43 1278.81 622.16 1277.46 626.9 1275.43 629.6 1276.78 628.25 1279.49 623.52 1280.16ZM601.28 1162.54 608.82 1162.54 610.41 1169.29 608.82 1174.06 605.25 1178.03 607.23 1181.21 609.62 1181.21 614.38 1184.38 618.35 1189.15 623.12 1189.94 623.91 1195.5 622.32 1197.09 619.15 1193.12 615.18 1189.15 611.21 1185.97 608.03 1185.18 606.04 1189.15 604.46 1191.53 602.07 1188.35 600.88 1182.79 598.5 1178.82 597.71 1174.06 599.69 1167.71ZM619.15 1197.88 622.32 1199.47 623.12 1203.44 620.73 1202.65ZM617.95 1251.88 621.53 1251.88M623.51 1259.03 626.69 1256.64 630.26 1258.23 629.47 1260.61 626.29 1261.01ZM632.65 1257.44 635.82 1255.45 640.59 1255.45 644.56 1256.64 645.75 1261.41 642.17 1260.61 639 1259.42 635.82 1259.82ZM642.17 1244.73 646.15 1244.34 649.32 1247.11 652.5 1244.73 655.67 1244.73 659.25 1247.51 660.44 1250.69 662.42 1254.26 663.62 1257.44 666 1257.44 667.98 1254.26 670.76 1251.48 674.73 1250.29 678.7 1250.69 684.26 1253.07 689.82 1255.45 696.17 1257.44 701.73 1259.03 706.5 1261.81 708.88 1265.38 711.26 1267.76 716.03 1269.35 721.58 1270.14 727.14 1268.56 731.91 1266.17 734.29 1263.79M642.17 1244.73 644.16 1247.51 647.73 1251.09 650.12 1255.06 652.5 1258.23 654.88 1259.82 658.85 1260.61 662.82 1262.2 666.79 1263.39 670.76 1264.58 673.94 1266.17 676.32 1268.56 677.91 1271.73 679.5 1274.91 676.32 1277.29 674.73 1280.07 678.7 1279.67 682.67 1278.88 685.85 1280.47 688.23 1282.85 691.41 1284.44 696.17 1285.23 699.35 1282.85 701.73 1278.88 704.11 1276.5 707.29 1277.29 710.47 1279.67 713.64 1282.85 716.82 1286.03 720 1289.2M658.45 1269.35 660.84 1267.36 662.66 1270.14 661.23 1274.11 658.85 1273.72ZM733.77 1257.16 737.15 1255.81 740.54 1258.52 742.29 1263.25 739.86 1265.28 736.48 1263.25 734.45 1260.55ZM704.01 1276.1 707.39 1276.78 710.77 1278.81M735 1257.84 738.38 1258.52 741.09 1263.25 738.38 1265.28 735 1263.93ZM788.44 1333.6 791.82 1332.92 798.58 1338.33 802.64 1343.07 801.02 1344.15 794.52 1341.04 789.11 1336.3ZM844.85 1320.75 847.96 1319.12 851.07 1321.02 849.99 1324.26 846.61 1324.81ZM959.57 1156.38 963.63 1155.03 967.01 1157.73 965.65 1161.39 962.27 1162.47 959.3 1159.76ZM1267.08 1147.59 1270.47 1143.53 1275.88 1141.5 1282.64 1140.82 1288.73 1142.85 1294.82 1146.23 1300.23 1150.29 1305.64 1153.67 1309.7 1155.03 1311.73 1157.06 1306.99 1157.73 1301.58 1156.38 1297.52 1153.67 1292.79 1150.29 1288.05 1148.26 1282.64 1146.91 1277.91 1144.88 1274.52 1146.23 1271.14 1148.26ZM1317.14 1156.38 1321.87 1155.03 1327.28 1156.38 1332.02 1158.41 1335.4 1160.44 1333.37 1163.14 1329.31 1163.82 1325.93 1165.17 1323.23 1167.2 1319.17 1165.17 1315.11 1163.82 1312.4 1163.14 1316.46 1161.79 1319.17 1159.76ZM1294.82 1163.14 1298.87 1161.79 1303.61 1163.14 1304.29 1165.85 1299.55 1167.2 1295.49 1165.85ZM1341.49 1163.14 1345.55 1162.2 1349.6 1163.14 1349.6 1165.85 1344.87 1166.8 1341.49 1165.44ZM1279.94 1136.09 1282.64 1133.65" fill="none" stroke="#000" stroke-width="2.4" stroke-linejoin="round"/>
<path d="M614.38 1199.47 617.56 1196.29 620.73 1194.7 623.91 1197.09 624.7 1201.06 626.29 1205.03 624.7 1207.01 621.53 1204.23 619.15 1206.62 615.97 1205.82 612 1206.62 611.21 1203.44 614.38 1202.65Z" fill="none" stroke="#000" stroke-width="2.8" stroke-linejoin="round"/>
<path d="M586.59 1206.62 597.71 1196.29" fill="none" stroke="#000" stroke-width="3.4" stroke-linejoin="round"/>
<path d="M648.53 1248.7 652.5 1252.28 656.47 1254.26 658.85 1253.86 657.26 1251.09 654.09 1249.5M710.77 1278.81 713.48 1281.52 716.19 1284.9 718.89 1287.6 722.95 1286.93 726.33 1287.6 729.71 1288.96 731.07 1290.98 728.36 1291.66 724.98 1289.63 722.27 1285.57 718.89 1281.52 715.51 1277.46 714.83 1274.07 718.21 1272.05 723.63 1270.96 729.04 1269.61 733.77 1267.31 736.48 1264.6M1323.23 1191.55 1324.58 1195.61 1323.23 1200.35 1323.9 1205.08 1325.93 1205.76 1327.28 1200.35 1327.01 1194.94 1327.55 1191.96" fill="none" stroke="#000" stroke-width="2.2" stroke-linejoin="round"/>
<path d="M747.85 1267.99 751.23 1270.02 751.91 1273.4 749.2 1273.67 747.45 1270.69ZM752.59 1273.4 759.35 1275.83 760.03 1277.73 753.94 1275.83ZM767.47 1284.22 772.2 1283.54 774.23 1286.93 769.5 1288.01ZM772.88 1280.16 776.26 1281.52 778.97 1286.93 781.67 1291.66 779.64 1292.34 775.58 1287.6ZM799.66 1308.57 801.96 1309.25 805.35 1316.69 803.72 1317.77 800.21 1311.95Z" fill="#000" stroke="#000" stroke-width="2.4" stroke-linejoin="round"/>
<path d="M1368.54 1179.38 1370.57 1180.73" fill="none" stroke="#000" stroke-width="3" stroke-linejoin="round"/>
<path d="M1757.22 1258.52 1758.57 1263.93 1760.6 1270.69 1763.31 1276.1 1766.01 1282.19M1779.54 1285.57 1780.22 1292.34 1780.22 1299.1 1782.25 1304.51 1784 1307.22" fill="none" stroke="#000" stroke-width="3.6" stroke-linejoin="round"/>
</g>
<g id="coastn" clip-path="url(#night)">
<path d="M302.08 1133.65 302.62 1135.68 304.38 1137.85 308.44 1137.03 313.44 1137.58 317.23 1136.09 318.31 1133.65M324.67 1133.65 328.05 1136.09 332.79 1138.12 336.17 1140.15 338.87 1142.85 340.5 1145.56 338.2 1148.94 336.17 1151.65 333.46 1154.35 332.11 1157.06 331.43 1160.44 328.73 1161.79 326.02 1164.5 322.64 1165.85 320.61 1167.88 318.58 1169.91 314.52 1170.58 310.47 1172.61 307.08 1174.64 305.73 1176.67 301 1178.02 295.58 1180.05 291.53 1182.08 286.79 1184.79 282.06 1186.14 278.67 1186.14 275.29 1188.17 271.23 1189.52 269.2 1190.2 268.53 1188.17 267.45 1182.76 266.5 1176 265.15 1170.58 262.44 1166.53 260.41 1164.09M260.41 1181.14 263.12 1184.11 265.82 1187.49 267.85 1192.23 268.53 1194.94 271.91 1198.32 275.29 1200.08 276.65 1198.32 280.03 1196.96 284.09 1196.56 288.82 1195.61 294.23 1194.66 298.97 1193.58 300.32 1191.96 302.35 1192.91 303.43 1194.94 302.62 1198.32 301.67 1201.7 301 1204.4 298.97 1207.79 296.26 1211.17 294.91 1214.55 294.23 1218.61 291.53 1222.67 288.82 1226.05 285.44 1230.11 282.06 1233.49 278 1236.87 273.94 1240.25 269.88 1244.31 265.82 1247.69 262.44 1251.08 260.41 1253.11M369.31 1133.65 371.34 1136.09 374.72 1139.47 377.43 1142.18 380.81 1142.85 384.87 1143.53 384.19 1144.88 380.14 1144.88 379.46 1146.91 382.16 1150.29 385.55 1152.32 388.25 1153 390.96 1151.65 392.99 1148.94 393.66 1146.23 394.34 1150.29 395.02 1157.06 396.37 1163.82 397.72 1170.58 400.43 1176 403.13 1182.08 405.84 1188.85 409.22 1196.29 411.93 1203.73 413.96 1208.46 417.34 1208.46 419.37 1205.08 422.07 1202.38 424.78 1199.67 426.13 1196.29 426.81 1190.88 427.48 1186.82 426.81 1181.41 426.81 1177.35 429.51 1174.64 434.92 1171.94 437.63 1169.23 443.04 1164.5 448.45 1159.76 453.86 1155.7 456.57 1151.65 459.27 1148.94 461.98 1146.91 466.04 1148.26 470.1 1146.91 474.16 1144.88 476.19 1143.53 478.21 1148.94 480.24 1153 483.63 1156.38 485.65 1159.09 487.68 1162.47 488.36 1167.88 489.04 1173.29 491.07 1175.32 495.8 1173.29 499.86 1170.58 502.56 1171.94 503.92 1176 505 1181.41M426.13 1201.02 428.84 1202.38 430.87 1205.76 432.9 1209.82 434.92 1213.87 434.25 1216.58 430.87 1218.61 427.48 1219.29 425.73 1217.26 424.78 1213.87 424.78 1209.14 425.18 1204.4ZM271.23 1355.51 269.88 1350.51 268.53 1345.1 267.85 1341.04 270.56 1336.98 272.59 1332.92 273.94 1328.86 272.59 1324.81 271.91 1320.75 270.96 1318.04 272.59 1315.34 276.65 1313.31 281.38 1311.28 284.09 1308.57 286.79 1304.51 288.82 1301.81 291.53 1299.78 292.88 1297.07 294.91 1296.67 296.26 1298.43 296.94 1301.13 298.29 1304.51 298.56 1308.57 299.64 1311.95 298.02 1313.98 296.26 1316.69 295.58 1322.1 294.91 1327.51 292.88 1332.92 290.85 1339.69 288.82 1346.45 286.79 1351.86 285.44 1355.51M495 1173.02 499.06 1170.85 501.49 1171.26 502.85 1176 504.2 1182.08 505.15 1188.17 506.09 1194.94 506.09 1200.35 505.55 1203.73 506.9 1206.03 508.53 1208.46 511.23 1212.79 513.67 1218.61 515.02 1224.02 517.32 1229.84 520.7 1234.84 524.76 1237.95 528.14 1239.31 529.63 1237.55 528.82 1230.78 527.2 1223.61 522.73 1218.2 517.32 1212.79 512.32 1206.84 509.34 1203.73 509.88 1198.99 511.23 1193.58 512.59 1188.44 515.29 1186.14 518.67 1188.17 522.06 1191.55 525.44 1196.29 528.82 1199.67 532.2 1202.38 534.23 1205.08 535.58 1203.05 538.29 1200.35 541.67 1198.99 543.02 1196.29 547.08 1194.94 550.47 1192.91 552.49 1189.52 552.9 1184.11 551.82 1179.38 549.11 1174.64 545.05 1169.91 541.67 1165.85 538.97 1162.47 537.21 1159.09 538.02 1155.7 541 1153 543.7 1150.29 547.08 1148.26 550.47 1147.32 553.17 1148.94 555.2 1151.37 557.23 1150.29 559.94 1148.94 563.99 1147.32 567.38 1145.56 570.76 1143.53 576.17 1142.85 581.58 1140.82 584.96 1138.79 587.67 1136.49 590.37 1134.73 593.76 1133.65M549.79 1159.09 551.82 1156.38 555.2 1154.35 558.58 1154.35 560.61 1156.38 559.94 1160.44 557.91 1163.14 554.52 1164.5 551.14 1163.14ZM603.23 1134.06 606.61 1135.41 607.28 1139.47 605.25 1144.2 602.95 1147.32 600.52 1144.88 598.9 1140.82 599.84 1136.76ZM495 1218.2 499.06 1220.37 503.12 1223.61 507.18 1226.86 511.23 1230.78 515.29 1234.44 520.03 1238.5 524.09 1242.55 527.47 1246.61 530.85 1250.4 534.23 1252.43 537.61 1251.35 539.37 1255.14 538.56 1259.87 538.02 1265.28 537.61 1270.02 533.56 1269.34 528.82 1266.63 524.76 1262.58 520.7 1258.52 516.65 1254.46 513.26 1249.05 509.88 1243.64 506.5 1238.23 503.12 1232.81 499.06 1227.67 495 1223.61M545.32 1255.81 547.49 1254.73 549.38 1256.49 548.03 1258.52 545.73 1257.98ZM551.82 1236.87 554.52 1234.84 558.58 1234.17 561.29 1231.46 565.35 1230.11 569.4 1226.73 572.79 1223.34 576.17 1220.64 579.55 1217.93 582.93 1215.9 586.99 1214.55 589.7 1216.58 591.73 1219.29 595.78 1221.99 593.08 1223.34 590.37 1226.05 589.02 1230.11 590.37 1234.17 591.73 1238.23 594.43 1239.58 592.4 1241.61 589.7 1244.99 586.99 1249.05 584.29 1252.43 583.61 1256.49 580.23 1258.52 577.52 1261.22 574.82 1259.87 570.76 1257.84 566.7 1257.84 562.64 1256.49 558.58 1257.16 556.55 1253.78 555.2 1249.72 552.49 1246.34 551.14 1241.61ZM570.08 1355.51 569.4 1351.86 572.11 1349.16 572.79 1344.42 576.17 1341.04 580.23 1337.66 584.29 1334.95 589.7 1333.6 595.11 1332.25 600.52 1330.22 604.58 1328.86 607.28 1325.48 607.96 1320.75 611.34 1317.36 614.05 1319.39 615.4 1315.34 618.78 1312.63 622.16 1308.57 625.55 1305.87 629.6 1305.19 632.99 1307.22 635.02 1310.6 638.4 1309.25 640.43 1309.92 639.75 1306.54 641.78 1303.84 643.81 1300.45 645.84 1297.07 643.13 1295.72 642.46 1294.37 645.84 1293.69 648.54 1295.04 650.57 1293.96 655.31 1294.37 659.37 1295.72 664.1 1296.4 668.84 1297.07 672.22 1298.43 670.87 1301.13 668.16 1302.48 667.48 1305.87 666.13 1309.25 668.84 1311.95 672.9 1313.98 677.63 1316.69 682.36 1319.39 685.75 1322.78 688.45 1319.39 690.48 1314.66 691.83 1309.25 692.51 1303.84 693.19 1298.43 693.86 1293.69 695.22 1290.98 697.25 1292.34 698.6 1297.75 700.63 1303.16 704.01 1307.9 707.39 1312.63 710.1 1318.04 712.13 1323.45 715.51 1328.19 719.57 1332.25 723.63 1336.98 727.01 1341.04 730.39 1345.1 733.1 1349.83 737.15 1353.21 738.51 1355.51M1149.51 1133.65 1154.92 1138.12 1159.66 1143.53 1161.69 1140.82 1157.63 1136.09 1154.92 1133.65M1165.75 1133.65 1169.81 1138.12 1173.86 1142.85 1177.92 1147.59 1179.27 1151.65 1177.25 1155.03 1179.27 1158.41 1184.01 1161.79 1190.1 1165.17 1196.86 1168.56 1203.63 1171.26 1210.39 1173.97 1217.15 1176 1221.21 1173.97 1225 1172.21M1212.42 1133.65 1211.07 1138.12 1211.74 1144.88 1214.45 1151.65 1217.83 1157.06 1221.21 1161.11 1225 1163.41M1215 1176 1219.06 1173.97 1223.12 1172.61 1227.18 1174.64 1232.59 1178.7 1238 1182.08 1243.41 1184.79 1248.82 1186.82 1253.56 1190.2 1258.29 1193.58 1261.67 1197.64 1264.38 1201.02 1267.76 1202.38 1271.82 1205.76 1275.88 1209.14 1279.94 1211.17 1283.32 1213.2 1286.02 1211.17 1288.05 1207.79 1290.08 1205.76 1292.79 1203.73 1296.17 1207.11 1298.2 1211.17 1299.55 1216.58 1299.55 1221.99 1298.87 1227.4 1296.85 1231.46 1293.46 1234.84 1290.76 1238.23 1288.73 1242.28 1286.7 1246.34 1284.67 1248.37 1285.35 1251.75 1286.7 1254.46 1283.99 1258.52 1281.96 1262.58 1281.29 1266.63 1282.64 1270.69 1285.35 1274.75 1288.73 1278.81 1291.43 1282.87 1294.14 1286.93 1296.17 1290.98 1298.87 1295.04 1301.58 1299.1 1303.61 1303.16 1305.64 1305.87 1309.7 1309.92 1315.11 1313.98 1320.52 1317.36 1324.58 1320.75 1327.28 1324.81 1329.31 1330.22 1329.99 1335.63 1329.31 1341.04 1328.64 1346.45 1327.96 1351.86 1327.96 1355.51M1215 1154.35 1217.71 1159.09 1221.76 1162.47 1227.18 1163.82 1232.59 1162.47 1238 1160.44 1241.38 1156.38 1242.73 1151.65 1245.44 1148.94 1250.17 1148.67 1254.91 1148.67 1258.97 1148.94 1256.94 1153.67 1254.91 1158.41 1252.88 1162.47 1251.53 1166.53 1250.17 1170.58 1248.82 1173.29 1252.2 1174.64 1256.94 1175.32 1262.35 1175.32 1267.76 1176 1271.82 1178.02 1273.85 1182.08 1272.49 1186.82 1271.14 1191.55 1271.82 1196.29 1274.52 1199.67 1278.58 1202.38 1282.64 1205.08 1286.7 1205.76 1290.08 1203.73 1293.46 1203.05 1296.85 1205.08 1299.55 1207.79 1301.58 1209.82 1303.61 1206.43 1304.96 1201.7 1306.99 1197.64 1311.05 1196.29 1315.11 1194.94 1319.17 1192.91 1322.55 1190.2 1325.25 1189.52 1327.96 1191.55 1331.34 1190.88 1334.72 1191.55 1336.75 1194.26 1339.46 1196.29 1344.87 1196.96 1350.28 1197.64 1354.34 1199.67 1358.4 1198.32 1363.13 1197.64 1367.87 1196.96 1369.22 1200.35 1369.22 1204.4 1372.6 1207.11 1376.66 1209.82 1380.04 1213.2 1384.1 1216.58 1388.84 1218.61 1393.57 1217.93 1398.31 1219.29 1403.04 1221.31 1407.1 1224.02 1411.16 1227.4 1413.86 1231.46 1415.22 1235.52 1417.92 1236.87 1417.92 1240.93 1415.22 1244.99 1411.83 1246.34 1411.16 1249.72 1414.54 1248.37 1415.22 1246.34 1419.27 1245.67 1423.33 1246.34 1424.01 1249.05 1426.04 1247.02 1430.1 1247.69 1434.16 1249.05 1439.57 1251.75 1443.63 1255.14 1450.39 1255.81 1457.15 1255.81 1461.89 1257.84 1465 1259.87M1430.1 1355.51 1432.8 1351.86 1438.21 1349.16 1443.63 1346.45 1447.68 1345.1 1451.74 1343.74 1455.12 1341.04M1329.31 1355.51 1430.1 1247.97M1455 1256.49 1459.06 1255.81 1463.12 1257.84 1467.18 1261.22 1471.23 1264.6 1475.29 1266.63 1479.35 1266.63 1481.38 1269.34 1482.73 1274.07 1482.06 1278.81 1480.7 1284.22 1478.67 1287.6 1475.29 1290.98 1471.91 1294.37 1469.2 1297.75 1466.5 1301.13 1463.79 1304.51 1463.79 1309.92 1464.47 1316.69 1464.47 1322.1 1462.44 1326.83 1461.09 1331.57 1459.06 1335.63 1456.35 1339.01 1455 1341.04M1567.96 1133.65 1565.25 1136.76 1562.55 1141.5 1559.84 1146.91 1558.49 1151.65 1561.2 1155.7 1562.55 1161.11 1561.87 1167.88 1560.52 1174.64 1558.49 1179.38 1557.14 1181.41 1559.84 1184.11 1560.52 1189.52 1563.23 1193.58 1566.61 1196.96 1569.99 1200.35 1573.37 1203.73 1575.4 1208.46 1578.11 1211.85 1582.16 1215.23 1586.9 1219.29 1591.63 1223.34M1592.18 1223.34 1598.94 1226.73 1601.65 1224.7 1607.06 1223.07 1613.82 1220.91 1616.53 1222.67 1623.29 1223.61 1628.7 1220.91 1634.11 1218.61 1639.52 1216.58 1644.94 1215.63 1650.35 1215.9 1653.05 1218.61 1654.4 1222.67 1657.11 1225.37 1662.52 1225.37 1667.93 1224.7 1670.64 1225.37 1673.34 1228.76 1675.37 1232.14 1673.34 1236.87 1672.67 1242.28 1670.64 1246.34 1669.96 1250.4 1672.67 1254.46 1676.73 1257.84 1680.78 1262.58 1684.17 1267.31 1686.2 1272.72 1688.23 1277.46 1689.58 1282.87 1691.61 1288.28 1692.28 1293.01 1690.25 1297.75 1686.87 1300.73 1685.52 1305.87 1684.17 1311.28 1682.81 1316.69 1682.14 1321.42 1684.17 1326.16 1687.55 1331.57 1690.25 1336.98 1692.96 1342.39 1695.67 1346.45 1695.67 1351.86 1695.67 1355.51M1782.25 1133.65 1784.27 1137.44 1785.63 1142.18 1790.36 1145.56 1793.07 1150.29 1793.74 1155.7 1793.07 1161.11 1797.13 1163.82 1799.83 1167.88 1801.19 1173.29 1805.24 1177.35 1809.3 1179.38 1810.65 1180.05M1793.74 1133.65 1797.8 1138.12 1800.51 1142.85 1801.19 1148.94 1801.86 1153.67 1805.92 1156.38 1809.3 1159.09 1810.65 1161.11M1810.65 1253.78 1805.24 1254.46 1803.21 1259.87 1801.19 1265.28 1799.16 1270.02 1802.54 1273.4 1803.21 1278.81 1802.54 1283.54 1805.24 1287.6 1809.3 1289.63 1807.27 1292.34 1807.27 1305.87 1808.63 1309.92 1810.65 1311.28 1805.92 1315.34 1801.86 1318.72 1796.45 1320.07 1792.39 1322.1 1789.01 1326.16 1784.95 1330.22 1781.57 1332.92 1783.6 1336.98 1784.95 1342.39 1786.3 1347.8 1785.63 1351.86 1783.6 1355.51M1768.72 1255.81 1769.39 1247.69 1771.42 1243.64 1775.48 1242.28 1779.54 1243.37 1780.22 1246.34 1778.19 1251.08 1776.16 1255.14 1772.1 1256.08ZM1688.9 1182.76 1692.28 1182.49 1695.67 1184.11 1698.37 1186.82 1694.99 1189.52 1692.28 1190.2 1690.25 1186.14Z" fill="none" stroke="#f2f2f2" stroke-width="2" stroke-linejoin="round"/>
<path d="M311.14 1189.93 313.17 1188.71 316.55 1188.98 317.91 1190.2 315.88 1191.42 312.49 1191.28ZM480.65 1186.82 483.08 1186.14 483.63 1189.52 482.81 1193.31 480.65 1193.58 480.38 1190.2ZM319.26 1338.33 321.29 1335.36 323.32 1338.33ZM328.19 1332.38 330.62 1332.38 330.62 1334.55 328.19 1334.55ZM500.41 1237.55 502.44 1236.87 504.47 1239.58 503.39 1241.2 501.09 1239.85ZM506.5 1248.37 508.26 1247.69 509.88 1251.08 508.53 1252.84 506.9 1251.08ZM535.58 1251.48 538.97 1252.43 541.67 1255.81 540.32 1257.44 537.21 1255.14ZM606.44 1213.37 609.22 1213.37 609.22 1215.35 606.44 1215.35ZM664.41 1246.32 667.59 1245.92 669.57 1248.7 667.59 1250.29 665.2 1249.1ZM645.75 1277.29 648.13 1274.91 649.48 1276.5 647.34 1279.04ZM712.85 1252.28 716.03 1252.28 716.03 1253.86 712.85 1253.86ZM758 1278.81 762.06 1279.89 761.79 1281.52 758.27 1280.43ZM764.09 1276.78 769.5 1278.81 769.09 1280.84 764.49 1278.81ZM850.67 1317.36 854.05 1315.61 857.43 1314.25 857.84 1316.01 854.05 1317.77ZM886.52 1301.81 890.57 1302.48 894.63 1304.51 893.96 1305.87 889.22 1304.78 886.24 1303.43ZM941.3 1146.91 944.01 1145.15 947.39 1145.96 946.04 1148.26 942.66 1148.67ZM950.1 1148.94 954.16 1148.67 957.54 1151.37 955.51 1152.46 951.45 1150.97ZM956.86 1151.65 960.92 1152.32 962.95 1155.03 960.24 1155.43ZM987.18 1320.48 989.88 1320.75 989.61 1323.72ZM1365.16 1172.61 1367.87 1171.94 1368.54 1174.64 1365.84 1175.32ZM1238.27 1244.72 1240.43 1244.04 1241.79 1248.37 1240.03 1249.72 1238.27 1247.69Z" fill="#f2f2f2" stroke="#f2f2f2" stroke-width="2" stroke-linejoin="round"/>
<path d="M536.26 1270.69 541 1269.34 546.41 1270.69 551.82 1271.37 557.23 1272.05 562.64 1272.72 568.05 1274.07 573.46 1276.78 576.17 1278.81 574.82 1281.52 570.76 1282.19 565.35 1280.84 559.94 1279.49 554.52 1278.13 549.11 1276.78 543.7 1275.43 538.97 1274.07ZM577.52 1279.49 584.29 1278.81 592.4 1279.49 600.52 1278.81 608.64 1279.49 615.4 1279.49 615.4 1281.52 608.64 1281.52 600.52 1281.79 592.4 1282.19 584.29 1281.52 577.52 1281.52ZM606.84 1193.91 611.21 1193.12 614.38 1196.29 612.79 1199.47 608.82 1202.65 608.03 1198.68ZM615.57 1213.76 616.76 1217.73 622.32 1220.27 624.7 1217.73 627.72 1215.35 626.45 1212.97M598.5 1240.36 604.06 1238.38 611.21 1238.38 616.76 1237.59 619.94 1236 622.32 1237.98 619.94 1240.76 615.18 1241.95 608.82 1242.35 603.26 1242.75 600.09 1243.94 600.09 1247.11 602.07 1249.5 604.85 1248.31 608.82 1247.11 612.79 1246.32 614.38 1247.11 611.21 1247.91 608.03 1249.5 605.65 1251.48 607.23 1254.26 608.82 1257.44 610.41 1261.41 612.79 1264.58 612.4 1266.97 609.62 1269.35 607.63 1266.17 605.65 1262.2 603.66 1258.23 602.07 1255.06 601.68 1256.64 600.09 1260.61 600.48 1265.38 599.69 1269.35 595.72 1267.76 596.91 1264.58 596.91 1260.61 594.53 1259.03 592.54 1256.64 594.93 1255.06 595.32 1250.29 596.12 1244.73ZM630.66 1235.2 633.44 1234.41 636.62 1237.59 635.82 1242.35 634.63 1246.32 635.42 1248.7 634.23 1251.09 630.26 1250.69 632.25 1248.7 632.65 1245.53 630.66 1242.35 629.47 1239.17ZM1294.82 1134.73 1297.52 1138.12M1305.64 1135.41 1308.34 1139.47 1311.05 1142.85M1315.11 1146.23 1317.81 1150.29M1321.2 1146.91 1323.23 1148.94" fill="none" stroke="#f2f2f2" stroke-width="2.6" stroke-linejoin="round"/>
<path d="M594.43 1284.9 599.17 1284.22 603.23 1286.93 600.52 1288.55 595.78 1287.6ZM613.37 1288.28 616.75 1285.57 622.16 1282.87 626.9 1280.84 628.25 1282.19 624.87 1284.9 619.46 1287.6 614.72 1290.31ZM617.43 1278.81 622.16 1277.46 626.9 1275.43 629.6 1276.78 628.25 1279.49 623.52 1280.16ZM601.28 1162.54 608.82 1162.54 610.41 1169.29 608.82 1174.06 605.25 1178.03 607.23 1181.21 609.62 1181.21 614.38 1184.38 618.35 1189.15 623.12 1189.94 623.91 1195.5 622.32 1197.09 619.15 1193.12 615.18 1189.15 611.21 1185.97 608.03 1185.18 606.04 1189.15 604.46 1191.53 602.07 1188.35 600.88 1182.79 598.5 1178.82 597.71 1174.06 599.69 1167.71ZM619.15 1197.88 622.32 1199.47 623.12 1203.44 620.73 1202.65ZM617.95 1251.88 621.53 1251.88M623.51 1259.03 626.69 1256.64 630.26 1258.23 629.47 1260.61 626.29 1261.01ZM632.65 1257.44 635.82 1255.45 640.59 1255.45 644.56 1256.64 645.75 1261.41 642.17 1260.61 639 1259.42 635.82 1259.82ZM642.17 1244.73 646.15 1244.34 649.32 1247.11 652.5 1244.73 655.67 1244.73 659.25 1247.51 660.44 1250.69 662.42 1254.26 663.62 1257.44 666 1257.44 667.98 1254.26 670.76 1251.48 674.73 1250.29 678.7 1250.69 684.26 1253.07 689.82 1255.45 696.17 1257.44 701.73 1259.03 706.5 1261.81 708.88 1265.38 711.26 1267.76 716.03 1269.35 721.58 1270.14 727.14 1268.56 731.91 1266.17 734.29 1263.79M642.17 1244.73 644.16 1247.51 647.73 1251.09 650.12 1255.06 652.5 1258.23 654.88 1259.82 658.85 1260.61 662.82 1262.2 666.79 1263.39 670.76 1264.58 673.94 1266.17 676.32 1268.56 677.91 1271.73 679.5 1274.91 676.32 1277.29 674.73 1280.07 678.7 1279.67 682.67 1278.88 685.85 1280.47 688.23 1282.85 691.41 1284.44 696.17 1285.23 699.35 1282.85 701.73 1278.88 704.11 1276.5 707.29 1277.29 710.47 1279.67 713.64 1282.85 716.82 1286.03 720 1289.2M658.45 1269.35 660.84 1267.36 662.66 1270.14 661.23 1274.11 658.85 1273.72ZM733.77 1257.16 737.15 1255.81 740.54 1258.52 742.29 1263.25 739.86 1265.28 736.48 1263.25 734.45 1260.55ZM704.01 1276.1 707.39 1276.78 710.77 1278.81M735 1257.84 738.38 1258.52 741.09 1263.25 738.38 1265.28 735 1263.93ZM788.44 1333.6 791.82 1332.92 798.58 1338.33 802.64 1343.07 801.02 1344.15 794.52 1341.04 789.11 1336.3ZM844.85 1320.75 847.96 1319.12 851.07 1321.02 849.99 1324.26 846.61 1324.81ZM959.57 1156.38 963.63 1155.03 967.01 1157.73 965.65 1161.39 962.27 1162.47 959.3 1159.76ZM1267.08 1147.59 1270.47 1143.53 1275.88 1141.5 1282.64 1140.82 1288.73 1142.85 1294.82 1146.23 1300.23 1150.29 1305.64 1153.67 1309.7 1155.03 1311.73 1157.06 1306.99 1157.73 1301.58 1156.38 1297.52 1153.67 1292.79 1150.29 1288.05 1148.26 1282.64 1146.91 1277.91 1144.88 1274.52 1146.23 1271.14 1148.26ZM1317.14 1156.38 1321.87 1155.03 1327.28 1156.38 1332.02 1158.41 1335.4 1160.44 1333.37 1163.14 1329.31 1163.82 1325.93 1165.17 1323.23 1167.2 1319.17 1165.17 1315.11 1163.82 1312.4 1163.14 1316.46 1161.79 1319.17 1159.76ZM1294.82 1163.14 1298.87 1161.79 1303.61 1163.14 1304.29 1165.85 1299.55 1167.2 1295.49 1165.85ZM1341.49 1163.14 1345.55 1162.2 1349.6 1163.14 1349.6 1165.85 1344.87 1166.8 1341.49 1165.44ZM1279.94 1136.09 1282.64 1133.65" fill="none" stroke="#f2f2f2" stroke-width="2.4" stroke-linejoin="round"/>
<path d="M614.38 1199.47 617.56 1196.29 620.73 1194.7 623.91 1197.09 624.7 1201.06 626.29 1205.03 624.7 1207.01 621.53 1204.23 619.15 1206.62 615.97 1205.82 612 1206.62 611.21 1203.44 614.38 1202.65Z" fill="none" stroke="#f2f2f2" stroke-width="2.8" stroke-linejoin="round"/>
<path d="M586.59 1206.62 597.71 1196.29" fill="none" stroke="#f2f2f2" stroke-width="3.4" stroke-linejoin="round"/>
<path d="M648.53 1248.7 652.5 1252.28 656.47 1254.26 658.85 1253.86 657.26 1251.09 654.09 1249.5M710.77 1278.81 713.48 1281.52 716.19 1284.9 718.89 1287.6 722.95 1286.93 726.33 1287.6 729.71 1288.96 731.07 1290.98 728.36 1291.66 724.98 1289.63 722.27 1285.57 718.89 1281.52 715.51 1277.46 714.83 1274.07 718.21 1272.05 723.63 1270.96 729.04 1269.61 733.77 1267.31 736.48 1264.6M1323.23 1191.55 1324.58 1195.61 1323.23 1200.35 1323.9 1205.08 1325.93 1205.76 1327.28 1200.35 1327.01 1194.94 1327.55 1191.96" fill="none" stroke="#f2f2f2" stroke-width="2.2" stroke-linejoin="round"/>
<path d="M747.85 1267.99 751.23 1270.02 751.91 1273.4 749.2 1273.67 747.45 1270.69ZM752.59 1273.4 759.35 1275.83 760.03 1277.73 753.94 1275.83ZM767.47 1284.22 772.2 1283.54 774.23 1286.93 769.5 1288.01ZM772.88 1280.16 776.26 1281.52 778.97 1286.93 781.67 1291.66 779.64 1292.34 775.58 1287.6ZM799.66 1308.57 801.96 1309.25 805.35 1316.69 803.72 1317.77 800.21 1311.95Z" fill="#f2f2f2" stroke="#f2f2f2" stroke-width="2.4" stroke-linejoin="round"/>
<path d="M1368.54 1179.38 1370.57 1180.73" fill="none" stroke="#f2f2f2" stroke-width="3" stroke-linejoin="round"/>
<path d="M1757.22 1258.52 1758.57 1263.93 1760.6 1270.69 1763.31 1276.1 1766.01 1282.19M1779.54 1285.57 1780.22 1292.34 1780.22 1299.1 1782.25 1304.51 1784 1307.22" fill="none" stroke="#f2f2f2" stroke-width="3.6" stroke-linejoin="round"/>
</g>
<path d="M260.5 1288.75 266.5 1287.81 272.5 1286.87 278.5 1285.92 284.5 1284.98 290.5 1284.03 296.5 1283.07 302.5 1282.09 308.5 1281.1 314.5 1280.09 320.5 1279.05 326.5 1277.99 332.5 1276.89 338.5 1275.76 344.5 1274.6 350.5 1273.39 356.5 1272.14 362.5 1270.86 368.5 1269.53 374.5 1268.17 380.5 1266.77 386.5 1265.34 392.5 1263.87 398.5 1262.38 404.5 1260.86 410.5 1259.31 416.5 1257.74 422.5 1256.15 428.5 1254.55 434.5 1252.93 440.5 1251.31 446.5 1249.68 452.5 1248.06 458.5 1246.43 464.5 1244.82 466.8 1244.2M573.4 1243.7 579.4 1242.44 585.4 1241.18 591.4 1239.93 597.4 1238.67 603.4 1237.41 609.4 1236.13 615.4 1234.83 621.4 1233.51 627.4 1232.17 633.4 1230.79 639.4 1229.37 645.4 1227.9 651.4 1226.39 657.4 1224.85 663.4 1223.28 669.4 1221.71 675.4 1220.16 681.4 1218.62 687.4 1217.13 693.4 1215.69 699.4 1214.31 705.4 1212.96 711.4 1211.65 717.4 1210.36 723.4 1209.08 729.4 1207.8 735.4 1206.53 741.4 1205.28 747.4 1204.05 753.4 1202.87 759.4 1201.73 765.4 1200.65 771.4 1199.63 777.4 1198.7 783.4 1197.84 789.4 1197.07 795.4 1196.39 801.4 1195.76 807.4 1195.14 813.4 1194.47 819.4 1193.73 825.4 1192.99 831.4 1192.31 837.4 1191.7 843.4 1191.14 849.4 1190.64 855.4 1190.18 861.4 1189.77 867.4 1189.39 873.4 1189.04 879.4 1188.72 885.4 1188.42 891.4 1188.15 897.4 1187.89 903.4 1187.66 909.4 1187.45 915.4 1187.26 921.4 1187.12 927.4 1187.02 933.4 1186.99 939.4 1187.01 945.4 1187.09 951.4 1187.23 957.4 1187.43 963.4 1187.68 969.4 1187.98 975.4 1188.32 981.4 1188.72 987.4 1189.15 993.4 1189.63 999.4 1190.15 1005.4 1190.7 1011.4 1191.29 1017.4 1191.91 1023.4 1192.56 1029.4 1193.23 1035.4 1193.94 1041.4 1194.66 1047.4 1195.41 1053.4 1196.18 1059.4 1196.98 1065.4 1197.79 1071.4 1198.63 1077.4 1199.48 1083.4 1200.36 1089.4 1201.26 1095.4 1202.18 1101.4 1203.11 1107.4 1204.07 1113.4 1205.05 1119.4 1206.04 1125.4 1207.05 1131.4 1208.07 1137.4 1209.12 1143.4 1210.18 1149.4 1211.25 1155.4 1212.34 1161.4 1213.45 1167.4 1214.58 1173.4 1215.72 1179.4 1216.89 1185.4 1218.07 1191.4 1219.28 1197.4 1220.51 1203.4 1221.77 1209.4 1223.07 1215.4 1224.42 1221.4 1225.82 1227.4 1227.3 1233.4 1228.84 1239.4 1230.43 1245.4 1232.05 1251.4 1233.7 1257.4 1235.34 1263.4 1236.96 1269.4 1238.57 1275.4 1240.15 1281.4 1241.7 1287.4 1243.21 1293.4 1244.69 1299.4 1246.13 1305.4 1247.52 1311.4 1248.87 1317.4 1250.16 1323.4 1251.42 1329.4 1252.67 1335.4 1253.92 1341.4 1255.19 1347.4 1256.51 1353.4 1257.89 1359.4 1259.35 1365.4 1260.86 1371.4 1262.4 1377.4 1263.93 1383.4 1265.43 1389.4 1266.9 1395.4 1268.33 1401.4 1269.73 1407.4 1271.1 1413.4 1272.43 1419.4 1273.72 1425.4 1274.97 1431.4 1276.2 1437.4 1277.39 1443.4 1278.57 1449.4 1279.73 1455.4 1280.88 1461.4 1282.02 1467.4 1283.14 1473.4 1284.26 1479.4 1285.35 1485.4 1286.42 1491.4 1287.46 1497.4 1288.46 1503.4 1289.43 1509.4 1290.36 1515.4 1291.24 1521.4 1292.08 1527.4 1292.88 1533.4 1293.63 1539.4 1294.33 1545.4 1295 1551.4 1295.62 1557.4 1296.2 1563.4 1296.73 1569.4 1297.23 1575.4 1297.69 1581.4 1298.12 1587.4 1298.52 1593.4 1298.89 1599.4 1299.24 1605.4 1299.58 1611.4 1299.89 1617.4 1300.21 1623.4 1300.51 1629.4 1300.79 1635.4 1301.03 1641.4 1301.23 1647.4 1301.36 1653.4 1301.42 1659.4 1301.41 1665.4 1301.33 1671.4 1301.18 1677.4 1300.97 1683.4 1300.69 1689.4 1300.34 1695.4 1299.94 1701.4 1299.5 1707.4 1299.03 1713.4 1298.55 1719.4 1298.07 1725.4 1297.59 1731.4 1297.1 1737.4 1296.61 1743.4 1296.11 1749.4 1295.59 1755.4 1295.05 1761.4 1294.48 1767.4 1293.9 1773.4 1293.29 1779.4 1292.68 1785.4 1292.05 1791.4 1291.41 1797.4 1290.78 1803.4 1290.14 1809.4 1289.51 1810.5 1289.4" fill="none" stroke="#c80a1e" stroke-width="1.1"/>
<path d="M258 1207.65 300 1207.95 350 1207.95 440 1206.85 520 1206.35 591 1206.05 660 1206.55 700 1207.55 716 1208.75 795 1218.2 903 1235.75 957 1243.35 1065 1258.7 1150 1270.35 1204 1280.15 1255.6 1287.95 1296.2 1293.65 1308.3 1294.75 1374.6 1277.75 1404.4 1262.25 1431.5 1244.65 1501 1212.15 1563.2 1196.15 1590 1193.95 1630.9 1192.95 1674.7 1194.35 1715.3 1198.65 1769.4 1204.05 1813 1208.15 1813 1214.25 1769.4 1210.15 1715.3 1204.75 1674.7 1200.45 1630.9 1199.05 1590 1200.05 1563.2 1202.25 1501 1218.25 1431.5 1250.75 1404.4 1268.35 1374.6 1283.85 1308.3 1300.85 1296.2 1299.75 1255.6 1294.05 1204 1286.25 1150 1276.45 1065 1264.8 957 1249.45 903 1241.85 795 1224.3 716 1214.85 700 1213.65 660 1212.65 591 1212.15 520 1212.45 440 1212.95 350 1214.05 300 1214.05 258 1213.75Z" fill="#06f906" stroke="#06f906" stroke-width="0.4" stroke-linejoin="round"/>
<path d="M817.65 1187.2 827.55 1185.99 827.55 1199.49 817.65 1200.7ZM831.5 1185.55 841.4 1184.57 841.4 1198.07 831.5 1199.05ZM845.35 1184.22 855.25 1183.44 855.25 1196.94 845.35 1197.72ZM859.2 1183.17 869.1 1182.54 869.1 1196.04 859.2 1196.67ZM873.05 1182.31 882.95 1181.79 882.95 1195.29 873.05 1195.81ZM886.9 1181.6 896.8 1181.17 896.8 1194.67 886.9 1195.1ZM900.75 1181.01 910.65 1180.66 910.65 1194.16 900.75 1194.51ZM914.6 1180.54 924.5 1180.31 924.5 1193.81 914.6 1194.04ZM928.45 1180.26 938.35 1180.25 938.35 1193.75 928.45 1193.76ZM942.3 1180.29 952.2 1180.51 952.2 1194.01 942.3 1193.79ZM956.15 1180.63 966.05 1181.05 966.05 1194.55 956.15 1194.13ZM970 1181.26 979.9 1181.86 979.9 1195.36 970 1194.76ZM983.85 1182.14 993.75 1182.91 993.75 1196.41 983.85 1195.64ZM997.7 1183.25 1007.6 1184.16 1007.6 1197.66 997.7 1196.75ZM1011.55 1184.55 1021.45 1185.59 1021.45 1199.09 1011.55 1198.05ZM1025.4 1186.03 1035.3 1187.18 1035.3 1200.68 1025.4 1199.53ZM1039.25 1187.65 1049.15 1188.89 1049.15 1202.39 1039.25 1201.15ZM1053.1 1189.39 1063 1190.71 1063 1204.21 1053.1 1202.89ZM1066.95 1191.25 1076.85 1192.65 1076.85 1206.15 1066.95 1204.75ZM1080.8 1193.23 1090.7 1194.7 1090.7 1208.2 1080.8 1206.73ZM1094.65 1195.31 1104.55 1196.86 1104.55 1210.36 1094.65 1208.81ZM1108.5 1197.5 1118.4 1199.12 1118.4 1212.62 1108.5 1211ZM1122.35 1199.78 1132.25 1201.47 1132.25 1214.97 1122.35 1213.28ZM1136.2 1202.16 1146.1 1203.91 1146.1 1217.41 1136.2 1215.66ZM1150.05 1204.62 1159.95 1206.43 1159.95 1219.93 1150.05 1218.12ZM1163.9 1207.17 1173.8 1209.05 1173.8 1222.55 1163.9 1220.67ZM1177.75 1209.82 1187.65 1211.77 1187.65 1225.27 1177.75 1223.32ZM1191.6 1212.57 1201.5 1214.62 1201.5 1228.12 1191.6 1226.07ZM1205.45 1215.46 1215.35 1217.65 1215.35 1231.15 1205.45 1228.96ZM1219.3 1218.57 1229.2 1221 1229.2 1234.5 1219.3 1232.07ZM1233.15 1222.02 1243.05 1224.67 1243.05 1238.17 1233.15 1235.52ZM1247 1225.74 1256.9 1228.45 1256.9 1241.95 1247 1239.24ZM1260.85 1229.52 1270.75 1232.17 1270.75 1245.67 1260.85 1243.02ZM1274.7 1233.21 1284.6 1235.76 1284.6 1249.26 1274.7 1246.71ZM1288.55 1236.75 1298.45 1239.16 1298.45 1252.66 1288.55 1250.25ZM1302.4 1240.08 1312.3 1242.32 1312.3 1255.82 1302.4 1253.58ZM1316.25 1243.17 1326.15 1245.25 1326.15 1258.75 1316.25 1256.67ZM1330.1 1246.06 1340 1248.14 1340 1261.64 1330.1 1259.56ZM1343.95 1249 1353.6 1251.19 1353.6 1264.69 1343.95 1262.5Z" fill="#ff0000"/>
</g>
<g id="ax3" fill="none" stroke="#000" stroke-width="1.1">
<path d="M260.5 1133.5H1810.5V1355.5H260.5ZM260.5 1179.5h15M1810.5 1179.5h-15M260.5 1244.5h15M1810.5 1244.5h-15M260.5 1309.5h15M1810.5 1309.5h-15M439.5 1133.5v16M439.5 1355.5v-16M723.5 1133.5v16M723.5 1355.5v-16M904.5 1133.5v16M904.5 1355.5v-16M1085.5 1133.5v16M1085.5 1355.5v-16M1267.5 1133.5v16M1267.5 1355.5v-16M1448.5 1133.5v16M1448.5 1355.5v-16M1629.5 1133.5v16M1629.5 1355.5v-16"/>
</g>
<text transform="translate(250.8,1192.6) scale(1.09,1)" font-size="26.67" text-anchor="end" xml:space="preserve">15<tspan font-size="21" dy="-12.6">o</tspan><tspan dy="12.6">N</tspan></text>
<text transform="translate(243,1257.2) scale(1.05,1)" font-size="26.67" text-anchor="end" xml:space="preserve">0<tspan font-size="21" dy="-12.6">o</tspan></text>
<text transform="translate(250.8,1322.6) scale(1.09,1)" font-size="26.67" text-anchor="end" xml:space="preserve">15<tspan font-size="21" dy="-12.6">o</tspan><tspan dy="12.6">S</tspan></text>
<g id="table">
<text transform="translate(255.8,1409.2) scale(1.06,1)" font-size="26.67" text-anchor="middle" fill="#000" xml:space="preserve">GLON</text>
<text transform="translate(438.5,1409.2) scale(1.06,1)" font-size="26.67" text-anchor="middle" fill="#000" xml:space="preserve">083.1</text>
<text transform="translate(722.5,1409.2) scale(1.06,1)" font-size="26.67" text-anchor="middle" fill="#000" xml:space="preserve">149.0</text>
<text transform="translate(903.5,1409.2) scale(1.06,1)" font-size="26.67" text-anchor="middle" fill="#000" xml:space="preserve">191.0</text>
<text transform="translate(1084.5,1409.2) scale(1.06,1)" font-size="26.67" text-anchor="middle" fill="#000" xml:space="preserve">233.1</text>
<text transform="translate(1266.5,1409.2) scale(1.06,1)" font-size="26.67" text-anchor="middle" fill="#000" xml:space="preserve">275.2</text>
<text transform="translate(1447.5,1409.2) scale(1.06,1)" font-size="26.67" text-anchor="middle" fill="#000" xml:space="preserve">317.3</text>
<text transform="translate(1628.5,1409.2) scale(1.06,1)" font-size="26.67" text-anchor="middle" fill="#000" xml:space="preserve">359.3</text>
<text transform="translate(1809.5,1409.2) scale(1.06,1)" font-size="26.67" text-anchor="middle" fill="#000" xml:space="preserve">041.3</text>
<text transform="translate(255.8,1450.2) scale(1.06,1)" font-size="26.67" text-anchor="middle" fill="#000" xml:space="preserve">GLAT</text>
<text transform="translate(438.5,1450.2) scale(1.06,1)" font-size="26.67" text-anchor="middle" fill="#000" xml:space="preserve">-01.5</text>
<text transform="translate(722.5,1450.2) scale(1.06,1)" font-size="26.67" text-anchor="middle" fill="#000" xml:space="preserve">+08.1</text>
<text transform="translate(903.5,1450.2) scale(1.06,1)" font-size="26.67" text-anchor="middle" fill="#000" xml:space="preserve">+13.0</text>
<text transform="translate(1084.5,1450.2) scale(1.06,1)" font-size="26.67" text-anchor="middle" fill="#000" xml:space="preserve">+10.4</text>
<text transform="translate(1266.5,1450.2) scale(1.06,1)" font-size="26.67" text-anchor="middle" fill="#000" xml:space="preserve">+01.6</text>
<text transform="translate(1447.5,1450.2) scale(1.06,1)" font-size="26.67" text-anchor="middle" fill="#000" xml:space="preserve">-08.2</text>
<text transform="translate(1628.5,1450.2) scale(1.06,1)" font-size="26.67" text-anchor="middle" fill="#000" xml:space="preserve">-13.0</text>
<text transform="translate(1809.5,1450.2) scale(1.06,1)" font-size="26.67" text-anchor="middle" fill="#000" xml:space="preserve">-10.3</text>
<text transform="translate(255.8,1491.2) scale(1.06,1)" font-size="26.67" text-anchor="middle" fill="#000" xml:space="preserve"> GALT</text>
<text transform="translate(438.5,1491.2) scale(1.06,1)" font-size="26.67" text-anchor="middle" fill="#000" xml:space="preserve"> 784</text>
<text transform="translate(722.5,1491.2) scale(1.06,1)" font-size="26.67" text-anchor="middle" fill="#000" xml:space="preserve"> 706</text>
<text transform="translate(903.5,1491.2) scale(1.06,1)" font-size="26.67" text-anchor="middle" fill="#000" xml:space="preserve"> 563</text>
<text transform="translate(1084.5,1491.2) scale(1.06,1)" font-size="26.67" text-anchor="middle" fill="#000" xml:space="preserve"> 439</text>
<text transform="translate(1266.5,1491.2) scale(1.06,1)" font-size="26.67" text-anchor="middle" fill="#000" xml:space="preserve"> 398</text>
<text transform="translate(1447.5,1491.2) scale(1.06,1)" font-size="26.67" text-anchor="middle" fill="#000" xml:space="preserve"> 469</text>
<text transform="translate(1628.5,1491.2) scale(1.06,1)" font-size="26.67" text-anchor="middle" fill="#000" xml:space="preserve"> 609</text>
<text transform="translate(1809.5,1491.2) scale(1.06,1)" font-size="26.67" text-anchor="middle" fill="#000" xml:space="preserve"> 739</text>
<text transform="translate(255.8,1532.2) scale(1.06,1)" font-size="26.67" text-anchor="middle" fill="#000" xml:space="preserve">MLON</text>
<text transform="translate(438.5,1532.2) scale(1.06,1)" font-size="26.67" text-anchor="middle" fill="#000" xml:space="preserve">153.9</text>
<text transform="translate(722.5,1532.2) scale(1.06,1)" font-size="26.67" text-anchor="middle" fill="#000" xml:space="preserve">219.3</text>
<text transform="translate(903.5,1532.2) scale(1.06,1)" font-size="26.67" text-anchor="middle" fill="#000" xml:space="preserve">259.4</text>
<text transform="translate(1084.5,1532.2) scale(1.06,1)" font-size="26.67" text-anchor="middle" fill="#000" xml:space="preserve">301.5</text>
<text transform="translate(1266.5,1532.2) scale(1.06,1)" font-size="26.67" text-anchor="middle" fill="#000" xml:space="preserve">345.0</text>
<text transform="translate(1447.5,1532.2) scale(1.06,1)" font-size="26.67" text-anchor="middle" fill="#000" xml:space="preserve">028.1</text>
<text transform="translate(1628.5,1532.2) scale(1.06,1)" font-size="26.67" text-anchor="middle" fill="#000" xml:space="preserve">067.4</text>
<text transform="translate(1809.5,1532.2) scale(1.06,1)" font-size="26.67" text-anchor="middle" fill="#000" xml:space="preserve">111.6</text>
<text transform="translate(255.8,1573.2) scale(1.06,1)" font-size="26.67" text-anchor="middle" fill="#000" xml:space="preserve">MLAT</text>
<text transform="translate(438.5,1573.2) scale(1.06,1)" font-size="26.67" text-anchor="middle" fill="#000" xml:space="preserve">-11.7</text>
<text transform="translate(722.5,1573.2) scale(1.06,1)" font-size="26.67" text-anchor="middle" fill="#000" xml:space="preserve">+00.3</text>
<text transform="translate(903.5,1573.2) scale(1.06,1)" font-size="26.67" text-anchor="middle" fill="#000" xml:space="preserve">+12.6</text>
<text transform="translate(1084.5,1573.2) scale(1.06,1)" font-size="26.67" text-anchor="middle" fill="#000" xml:space="preserve">+14.9</text>
<text transform="translate(1266.5,1573.2) scale(1.06,1)" font-size="26.67" text-anchor="middle" fill="#000" xml:space="preserve">+12.6</text>
<text transform="translate(1447.5,1573.2) scale(1.06,1)" font-size="26.67" text-anchor="middle" fill="#000" xml:space="preserve">-02.2</text>
<text transform="translate(1628.5,1573.2) scale(1.06,1)" font-size="26.67" text-anchor="middle" fill="#000" xml:space="preserve">-23.2</text>
<text transform="translate(1809.5,1573.2) scale(1.06,1)" font-size="26.67" text-anchor="middle" fill="#000" xml:space="preserve">-20.6</text>
<text transform="translate(255.8,1613.6) scale(1.06,1)" font-size="26.67" text-anchor="middle" fill="#000" xml:space="preserve">UT</text>
<text transform="translate(438.5,1613.6) scale(1.06,1)" font-size="26.67" text-anchor="middle" fill="#000" xml:space="preserve">09:32</text>
<text transform="translate(722.5,1613.6) scale(1.06,1)" font-size="26.67" text-anchor="middle" fill="#000" xml:space="preserve">08:09</text>
<text transform="translate(903.5,1613.6) scale(1.06,1)" font-size="26.67" text-anchor="middle" fill="#000" xml:space="preserve">08:21</text>
<text transform="translate(1084.5,1613.6) scale(1.06,1)" font-size="26.67" text-anchor="middle" fill="#000" xml:space="preserve">08:32</text>
<text transform="translate(1266.5,1613.6) scale(1.06,1)" font-size="26.67" text-anchor="middle" fill="#000" xml:space="preserve">08:44</text>
<text transform="translate(1447.5,1613.6) scale(1.06,1)" font-size="26.67" text-anchor="middle" fill="#000" xml:space="preserve">08:56</text>
<text transform="translate(1628.5,1613.6) scale(1.06,1)" font-size="26.67" text-anchor="middle" fill="#000" xml:space="preserve">09:07</text>
<text transform="translate(1809.5,1613.6) scale(1.06,1)" font-size="26.67" text-anchor="middle" fill="#000" xml:space="preserve">09:19</text>
<text transform="translate(255.8,1654.4) scale(1.06,1)" font-size="26.67" text-anchor="middle" fill="#000" xml:space="preserve">SLT </text>
<text transform="translate(438.5,1654.4) scale(1.06,1)" font-size="26.67" text-anchor="middle" fill="#000" xml:space="preserve">15:00</text>
<text transform="translate(722.5,1654.4) scale(1.06,1)" font-size="26.67" text-anchor="middle" fill="#000" xml:space="preserve">18:00</text>
<text transform="translate(903.5,1654.4) scale(1.06,1)" font-size="26.67" text-anchor="middle" fill="#000" xml:space="preserve">21:00</text>
<text transform="translate(1084.5,1654.4) scale(1.06,1)" font-size="26.67" text-anchor="middle" fill="#000" xml:space="preserve">00:00</text>
<text transform="translate(1266.5,1654.4) scale(1.06,1)" font-size="26.67" text-anchor="middle" fill="#000" xml:space="preserve">03:00</text>
<text transform="translate(1447.5,1654.4) scale(1.06,1)" font-size="26.67" text-anchor="middle" fill="#000" xml:space="preserve">06:00</text>
<text transform="translate(1628.5,1654.4) scale(1.06,1)" font-size="26.67" text-anchor="middle" fill="#000" xml:space="preserve">09:00</text>
<text transform="translate(1809.5,1654.4) scale(1.06,1)" font-size="26.67" text-anchor="middle" fill="#000" xml:space="preserve">12:00</text>
</g>
<text transform="translate(1900.2,1661.5) rotate(-90) scale(1.01,1)" font-size="21.33" text-anchor="start" fill="#000" id="rt1" xml:space="preserve">Preliminary corrected calibration, 2/11/09</text>
<text transform="translate(1923.5,1661.5) rotate(-90) scale(1.01,1)" font-size="21.33" text-anchor="start" fill="#000" id="rt2" xml:space="preserve">Produced 01-Feb-2012 18:00:21</text>
</svg></body></html>
